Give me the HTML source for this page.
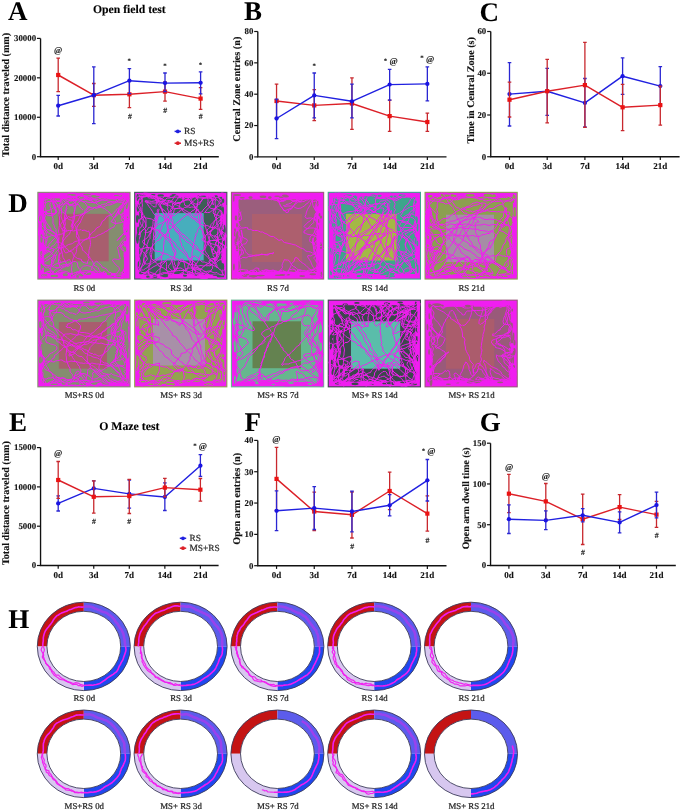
<!DOCTYPE html>
<html><head><meta charset="utf-8"><style>
html,body{margin:0;padding:0;background:#fff;overflow:hidden;width:685px;height:812px;}
svg{display:block;filter:blur(0.35px);}
text{font-family:'Liberation Serif', serif;text-rendering:geometricPrecision;}
</style></head><body>
<svg width="685" height="812" viewBox="0 0 685 812">
<rect width="685" height="812" fill="#fff"/>
<text x="7.90" y="20.40" font-size="27" font-weight="bold" text-anchor="start" fill="#000" >A</text>
<text x="244.00" y="20.40" font-size="27" font-weight="bold" text-anchor="start" fill="#000" >B</text>
<text x="479.50" y="20.60" font-size="27" font-weight="bold" text-anchor="start" fill="#000" >C</text>
<text x="8.20" y="211.90" font-size="27" font-weight="bold" text-anchor="start" fill="#000" >D</text>
<text x="9.00" y="430.50" font-size="27" font-weight="bold" text-anchor="start" fill="#000" >E</text>
<text x="244.40" y="430.70" font-size="27" font-weight="bold" text-anchor="start" fill="#000" >F</text>
<text x="479.80" y="431.20" font-size="27" font-weight="bold" text-anchor="start" fill="#000" >G</text>
<text x="8.20" y="628.00" font-size="27" font-weight="bold" text-anchor="start" fill="#000" >H</text>
<text x="129.35" y="13.40" font-size="11.7" font-weight="bold" text-anchor="middle" fill="#000" stroke="#000" stroke-width="0.12" >Open field test</text>
<text x="129.30" y="430.10" font-size="11.8" font-weight="bold" text-anchor="middle" fill="#000" stroke="#000" stroke-width="0.12" >O Maze test</text>
<path d="M40.55 38.40 V156.70 H218.80" stroke="#111" stroke-width="1.35" fill="none"/>
<path d="M36.95 156.70 H40.55" stroke="#111" stroke-width="1.2"/>
<text x="36.05" y="159.50" font-size="8.8" font-weight="bold" text-anchor="end" fill="#111" stroke="#111" stroke-width="0.12" >0</text>
<path d="M36.95 117.27 H40.55" stroke="#111" stroke-width="1.2"/>
<text x="36.05" y="120.07" font-size="8.8" font-weight="bold" text-anchor="end" fill="#111" stroke="#111" stroke-width="0.12" >10000</text>
<path d="M36.95 77.83 H40.55" stroke="#111" stroke-width="1.2"/>
<text x="36.05" y="80.63" font-size="8.8" font-weight="bold" text-anchor="end" fill="#111" stroke="#111" stroke-width="0.12" >20000</text>
<path d="M36.95 38.40 H40.55" stroke="#111" stroke-width="1.2"/>
<text x="36.05" y="41.20" font-size="8.8" font-weight="bold" text-anchor="end" fill="#111" stroke="#111" stroke-width="0.12" >30000</text>
<path d="M58.20 156.70 V159.90" stroke="#111" stroke-width="1.2"/>
<text x="58.20" y="169.30" font-size="9" font-weight="bold" text-anchor="middle" fill="#111" stroke="#111" stroke-width="0.12" >0d</text>
<path d="M93.80 156.70 V159.90" stroke="#111" stroke-width="1.2"/>
<text x="93.80" y="169.30" font-size="9" font-weight="bold" text-anchor="middle" fill="#111" stroke="#111" stroke-width="0.12" >3d</text>
<path d="M129.40 156.70 V159.90" stroke="#111" stroke-width="1.2"/>
<text x="129.40" y="169.30" font-size="9" font-weight="bold" text-anchor="middle" fill="#111" stroke="#111" stroke-width="0.12" >7d</text>
<path d="M165.00 156.70 V159.90" stroke="#111" stroke-width="1.2"/>
<text x="165.00" y="169.30" font-size="9" font-weight="bold" text-anchor="middle" fill="#111" stroke="#111" stroke-width="0.12" >14d</text>
<path d="M200.60 156.70 V159.90" stroke="#111" stroke-width="1.2"/>
<text x="200.60" y="169.30" font-size="9" font-weight="bold" text-anchor="middle" fill="#111" stroke="#111" stroke-width="0.12" >21d</text>
<path d="M58.20 58.10 V91.60 M56.40 58.10 H60.00 M56.40 91.60 H60.00" stroke="#c8282e" stroke-width="1.3" fill="none"/>
<path d="M93.80 83.50 V106.40 M92.00 83.50 H95.60 M92.00 106.40 H95.60" stroke="#c8282e" stroke-width="1.3" fill="none"/>
<path d="M129.40 80.90 V107.70 M127.60 80.90 H131.20 M127.60 107.70 H131.20" stroke="#c8282e" stroke-width="1.3" fill="none"/>
<path d="M165.00 82.00 V101.20 M163.20 82.00 H166.80 M163.20 101.20 H166.80" stroke="#c8282e" stroke-width="1.3" fill="none"/>
<path d="M200.60 87.70 V109.40 M198.80 87.70 H202.40 M198.80 109.40 H202.40" stroke="#c8282e" stroke-width="1.3" fill="none"/>
<path d="M58.20 75.00 L93.80 95.20 L129.40 94.30 L165.00 91.60 L200.60 98.60" stroke="#dc2028" stroke-width="1.45" fill="none" stroke-linejoin="round"/>
<rect x="56.10" y="72.90" width="4.2" height="4.2" fill="#ec1212"/>
<rect x="91.70" y="93.10" width="4.2" height="4.2" fill="#ec1212"/>
<rect x="127.30" y="92.20" width="4.2" height="4.2" fill="#ec1212"/>
<rect x="162.90" y="89.50" width="4.2" height="4.2" fill="#ec1212"/>
<rect x="198.50" y="96.50" width="4.2" height="4.2" fill="#ec1212"/>
<path d="M58.20 95.30 V116.00 M56.40 95.30 H60.00 M56.40 116.00 H60.00" stroke="#2a26d2" stroke-width="1.3" fill="none"/>
<path d="M93.80 66.90 V123.60 M92.00 66.90 H95.60 M92.00 123.60 H95.60" stroke="#2a26d2" stroke-width="1.3" fill="none"/>
<path d="M129.40 68.60 V93.60 M127.60 68.60 H131.20 M127.60 93.60 H131.20" stroke="#2a26d2" stroke-width="1.3" fill="none"/>
<path d="M165.00 73.00 V91.60 M163.20 73.00 H166.80 M163.20 91.60 H166.80" stroke="#2a26d2" stroke-width="1.3" fill="none"/>
<path d="M200.60 71.90 V93.90 M198.80 71.90 H202.40 M198.80 93.90 H202.40" stroke="#2a26d2" stroke-width="1.3" fill="none"/>
<path d="M58.20 105.70 L93.80 95.20 L129.40 80.70 L165.00 83.10 L200.60 82.80" stroke="#2020e0" stroke-width="1.45" fill="none" stroke-linejoin="round"/>
<circle cx="58.20" cy="105.70" r="2.15" fill="#1a14e2"/>
<circle cx="93.80" cy="95.20" r="2.15" fill="#1a14e2"/>
<circle cx="129.40" cy="80.70" r="2.15" fill="#1a14e2"/>
<circle cx="165.00" cy="83.10" r="2.15" fill="#1a14e2"/>
<circle cx="200.60" cy="82.80" r="2.15" fill="#1a14e2"/>
<text x="58.05" y="52.95" font-size="8.9" font-weight="bold" text-anchor="middle" fill="#1a1a1a" stroke="#1a1a1a" stroke-width="0.12" >@</text>
<text x="129.30" y="62.81" font-size="6.9" font-weight="bold" text-anchor="middle" fill="#1a1a1a" stroke="#1a1a1a" stroke-width="0.12" >*</text>
<text x="165.10" y="67.91" font-size="6.9" font-weight="bold" text-anchor="middle" fill="#1a1a1a" stroke="#1a1a1a" stroke-width="0.12" >*</text>
<text x="200.60" y="66.61" font-size="6.9" font-weight="bold" text-anchor="middle" fill="#1a1a1a" stroke="#1a1a1a" stroke-width="0.12" >*</text>
<text x="129.85" y="119.19" font-size="7.8" font-weight="bold" text-anchor="middle" fill="#1a1a1a" stroke="#1a1a1a" stroke-width="0.12" >#</text>
<text x="165.10" y="112.64" font-size="7.8" font-weight="bold" text-anchor="middle" fill="#1a1a1a" stroke="#1a1a1a" stroke-width="0.12" >#</text>
<text x="200.60" y="119.23" font-size="7.8" font-weight="bold" text-anchor="middle" fill="#1a1a1a" stroke="#1a1a1a" stroke-width="0.12" >#</text>
<text x="9.40" y="94.95" font-size="10.15" font-weight="bold" text-anchor="middle" fill="#111" stroke="#111" stroke-width="0.12" transform="rotate(-90 9.40 94.95)">Total distance traveled (mm)</text>
<path d="M174.60 131.40 H181.00" stroke="#2020e0" stroke-width="1.5"/>
<circle cx="177.80" cy="131.40" r="1.9" fill="#2020e0"/>
<text x="184.10" y="134.10" font-size="9.4" font-weight="normal" text-anchor="start" fill="#2a2a2a" stroke="#2a2a2a" stroke-width="0.22" >RS</text>
<path d="M174.60 143.20 H181.00" stroke="#dc2028" stroke-width="1.5"/>
<circle cx="177.80" cy="143.20" r="1.9" fill="#dc2028"/>
<text x="184.10" y="145.90" font-size="9.4" font-weight="normal" text-anchor="start" fill="#2a2a2a" stroke="#2a2a2a" stroke-width="0.22" >MS+RS</text>
<path d="M257.80 31.50 V156.90 H446.50" stroke="#111" stroke-width="1.35" fill="none"/>
<path d="M254.20 156.90 H257.80" stroke="#111" stroke-width="1.2"/>
<text x="253.30" y="159.70" font-size="8.8" font-weight="bold" text-anchor="end" fill="#111" stroke="#111" stroke-width="0.12" >0</text>
<path d="M254.20 125.55 H257.80" stroke="#111" stroke-width="1.2"/>
<text x="253.30" y="128.35" font-size="8.8" font-weight="bold" text-anchor="end" fill="#111" stroke="#111" stroke-width="0.12" >20</text>
<path d="M254.20 94.20 H257.80" stroke="#111" stroke-width="1.2"/>
<text x="253.30" y="97.00" font-size="8.8" font-weight="bold" text-anchor="end" fill="#111" stroke="#111" stroke-width="0.12" >40</text>
<path d="M254.20 62.85 H257.80" stroke="#111" stroke-width="1.2"/>
<text x="253.30" y="65.65" font-size="8.8" font-weight="bold" text-anchor="end" fill="#111" stroke="#111" stroke-width="0.12" >60</text>
<path d="M254.20 31.50 H257.80" stroke="#111" stroke-width="1.2"/>
<text x="253.30" y="34.30" font-size="8.8" font-weight="bold" text-anchor="end" fill="#111" stroke="#111" stroke-width="0.12" >80</text>
<path d="M276.55 156.90 V160.10" stroke="#111" stroke-width="1.2"/>
<text x="276.55" y="169.30" font-size="9" font-weight="bold" text-anchor="middle" fill="#111" stroke="#111" stroke-width="0.12" >0d</text>
<path d="M314.25 156.90 V160.10" stroke="#111" stroke-width="1.2"/>
<text x="314.25" y="169.30" font-size="9" font-weight="bold" text-anchor="middle" fill="#111" stroke="#111" stroke-width="0.12" >3d</text>
<path d="M351.95 156.90 V160.10" stroke="#111" stroke-width="1.2"/>
<text x="351.95" y="169.30" font-size="9" font-weight="bold" text-anchor="middle" fill="#111" stroke="#111" stroke-width="0.12" >7d</text>
<path d="M389.65 156.90 V160.10" stroke="#111" stroke-width="1.2"/>
<text x="389.65" y="169.30" font-size="9" font-weight="bold" text-anchor="middle" fill="#111" stroke="#111" stroke-width="0.12" >14d</text>
<path d="M427.35 156.90 V160.10" stroke="#111" stroke-width="1.2"/>
<text x="427.35" y="169.30" font-size="9" font-weight="bold" text-anchor="middle" fill="#111" stroke="#111" stroke-width="0.12" >21d</text>
<path d="M276.55 84.20 V117.80 M274.75 84.20 H278.35 M274.75 117.80 H278.35" stroke="#c8282e" stroke-width="1.3" fill="none"/>
<path d="M314.25 89.70 V120.70 M312.45 89.70 H316.05 M312.45 120.70 H316.05" stroke="#c8282e" stroke-width="1.3" fill="none"/>
<path d="M351.95 77.90 V129.30 M350.15 77.90 H353.75 M350.15 129.30 H353.75" stroke="#c8282e" stroke-width="1.3" fill="none"/>
<path d="M389.65 100.10 V131.30 M387.85 100.10 H391.45 M387.85 131.30 H391.45" stroke="#c8282e" stroke-width="1.3" fill="none"/>
<path d="M427.35 113.20 V131.30 M425.55 113.20 H429.15 M425.55 131.30 H429.15" stroke="#c8282e" stroke-width="1.3" fill="none"/>
<path d="M276.55 101.00 L314.25 105.40 L351.95 103.50 L389.65 116.10 L427.35 122.00" stroke="#dc2028" stroke-width="1.45" fill="none" stroke-linejoin="round"/>
<rect x="274.45" y="98.90" width="4.2" height="4.2" fill="#ec1212"/>
<rect x="312.15" y="103.30" width="4.2" height="4.2" fill="#ec1212"/>
<rect x="349.85" y="101.40" width="4.2" height="4.2" fill="#ec1212"/>
<rect x="387.55" y="114.00" width="4.2" height="4.2" fill="#ec1212"/>
<rect x="425.25" y="119.90" width="4.2" height="4.2" fill="#ec1212"/>
<path d="M276.55 99.20 V138.60 M274.75 99.20 H278.35 M274.75 138.60 H278.35" stroke="#2a26d2" stroke-width="1.3" fill="none"/>
<path d="M314.25 73.00 V117.80 M312.45 73.00 H316.05 M312.45 117.80 H316.05" stroke="#2a26d2" stroke-width="1.3" fill="none"/>
<path d="M351.95 84.20 V117.80 M350.15 84.20 H353.75 M350.15 117.80 H353.75" stroke="#2a26d2" stroke-width="1.3" fill="none"/>
<path d="M389.65 69.40 V100.10 M387.85 69.40 H391.45 M387.85 100.10 H391.45" stroke="#2a26d2" stroke-width="1.3" fill="none"/>
<path d="M427.35 66.80 V100.80 M425.55 66.80 H429.15 M425.55 100.80 H429.15" stroke="#2a26d2" stroke-width="1.3" fill="none"/>
<path d="M276.55 118.50 L314.25 95.40 L351.95 101.30 L389.65 84.60 L427.35 83.90" stroke="#2020e0" stroke-width="1.45" fill="none" stroke-linejoin="round"/>
<circle cx="276.55" cy="118.50" r="2.15" fill="#1a14e2"/>
<circle cx="314.25" cy="95.40" r="2.15" fill="#1a14e2"/>
<circle cx="351.95" cy="101.30" r="2.15" fill="#1a14e2"/>
<circle cx="389.65" cy="84.60" r="2.15" fill="#1a14e2"/>
<circle cx="427.35" cy="83.90" r="2.15" fill="#1a14e2"/>
<text x="314.25" y="67.61" font-size="6.9" font-weight="bold" text-anchor="middle" fill="#1a1a1a" stroke="#1a1a1a" stroke-width="0.12" >*</text>
<text x="385.60" y="62.51" font-size="6.9" font-weight="bold" text-anchor="middle" fill="#1a1a1a" stroke="#1a1a1a" stroke-width="0.12" >*</text>
<text x="393.60" y="63.70" font-size="8.9" font-weight="bold" text-anchor="middle" fill="#1a1a1a" stroke="#1a1a1a" stroke-width="0.12" >@</text>
<text x="421.90" y="60.11" font-size="6.9" font-weight="bold" text-anchor="middle" fill="#1a1a1a" stroke="#1a1a1a" stroke-width="0.12" >*</text>
<text x="430.10" y="61.80" font-size="8.9" font-weight="bold" text-anchor="middle" fill="#1a1a1a" stroke="#1a1a1a" stroke-width="0.12" >@</text>
<text x="240.20" y="89.20" font-size="10.2" font-weight="bold" text-anchor="middle" fill="#111" stroke="#111" stroke-width="0.12" transform="rotate(-90 240.20 89.20)">Central Zone entries (n)</text>
<path d="M490.75 31.50 V156.75 H679.60" stroke="#111" stroke-width="1.35" fill="none"/>
<path d="M487.15 156.75 H490.75" stroke="#111" stroke-width="1.2"/>
<text x="486.25" y="159.55" font-size="8.8" font-weight="bold" text-anchor="end" fill="#111" stroke="#111" stroke-width="0.12" >0</text>
<path d="M487.15 115.00 H490.75" stroke="#111" stroke-width="1.2"/>
<text x="486.25" y="117.80" font-size="8.8" font-weight="bold" text-anchor="end" fill="#111" stroke="#111" stroke-width="0.12" >20</text>
<path d="M487.15 73.25 H490.75" stroke="#111" stroke-width="1.2"/>
<text x="486.25" y="76.05" font-size="8.8" font-weight="bold" text-anchor="end" fill="#111" stroke="#111" stroke-width="0.12" >40</text>
<path d="M487.15 31.50 H490.75" stroke="#111" stroke-width="1.2"/>
<text x="486.25" y="34.30" font-size="8.8" font-weight="bold" text-anchor="end" fill="#111" stroke="#111" stroke-width="0.12" >60</text>
<path d="M509.50 156.75 V159.95" stroke="#111" stroke-width="1.2"/>
<text x="509.50" y="169.30" font-size="9" font-weight="bold" text-anchor="middle" fill="#111" stroke="#111" stroke-width="0.12" >0d</text>
<path d="M547.20 156.75 V159.95" stroke="#111" stroke-width="1.2"/>
<text x="547.20" y="169.30" font-size="9" font-weight="bold" text-anchor="middle" fill="#111" stroke="#111" stroke-width="0.12" >3d</text>
<path d="M584.90 156.75 V159.95" stroke="#111" stroke-width="1.2"/>
<text x="584.90" y="169.30" font-size="9" font-weight="bold" text-anchor="middle" fill="#111" stroke="#111" stroke-width="0.12" >7d</text>
<path d="M622.60 156.75 V159.95" stroke="#111" stroke-width="1.2"/>
<text x="622.60" y="169.30" font-size="9" font-weight="bold" text-anchor="middle" fill="#111" stroke="#111" stroke-width="0.12" >14d</text>
<path d="M660.30 156.75 V159.95" stroke="#111" stroke-width="1.2"/>
<text x="660.30" y="169.30" font-size="9" font-weight="bold" text-anchor="middle" fill="#111" stroke="#111" stroke-width="0.12" >21d</text>
<path d="M509.50 62.70 V126.00 M507.70 62.70 H511.30 M507.70 126.00 H511.30" stroke="#2a26d2" stroke-width="1.3" fill="none"/>
<path d="M547.20 68.30 V115.30 M545.40 68.30 H549.00 M545.40 115.30 H549.00" stroke="#2a26d2" stroke-width="1.3" fill="none"/>
<path d="M584.90 78.50 V127.00 M583.10 78.50 H586.70 M583.10 127.00 H586.70" stroke="#2a26d2" stroke-width="1.3" fill="none"/>
<path d="M622.60 57.90 V94.40 M620.80 57.90 H624.40 M620.80 94.40 H624.40" stroke="#2a26d2" stroke-width="1.3" fill="none"/>
<path d="M660.30 66.70 V105.00 M658.50 66.70 H662.10 M658.50 105.00 H662.10" stroke="#2a26d2" stroke-width="1.3" fill="none"/>
<path d="M509.50 94.10 L547.20 91.20 L584.90 102.90 L622.60 76.20 L660.30 86.10" stroke="#2020e0" stroke-width="1.45" fill="none" stroke-linejoin="round"/>
<circle cx="509.50" cy="94.10" r="2.15" fill="#1a14e2"/>
<circle cx="547.20" cy="91.20" r="2.15" fill="#1a14e2"/>
<circle cx="584.90" cy="102.90" r="2.15" fill="#1a14e2"/>
<circle cx="622.60" cy="76.20" r="2.15" fill="#1a14e2"/>
<circle cx="660.30" cy="86.10" r="2.15" fill="#1a14e2"/>
<path d="M509.50 82.20 V117.00 M507.70 82.20 H511.30 M507.70 117.00 H511.30" stroke="#c8282e" stroke-width="1.3" fill="none"/>
<path d="M547.20 59.40 V122.90 M545.40 59.40 H549.00 M545.40 122.90 H549.00" stroke="#c8282e" stroke-width="1.3" fill="none"/>
<path d="M584.90 42.30 V127.30 M583.10 42.30 H586.70 M583.10 127.30 H586.70" stroke="#c8282e" stroke-width="1.3" fill="none"/>
<path d="M622.60 84.30 V130.60 M620.80 84.30 H624.40 M620.80 130.60 H624.40" stroke="#c8282e" stroke-width="1.3" fill="none"/>
<path d="M660.30 86.10 V125.10 M658.50 86.10 H662.10 M658.50 125.10 H662.10" stroke="#c8282e" stroke-width="1.3" fill="none"/>
<path d="M509.50 99.70 L547.20 91.20 L584.90 85.10 L622.60 107.30 L660.30 105.10" stroke="#dc2028" stroke-width="1.45" fill="none" stroke-linejoin="round"/>
<rect x="507.40" y="97.60" width="4.2" height="4.2" fill="#ec1212"/>
<rect x="545.10" y="89.10" width="4.2" height="4.2" fill="#ec1212"/>
<rect x="582.80" y="83.00" width="4.2" height="4.2" fill="#ec1212"/>
<rect x="620.50" y="105.20" width="4.2" height="4.2" fill="#ec1212"/>
<rect x="658.20" y="103.00" width="4.2" height="4.2" fill="#ec1212"/>
<text x="474.20" y="90.35" font-size="10.1" font-weight="bold" text-anchor="middle" fill="#111" stroke="#111" stroke-width="0.12" transform="rotate(-90 474.20 90.35)">Time in Central Zone (s)</text>
<path d="M40.55 447.60 V565.50 H218.60" stroke="#111" stroke-width="1.35" fill="none"/>
<path d="M36.95 565.50 H40.55" stroke="#111" stroke-width="1.2"/>
<text x="36.05" y="568.30" font-size="8.8" font-weight="bold" text-anchor="end" fill="#111" stroke="#111" stroke-width="0.12" >0</text>
<path d="M36.95 526.20 H40.55" stroke="#111" stroke-width="1.2"/>
<text x="36.05" y="529.00" font-size="8.8" font-weight="bold" text-anchor="end" fill="#111" stroke="#111" stroke-width="0.12" >5000</text>
<path d="M36.95 486.90 H40.55" stroke="#111" stroke-width="1.2"/>
<text x="36.05" y="489.70" font-size="8.8" font-weight="bold" text-anchor="end" fill="#111" stroke="#111" stroke-width="0.12" >10000</text>
<path d="M36.95 447.60 H40.55" stroke="#111" stroke-width="1.2"/>
<text x="36.05" y="450.40" font-size="8.8" font-weight="bold" text-anchor="end" fill="#111" stroke="#111" stroke-width="0.12" >15000</text>
<path d="M58.20 565.50 V568.70" stroke="#111" stroke-width="1.2"/>
<text x="58.20" y="578.00" font-size="9" font-weight="bold" text-anchor="middle" fill="#111" stroke="#111" stroke-width="0.12" >0d</text>
<path d="M93.75 565.50 V568.70" stroke="#111" stroke-width="1.2"/>
<text x="93.75" y="578.00" font-size="9" font-weight="bold" text-anchor="middle" fill="#111" stroke="#111" stroke-width="0.12" >3d</text>
<path d="M129.30 565.50 V568.70" stroke="#111" stroke-width="1.2"/>
<text x="129.30" y="578.00" font-size="9" font-weight="bold" text-anchor="middle" fill="#111" stroke="#111" stroke-width="0.12" >7d</text>
<path d="M164.85 565.50 V568.70" stroke="#111" stroke-width="1.2"/>
<text x="164.85" y="578.00" font-size="9" font-weight="bold" text-anchor="middle" fill="#111" stroke="#111" stroke-width="0.12" >14d</text>
<path d="M200.40 565.50 V568.70" stroke="#111" stroke-width="1.2"/>
<text x="200.40" y="578.00" font-size="9" font-weight="bold" text-anchor="middle" fill="#111" stroke="#111" stroke-width="0.12" >21d</text>
<path d="M58.20 495.80 V511.00 M56.40 495.80 H60.00 M56.40 511.00 H60.00" stroke="#2a26d2" stroke-width="1.3" fill="none"/>
<path d="M93.75 480.80 V496.00 M91.95 480.80 H95.55 M91.95 496.00 H95.55" stroke="#2a26d2" stroke-width="1.3" fill="none"/>
<path d="M129.30 480.00 V508.10 M127.50 480.00 H131.10 M127.50 508.10 H131.10" stroke="#2a26d2" stroke-width="1.3" fill="none"/>
<path d="M164.85 482.90 V510.50 M163.05 482.90 H166.65 M163.05 510.50 H166.65" stroke="#2a26d2" stroke-width="1.3" fill="none"/>
<path d="M200.40 454.70 V476.30 M198.60 454.70 H202.20 M198.60 476.30 H202.20" stroke="#2a26d2" stroke-width="1.3" fill="none"/>
<path d="M58.20 503.40 L93.75 488.40 L129.30 493.90 L164.85 497.00 L200.40 465.70" stroke="#2020e0" stroke-width="1.45" fill="none" stroke-linejoin="round"/>
<circle cx="58.20" cy="503.40" r="2.15" fill="#1a14e2"/>
<circle cx="93.75" cy="488.40" r="2.15" fill="#1a14e2"/>
<circle cx="129.30" cy="493.90" r="2.15" fill="#1a14e2"/>
<circle cx="164.85" cy="497.00" r="2.15" fill="#1a14e2"/>
<circle cx="200.40" cy="465.70" r="2.15" fill="#1a14e2"/>
<path d="M58.20 461.50 V498.30 M56.40 461.50 H60.00 M56.40 498.30 H60.00" stroke="#c8282e" stroke-width="1.3" fill="none"/>
<path d="M93.75 480.80 V513.20 M91.95 480.80 H95.55 M91.95 513.20 H95.55" stroke="#c8282e" stroke-width="1.3" fill="none"/>
<path d="M129.30 479.30 V513.50 M127.50 479.30 H131.10 M127.50 513.50 H131.10" stroke="#c8282e" stroke-width="1.3" fill="none"/>
<path d="M164.85 478.40 V496.80 M163.05 478.40 H166.65 M163.05 496.80 H166.65" stroke="#c8282e" stroke-width="1.3" fill="none"/>
<path d="M200.40 478.50 V501.10 M198.60 478.50 H202.20 M198.60 501.10 H202.20" stroke="#c8282e" stroke-width="1.3" fill="none"/>
<path d="M58.20 480.00 L93.75 496.80 L129.30 496.10 L164.85 487.60 L200.40 489.70" stroke="#dc2028" stroke-width="1.45" fill="none" stroke-linejoin="round"/>
<rect x="56.10" y="477.90" width="4.2" height="4.2" fill="#ec1212"/>
<rect x="91.65" y="494.70" width="4.2" height="4.2" fill="#ec1212"/>
<rect x="127.20" y="494.00" width="4.2" height="4.2" fill="#ec1212"/>
<rect x="162.75" y="485.50" width="4.2" height="4.2" fill="#ec1212"/>
<rect x="198.30" y="487.60" width="4.2" height="4.2" fill="#ec1212"/>
<text x="58.10" y="456.20" font-size="8.9" font-weight="bold" text-anchor="middle" fill="#1a1a1a" stroke="#1a1a1a" stroke-width="0.12" >@</text>
<text x="93.90" y="524.44" font-size="7.8" font-weight="bold" text-anchor="middle" fill="#1a1a1a" stroke="#1a1a1a" stroke-width="0.12" >#</text>
<text x="129.20" y="524.34" font-size="7.8" font-weight="bold" text-anchor="middle" fill="#1a1a1a" stroke="#1a1a1a" stroke-width="0.12" >#</text>
<text x="194.90" y="448.31" font-size="6.9" font-weight="bold" text-anchor="middle" fill="#1a1a1a" stroke="#1a1a1a" stroke-width="0.12" >*</text>
<text x="202.90" y="449.40" font-size="8.9" font-weight="bold" text-anchor="middle" fill="#1a1a1a" stroke="#1a1a1a" stroke-width="0.12" >@</text>
<text x="9.50" y="503.10" font-size="10.1" font-weight="bold" text-anchor="middle" fill="#111" stroke="#111" stroke-width="0.12" transform="rotate(-90 9.50 503.10)">Total distance traveled (mm)</text>
<path d="M179.80 538.30 H186.20" stroke="#2020e0" stroke-width="1.5"/>
<circle cx="183.00" cy="538.30" r="1.9" fill="#2020e0"/>
<text x="189.40" y="541.00" font-size="9.4" font-weight="normal" text-anchor="start" fill="#2a2a2a" stroke="#2a2a2a" stroke-width="0.22" >RS</text>
<path d="M179.80 548.20 H186.20" stroke="#dc2028" stroke-width="1.5"/>
<circle cx="183.00" cy="548.20" r="1.9" fill="#dc2028"/>
<text x="189.40" y="550.90" font-size="9.4" font-weight="normal" text-anchor="start" fill="#2a2a2a" stroke="#2a2a2a" stroke-width="0.22" >MS+RS</text>
<path d="M257.80 440.40 V565.70 H446.50" stroke="#111" stroke-width="1.35" fill="none"/>
<path d="M254.20 565.70 H257.80" stroke="#111" stroke-width="1.2"/>
<text x="253.30" y="568.50" font-size="8.8" font-weight="bold" text-anchor="end" fill="#111" stroke="#111" stroke-width="0.12" >0</text>
<path d="M254.20 534.38 H257.80" stroke="#111" stroke-width="1.2"/>
<text x="253.30" y="537.17" font-size="8.8" font-weight="bold" text-anchor="end" fill="#111" stroke="#111" stroke-width="0.12" >10</text>
<path d="M254.20 503.05 H257.80" stroke="#111" stroke-width="1.2"/>
<text x="253.30" y="505.85" font-size="8.8" font-weight="bold" text-anchor="end" fill="#111" stroke="#111" stroke-width="0.12" >20</text>
<path d="M254.20 471.73 H257.80" stroke="#111" stroke-width="1.2"/>
<text x="253.30" y="474.53" font-size="8.8" font-weight="bold" text-anchor="end" fill="#111" stroke="#111" stroke-width="0.12" >30</text>
<path d="M254.20 440.40 H257.80" stroke="#111" stroke-width="1.2"/>
<text x="253.30" y="443.20" font-size="8.8" font-weight="bold" text-anchor="end" fill="#111" stroke="#111" stroke-width="0.12" >40</text>
<path d="M276.55 565.70 V568.90" stroke="#111" stroke-width="1.2"/>
<text x="276.55" y="578.00" font-size="9" font-weight="bold" text-anchor="middle" fill="#111" stroke="#111" stroke-width="0.12" >0d</text>
<path d="M314.25 565.70 V568.90" stroke="#111" stroke-width="1.2"/>
<text x="314.25" y="578.00" font-size="9" font-weight="bold" text-anchor="middle" fill="#111" stroke="#111" stroke-width="0.12" >3d</text>
<path d="M351.95 565.70 V568.90" stroke="#111" stroke-width="1.2"/>
<text x="351.95" y="578.00" font-size="9" font-weight="bold" text-anchor="middle" fill="#111" stroke="#111" stroke-width="0.12" >7d</text>
<path d="M389.65 565.70 V568.90" stroke="#111" stroke-width="1.2"/>
<text x="389.65" y="578.00" font-size="9" font-weight="bold" text-anchor="middle" fill="#111" stroke="#111" stroke-width="0.12" >14d</text>
<path d="M427.35 565.70 V568.90" stroke="#111" stroke-width="1.2"/>
<text x="427.35" y="578.00" font-size="9" font-weight="bold" text-anchor="middle" fill="#111" stroke="#111" stroke-width="0.12" >21d</text>
<path d="M276.55 447.30 V510.50 M274.75 447.30 H278.35 M274.75 510.50 H278.35" stroke="#c8282e" stroke-width="1.3" fill="none"/>
<path d="M314.25 492.20 V530.70 M312.45 492.20 H316.05 M312.45 530.70 H316.05" stroke="#c8282e" stroke-width="1.3" fill="none"/>
<path d="M351.95 492.00 V538.00 M350.15 492.00 H353.75 M350.15 538.00 H353.75" stroke="#c8282e" stroke-width="1.3" fill="none"/>
<path d="M389.65 472.10 V509.70 M387.85 472.10 H391.45 M387.85 509.70 H391.45" stroke="#c8282e" stroke-width="1.3" fill="none"/>
<path d="M427.35 495.80 V531.10 M425.55 495.80 H429.15 M425.55 531.10 H429.15" stroke="#c8282e" stroke-width="1.3" fill="none"/>
<path d="M276.55 478.90 L314.25 511.50 L351.95 514.80 L389.65 491.00 L427.35 513.60" stroke="#dc2028" stroke-width="1.45" fill="none" stroke-linejoin="round"/>
<rect x="274.45" y="476.80" width="4.2" height="4.2" fill="#ec1212"/>
<rect x="312.15" y="509.40" width="4.2" height="4.2" fill="#ec1212"/>
<rect x="349.85" y="512.70" width="4.2" height="4.2" fill="#ec1212"/>
<rect x="387.55" y="488.90" width="4.2" height="4.2" fill="#ec1212"/>
<rect x="425.25" y="511.50" width="4.2" height="4.2" fill="#ec1212"/>
<path d="M276.55 490.80 V530.70 M274.75 490.80 H278.35 M274.75 530.70 H278.35" stroke="#2a26d2" stroke-width="1.3" fill="none"/>
<path d="M314.25 486.70 V529.50 M312.45 486.70 H316.05 M312.45 529.50 H316.05" stroke="#2a26d2" stroke-width="1.3" fill="none"/>
<path d="M351.95 491.10 V531.80 M350.15 491.10 H353.75 M350.15 531.80 H353.75" stroke="#2a26d2" stroke-width="1.3" fill="none"/>
<path d="M389.65 494.70 V515.80 M387.85 494.70 H391.45 M387.85 515.80 H391.45" stroke="#2a26d2" stroke-width="1.3" fill="none"/>
<path d="M427.35 459.50 V501.00 M425.55 459.50 H429.15 M425.55 501.00 H429.15" stroke="#2a26d2" stroke-width="1.3" fill="none"/>
<path d="M276.55 510.80 L314.25 508.10 L351.95 511.50 L389.65 505.30 L427.35 480.30" stroke="#2020e0" stroke-width="1.45" fill="none" stroke-linejoin="round"/>
<circle cx="276.55" cy="510.80" r="2.15" fill="#1a14e2"/>
<circle cx="314.25" cy="508.10" r="2.15" fill="#1a14e2"/>
<circle cx="351.95" cy="511.50" r="2.15" fill="#1a14e2"/>
<circle cx="389.65" cy="505.30" r="2.15" fill="#1a14e2"/>
<circle cx="427.35" cy="480.30" r="2.15" fill="#1a14e2"/>
<text x="276.50" y="442.20" font-size="8.9" font-weight="bold" text-anchor="middle" fill="#1a1a1a" stroke="#1a1a1a" stroke-width="0.12" >@</text>
<text x="352.10" y="549.13" font-size="7.8" font-weight="bold" text-anchor="middle" fill="#1a1a1a" stroke="#1a1a1a" stroke-width="0.12" >#</text>
<text x="423.60" y="452.81" font-size="6.9" font-weight="bold" text-anchor="middle" fill="#1a1a1a" stroke="#1a1a1a" stroke-width="0.12" >*</text>
<text x="431.40" y="454.10" font-size="8.9" font-weight="bold" text-anchor="middle" fill="#1a1a1a" stroke="#1a1a1a" stroke-width="0.12" >@</text>
<text x="427.40" y="542.53" font-size="7.8" font-weight="bold" text-anchor="middle" fill="#1a1a1a" stroke="#1a1a1a" stroke-width="0.12" >#</text>
<text x="240.20" y="498.75" font-size="10.25" font-weight="bold" text-anchor="middle" fill="#111" stroke="#111" stroke-width="0.12" transform="rotate(-90 240.20 498.75)">Open arm entries (n)</text>
<path d="M490.55 443.20 V565.50 H675.80" stroke="#111" stroke-width="1.35" fill="none"/>
<path d="M486.95 565.50 H490.55" stroke="#111" stroke-width="1.2"/>
<text x="486.05" y="568.30" font-size="8.8" font-weight="bold" text-anchor="end" fill="#111" stroke="#111" stroke-width="0.12" >0</text>
<path d="M486.95 524.73 H490.55" stroke="#111" stroke-width="1.2"/>
<text x="486.05" y="527.53" font-size="8.8" font-weight="bold" text-anchor="end" fill="#111" stroke="#111" stroke-width="0.12" >50</text>
<path d="M486.95 483.97 H490.55" stroke="#111" stroke-width="1.2"/>
<text x="486.05" y="486.77" font-size="8.8" font-weight="bold" text-anchor="end" fill="#111" stroke="#111" stroke-width="0.12" >100</text>
<path d="M486.95 443.20 H490.55" stroke="#111" stroke-width="1.2"/>
<text x="486.05" y="446.00" font-size="8.8" font-weight="bold" text-anchor="end" fill="#111" stroke="#111" stroke-width="0.12" >150</text>
<path d="M508.90 565.50 V568.70" stroke="#111" stroke-width="1.2"/>
<text x="508.90" y="578.00" font-size="9" font-weight="bold" text-anchor="middle" fill="#111" stroke="#111" stroke-width="0.12" >0d</text>
<path d="M545.80 565.50 V568.70" stroke="#111" stroke-width="1.2"/>
<text x="545.80" y="578.00" font-size="9" font-weight="bold" text-anchor="middle" fill="#111" stroke="#111" stroke-width="0.12" >3d</text>
<path d="M582.70 565.50 V568.70" stroke="#111" stroke-width="1.2"/>
<text x="582.70" y="578.00" font-size="9" font-weight="bold" text-anchor="middle" fill="#111" stroke="#111" stroke-width="0.12" >7d</text>
<path d="M619.60 565.50 V568.70" stroke="#111" stroke-width="1.2"/>
<text x="619.60" y="578.00" font-size="9" font-weight="bold" text-anchor="middle" fill="#111" stroke="#111" stroke-width="0.12" >14d</text>
<path d="M656.50 565.50 V568.70" stroke="#111" stroke-width="1.2"/>
<text x="656.50" y="578.00" font-size="9" font-weight="bold" text-anchor="middle" fill="#111" stroke="#111" stroke-width="0.12" >21d</text>
<path d="M508.90 474.40 V512.70 M507.10 474.40 H510.70 M507.10 512.70 H510.70" stroke="#c8282e" stroke-width="1.3" fill="none"/>
<path d="M545.80 483.50 V519.30 M544.00 483.50 H547.60 M544.00 519.30 H547.60" stroke="#c8282e" stroke-width="1.3" fill="none"/>
<path d="M582.70 494.10 V544.50 M580.90 494.10 H584.50 M580.90 544.50 H584.50" stroke="#c8282e" stroke-width="1.3" fill="none"/>
<path d="M619.60 494.70 V519.50 M617.80 494.70 H621.40 M617.80 519.50 H621.40" stroke="#c8282e" stroke-width="1.3" fill="none"/>
<path d="M656.50 501.40 V527.30 M654.70 501.40 H658.30 M654.70 527.30 H658.30" stroke="#c8282e" stroke-width="1.3" fill="none"/>
<path d="M508.90 493.70 L545.80 501.40 L582.70 519.20 L619.60 507.10 L656.50 514.60" stroke="#dc2028" stroke-width="1.45" fill="none" stroke-linejoin="round"/>
<rect x="506.80" y="491.60" width="4.2" height="4.2" fill="#ec1212"/>
<rect x="543.70" y="499.30" width="4.2" height="4.2" fill="#ec1212"/>
<rect x="580.60" y="517.10" width="4.2" height="4.2" fill="#ec1212"/>
<rect x="617.50" y="505.00" width="4.2" height="4.2" fill="#ec1212"/>
<rect x="654.40" y="512.50" width="4.2" height="4.2" fill="#ec1212"/>
<path d="M508.90 504.90 V533.50 M507.10 504.90 H510.70 M507.10 533.50 H510.70" stroke="#2a26d2" stroke-width="1.3" fill="none"/>
<path d="M545.80 510.90 V529.70 M544.00 510.90 H547.60 M544.00 529.70 H547.60" stroke="#2a26d2" stroke-width="1.3" fill="none"/>
<path d="M582.70 508.60 V521.90 M580.90 508.60 H584.50 M580.90 521.90 H584.50" stroke="#2a26d2" stroke-width="1.3" fill="none"/>
<path d="M619.60 511.90 V532.80 M617.80 511.90 H621.40 M617.80 532.80 H621.40" stroke="#2a26d2" stroke-width="1.3" fill="none"/>
<path d="M656.50 492.20 V517.80 M654.70 492.20 H658.30 M654.70 517.80 H658.30" stroke="#2a26d2" stroke-width="1.3" fill="none"/>
<path d="M508.90 519.20 L545.80 520.40 L582.70 515.30 L619.60 522.40 L656.50 505.10" stroke="#2020e0" stroke-width="1.45" fill="none" stroke-linejoin="round"/>
<circle cx="508.90" cy="519.20" r="2.15" fill="#1a14e2"/>
<circle cx="545.80" cy="520.40" r="2.15" fill="#1a14e2"/>
<circle cx="582.70" cy="515.30" r="2.15" fill="#1a14e2"/>
<circle cx="619.60" cy="522.40" r="2.15" fill="#1a14e2"/>
<circle cx="656.50" cy="505.10" r="2.15" fill="#1a14e2"/>
<text x="509.20" y="469.70" font-size="8.9" font-weight="bold" text-anchor="middle" fill="#1a1a1a" stroke="#1a1a1a" stroke-width="0.12" >@</text>
<text x="545.80" y="478.90" font-size="8.9" font-weight="bold" text-anchor="middle" fill="#1a1a1a" stroke="#1a1a1a" stroke-width="0.12" >@</text>
<text x="582.90" y="554.84" font-size="7.8" font-weight="bold" text-anchor="middle" fill="#1a1a1a" stroke="#1a1a1a" stroke-width="0.12" >#</text>
<text x="656.80" y="538.24" font-size="7.8" font-weight="bold" text-anchor="middle" fill="#1a1a1a" stroke="#1a1a1a" stroke-width="0.12" >#</text>
<text x="468.60" y="498.35" font-size="9.9" font-weight="bold" text-anchor="middle" fill="#111" stroke="#111" stroke-width="0.12" transform="rotate(-90 468.60 498.35)">Open arm dwell time (s)</text>
<rect x="37.30" y="191.80" width="93.30" height="87.80" fill="#858d70"/>
<rect x="58.1" y="213.9" width="50.60" height="47.40" fill="#a85e6e"/>
<rect x="41.15" y="195.65" width="85.60" height="80.10" fill="none" stroke="#f01ef0" stroke-width="5.50"/>
<g transform="scale(.5)" stroke="#f01ef0" stroke-width="1.90" fill="none" stroke-linejoin="round">
<path d="M173 393l-2 1-3 2-6-1-4 0-2 0-2 2-4 2-4 0-3 1-4-4-2-3-4-3-3 0-2 1-5 3-5 1-4-1-2-1-5 0-5-2-2 0-1-2-4 3-4 1-2 4 1 3 1 5 0 4-2 5-5 1-4 0-2 3 1 3 4 1 2 4 1 3 0 4 0 5 0 5 0 4-1 3 1 2 0 4-3 4 1 5 1 5 3 4 0 4-4 3-1 5 0 5 3 3 2 3-1 2-3 3-2 5 0 5 0 2 4 4 2 2-2 3-1 4-1 5 0 4-3 4 2 3 2 1 4 2 4-1 3-2 5 0 0 4 2 3 3-1 3-1 6-1 3-2 5-1 4 1 4 1 4 1 3-1 3 2 4 0 3-2 3-1 6-2 2 1 4 1 2 0 6 1 3-1 3-1 3 0 6-1 2-1 6 0 4 2 3 0 2 1 6 1 0 4 4 1 3 0 7-2 4 0 3 0 4 0 4-2 4-1 4-2 1-4 2-4 0-4"/>
<path d="M84 531l0-4 1-6 0-4 1-5 1-2 1-3 2-3 1-4 1-3-2-4-3-4-2-2-1-3 0-5-2-3-3-3-1-5 1-4 3-2 4 0 5-4-2-2-1-3-2-3-1-5 0-2 2-5 4-5 0-2 1-5 0-5-1-4-1-3-2-4-1-2-2-4 2-6 1-5 2-2 3 3 4 0 5 3 2 1 5 2 3 0 2 2 6-1 5-3 1-1 3-1 5 2 3 1 4 0 2 2 4 0 3-1 4-2 2-2 3-2 4-3 3 3 5 2 4 3 4 1 3 1 4-2 4 1 4 0 1-3 4-5 4-1 3-1 4 1 2 4 3 2 4 1 4 0 6-1 5 0 5-1 5 1 4-2 3 3 3 4-1 4-3 6-2 4"/>
<path d="M81 437l-2 2 1 6 0 3 3 2 1 4 1 3-1 4 2 3 3 2 1 5-1 2-4 3-3 3-3 3 3 3 4 3 2 3-1 3-1 3-1 3 0 2-1 6 2 3 1 4 1 4-2 4-1 3 1 4-1 5-1 3-2 4-1 3 1 2 3 1 5-2 3-2 5-1 1 0 2 2 1 4 3 3 3-3 4-1 5 0 4-2 1-1 3 0 2 0 1 5 0 3 3-1 3-1 6-4 3-1"/>
<path d="M117 542l4-1 5 1 7 1 4 2 3 2 5 1 4-1 5-3 3 1 4 1 5-1 4 0 5-1 4 0 5 0 5 1 5 3 4 2 4 2 2 0 3-3 0-6 2 0 2 2 4 3 6 3 2 1 6 2 4-1 5 1 3-1 2-2 1-5 2-3 2-3 3-2 1-2 0-5 1-4 0-6-2-3-3-4 0-5 0-6-1-1-1-5-2-2-1-3 2-5 3-2 0-3 3-3 2-4-2-2-3-9-1-3 0-5-1-4 2-4-2-4-2-2-2-4 2-4 0-6 3-4 1-1 2-4-2-5 2-3 1-3 1-5 0-3-3 0-4 0-4-1-3 0-3-2-4 2-5-1-4-3-5-2-6-2-5 1-2 1-2 3-4 1-4 2-3 0-5-2-2 2-3 0-7 0-3-1-3 1"/>
<path d="M126 392l-2 0-4 1-4-3-4 0-3 1-5 1-5 1-1 3-2 2-4 1-5 2 0 1-3 5 1 2 0 7-1 3 4 4-2 2 2 4-1 4 1 3 2 5 0 3 1 5-1 3 0 4-3 3-3 4-3 2-1 4 2 2 5 2 4 3 1 4-1 5-1 2 0 4-1 5-1 5 0 3"/>
</g>
<g fill="#858d70"><ellipse cx="89.1" cy="197.0" rx="2.2" ry="0.8"/><ellipse cx="77.6" cy="276.8" rx="1.6" ry="0.9"/><ellipse cx="127.0" cy="203.6" rx="1.4" ry="3.5"/><ellipse cx="65.0" cy="274.3" rx="2.6" ry="0.8"/><ellipse cx="54.3" cy="275.9" rx="3.8" ry="1.2"/><ellipse cx="71.4" cy="194.9" rx="4.5" ry="0.9"/><ellipse cx="127.6" cy="217.9" rx="0.8" ry="1.6"/><ellipse cx="42.6" cy="225.8" rx="0.8" ry="3.6"/><ellipse cx="65.4" cy="275.0" rx="2.5" ry="1.4"/><ellipse cx="118.7" cy="274.0" rx="3.7" ry="0.8"/><ellipse cx="76.2" cy="274.4" rx="3.4" ry="1.1"/><ellipse cx="41.5" cy="238.5" rx="1.1" ry="4.2"/><ellipse cx="126.0" cy="201.2" rx="0.9" ry="2.0"/><ellipse cx="40.2" cy="218.3" rx="1.4" ry="3.1"/><ellipse cx="81.8" cy="275.4" rx="1.8" ry="1.0"/><ellipse cx="87.6" cy="273.8" rx="3.7" ry="1.2"/><ellipse cx="93.7" cy="196.2" rx="1.9" ry="0.8"/><ellipse cx="124.9" cy="249.3" rx="1.3" ry="3.0"/><ellipse cx="72.9" cy="275.8" rx="2.0" ry="1.3"/><ellipse cx="43.5" cy="228.4" rx="0.9" ry="1.9"/><ellipse cx="87.0" cy="194.6" rx="3.9" ry="0.8"/><ellipse cx="80.6" cy="197.3" rx="3.3" ry="1.0"/><ellipse cx="76.4" cy="274.7" rx="1.7" ry="1.0"/><ellipse cx="95.9" cy="197.0" rx="3.9" ry="1.3"/><ellipse cx="125.1" cy="238.1" rx="1.2" ry="3.2"/><ellipse cx="108.8" cy="273.9" rx="2.2" ry="1.3"/><ellipse cx="124.5" cy="205.2" rx="0.8" ry="4.1"/><ellipse cx="118.1" cy="195.7" rx="4.1" ry="0.9"/><ellipse cx="93.6" cy="196.1" rx="2.6" ry="1.2"/><ellipse cx="79.1" cy="274.4" rx="3.4" ry="1.1"/><ellipse cx="70.9" cy="195.0" rx="3.0" ry="1.1"/><ellipse cx="42.8" cy="266.2" rx="1.1" ry="1.9"/><ellipse cx="41.4" cy="266.4" rx="0.8" ry="4.0"/><ellipse cx="126.6" cy="204.8" rx="1.2" ry="4.4"/><ellipse cx="41.4" cy="254.5" rx="1.2" ry="3.5"/><ellipse cx="126.4" cy="230.4" rx="1.0" ry="1.9"/><ellipse cx="111.8" cy="276.3" rx="2.6" ry="0.8"/><ellipse cx="96.5" cy="197.9" rx="2.9" ry="1.0"/><ellipse cx="118.3" cy="276.3" rx="3.1" ry="0.8"/><ellipse cx="44.4" cy="275.4" rx="3.4" ry="1.2"/></g>
<g transform="scale(.5)" stroke="#f01ef0" stroke-width="1.90" fill="none" stroke-linejoin="round">
<path d="M88 450l2 1 1 3 3 5 3 0 6 3 3 3 3 1 3 2 2 3 1 3 3 4-4 6-1 0-2 3-2 2-2 3-3 0-3 6-3 3-3 1-3 2-2 3-3 2-2 3 0 5-1 4 1 1 1 4 1 4 2 3 4 3 2-2 3 2 4 3 3 4 2 4 4 0 1-1 4-3 3-2 3-2 2-3 4-2 4-1 3-4 3-1 3-2 3-1 3-2 4 0 2 1 2 2 0 5 2 5 3 3 0 4 2 3 3 3 4 1 2-1 3-3 5-3 2-3 2-1 2-6 2-4 3-4 3-3 1 0 1 2 2 2 3 2 3 3 1 3 5 2 4 2 2 4 4 3 3 0 3 3 3 3 3 3 6 1 4 1 2 1 3 0 3-3 2-3 2-2 1-3 1-4 1-4-2-6 0-2-1-4 0-2 1-6 0-2 0-6 0-2-2-3-3-3-5-2-2-4-2-1 1-3-1-1 1-4 4-5 4-4 3-5 3-2 2-2 1 4-1 4-2 6-2 3-2 0-3 3-5 2-2-1-4 3-2 2 1 4 1 4 1 5 1 4 1 3 1 1-1 2-5 1-5-1-3 0-2 3 3 4 3 4 4 3 3 3 1 4-1 1-1 2-3 4-3 2-3 1-3 2-6 2-4 0-3 1-4 0-1-2-5-1-2-2-3-2-2-1-3-4-2-2-3-4-2-1-4-2-3-1-4-1-4 1-3 0-1 1-2 2-2 2-2 5-3 2-3 3-4 3-2 0-3 3-3 2-2 2-4-2-6-2-3 2-4-2-3-3-2-1-4-2-5 0-3-1-2-3-4-2 1-4 1-4 1-3 1-6 2-5 0-2 1-5-2-4-3-2-5-4-5-1-4 0-2-1 2-4 5-1 7 1 8 2-1 2 0 3-2 1-1 2-3 4-4 3-3 2-5 3-5 3-2 3-2 4-1 1-2 2 0 5 1 5 1 5 2 2 3 3 2 1 3 0 3 1 4-3 1-2 5-1 4-2 1-3 4-3 3-2 4-3 3-2 4-2 4-1 8 1-1 0-3 1-4 1-6 2-6 2-5-1-6-1-3-2 0-4 0-5 0-4 0-1 2 0 1-1 2-3 0-4 3-4 2-3 2-2 3-3 1-4 2-3 3-4 1-4 4-4 2-4 5-4 3-3 2-5 3-3 2-3 1-4 2-3 3-5 4-3 1-3 2-4 1-3 4-2 2-2 3-2 1-4 0-1 3-3 2-3 1 0 1-2 2 0 0 1-1 0-2 3-3 4-2 4-2 3-3 4-2 5-2 4-2 5-4 4-2 5-1 6 0 7 0 3 0 3 1 0 1 2 2 4 1 3 1 4 3 5 2 2 1 6 2 2 5 4 2 3 3 2 2 3 2 4 3 3 2 4 2 5 2 2 4 1 2 2 2 4 1 2 1 2 2 2 1 3 2-1-2 4-4 0-2 0-3-2-3-2-7-2-5-3-6-1-5 1-3 0-4 1-1 3-4 2-3 2-5 2-1 2-1-3-2-3 0-4-1-4 0-5 1-3 0-4-2-4-1-1-2-4-3 1-3 2-5 1-4 1-2 1-6 2-4 1-4 2-2 2-5 0-3 0-6-1-5-1-1 0-2-3-3-2-2-2 1-6 5-6 8-5 3-2 2-1 3 0 2-1 2-1 2-1 4-2 2-2 2-1 4 0 4 1 4-2 4-1 3-2 3-2 5-1 3-1 5-4 5-1 3-2 5 0 5 0 4-1 3-1 3-1 3-1 4-1 4 0 5-3 3-2 4-1 3-2 3-1 4-3 3-1 3-2 0-1 3-1 3-2 1 0 1-1 3-1 1-3 2-2-1-3 1-4-1-1-3-3 0-3-2-2-3-2-2-5-4-3-3-3-4-3-4-1-4-4-3-1-3-2-3-3-5-2-3-2-2-1 0-3-7-4-4-1-4 0-2 0-4 0-1 1-2 2-4 3-2 4-4 4-4 1-3 4-3-1-2-6-6-6-4-5-4 1-1 7 0 3-1 1-1 3 0 2 0 4-1 3 1 5-1 3 0 5 1 3 0 2 0 5 0 5 0 5-1 4 0 3-1 4 1 5 0 6 0 4-1 5 0 5-1 6 1 4 0 4 1 4 1 3-2 5 0 2 0 2 0 3 0 4-1 2 3 2-1 2 1 1 0 1 0-1-1-1 1-3 1-1 1-3-2-4 1-1-1-5-1-4 4-2 1-4 0-5 0-5 1-6 2-6-1-4 3-5 1-7 0-5 0-3 0-4 2-4-1-6 1-4 0-3 2-4-2-3 0-4-1-4 3-3-1-1 1-3 0-1 0-1-1-1 2 1-1 3 1 2-1 2-1 3-1 4-2 6 0 4 0 5-2 5 2 6-4 6 1 5 1 5 0 5-1 4 0 5 0 4 0 4 0 6 1 3 1 1 1 4 3 2 2-1 3-1 1-1 1-1 2-1 3-1 3-1 0-2 3-2 2-1 3-2 4-3 3-2 3-4 2-1 4-4 4-1 3-3 1-2 4-6 4-3 3-2 3-5 6-3 2-2 2-5 2-4 5-3 2-4 4-3 5-2 4-2 2-1 2-3 3-3 1-3 4-1 2-4 4-2 2-3 1-3 1-3 3-3 1 0 2-1 1 0 0-1 4-1 1 0-1 1-2 4-2 2-2 3-5 2-5 3-4 6-3 7-2 5-2 4-3 2-3 5-2 2-1 1 4 2 4 2 8-1 5-1 4-2 4-1 2 0-2-1-4-3-1-3-3-3-3-3-3-4 0-4 2-2 3-4 3-4 1-4-1-3-5 1-4-1-4 0-3 0-4-1-3 0-6-1-3-1-4-1-4 0-2-1-4 2-3 2-3 0-4 2-2 0-4-3-4-1-2-3-2 0-3-4-3-1-4-3-4 0-3-1-3 0-4-3-2 0-4 0-5 0-5 0-2 2-3 1-3 0-3 2-1 4 0 4 1 5 1 4-4 3-3 0-5-3-3-5-5-2-3-1-2 5 1 2-1 2 0 4 1 1 0 3 1 2 1 2 0 3 1 3 0 5 2 5 0 5 0 5 2 3 1 5 3 4 0 4 1 5 1 3-1 4 2 5-1 3 2 4 2 3 0 5 2 1 1 2 3 5 1 6 1 6 2 3 2 4 2 4 1 2-1 3 2 1 2 1 3-2 0-1 1-1 2-3 3-3 0-2 1-3 2-5 1-3 2-2 2-5 0-4 1-6 0-2 2-3 2-4 0-5 0-5-1-3-2-3 0-4-1-2-2-4 0-4-2-3-3-4-2-3-2-4-6-1-2-3-2-4-1-3-2-2-5-3-3-2 0-3-3-4-2 1-2-4-1-4-3-2 1-1-3-1-3 0 2 3 2 5 2 6 1 6-1 3-3 1-3 1-5-2-4 0-4-2-4 0-2 0-1 5 0 3 2 3 2 3 2 4 1 3 4 5 2 3 2 2 1 5 4 2 3 2 2 4 0 3 0 3-3 3-4 4-4 5-1 0-1 2 0 3-4 2-4 4-3 4-2 2-1 3-1 1-2 4-3 3 0 4 4 4 3 2 2 2 5 3 5 2 4-3 4-1 2-3 1-5 3-2 0-5 1-2 1-2 0 1-2 1-3 0-3 3-4 2-3 3-4 2-5 3-4 1-2-1 0-2 0-1 1-4 1-4 0-4 4-4 1-3 2-4-1-3 1-5 0-4 2-5 0-3 1-4-1-2-1-3-1-5-3-4 1-2-1-4 1-4 0-3-1-4-1-5 1-4-1-2 1-3 2-1 4-1 6 0 6 0 4-1 2-1 1-3-3 0-1-4-2-5-3-6-1-5-4-4-2-4-2-2 0-2 0-3 1 0 1-1 3 2 5 1 4 2 4 1 4 2 4 2 5 1 4 1 2 1 5 1 2 2 5-1 5 0 3-1 3-1 4 1 3 2 2 1 4 0 2 0 3 1 4 1 3 0 4 0 4 1 5-2 1 0 3-2 4-1 4-2 3 2 3-1 5-3 4 0 3-2 5-2 5 0 4-1 6-3 3-2 3-1 2 2 2 3-1 1-1 2-2 4-1 3-2 4-2 4-4 5-2 4-3 5-4 5-1 3-1 1 0 2-1 0 1 1 1-2 2-1 3-3 3-5 2-2 3-6 3-5 2-3 3-5 2-4 1-1 1 0 0-1 0 2-1 4-2 5-3 5-1 6 0 5-1 5-1 4-3 2 4 3 8-1 3 1-1 3-1 4-1 4-3 3 0 5-1 3-3 5-3 3-3 3-4 4-1 3-4 3 1-1 1-1 3-3 2-2 3-3 3-3 3-4 3-4 1-3 1-3 1-3 3-4-1-3 0-4 0-5-1-4-2-3-1-1-5-1-4 2-4 1-5-4 1-2 1-3 2-3 5-3 4-5 2-2 3-2 1-1 1-8 0-5-3-1-1 1-3 1-1 1-3 2-4 2-6 4-3 0-2 3-6 1 0 1-3 0-3-1-3 0-3 3-2 0-5 1-3 1-3 3-6 1-4 1-4 3-4 1-4 3-4 3-4 1-3 1-6 3-1 0-4 1-3 0-4 3-3 0-4 1-4-2-3 3-2 2-3 3-1 0-1 0-6 8 1 6 3 5 5 2 3-1-1-2-2-4-1-4-2-4-1-4-1-2-2-5-1-4 1-5 0-4 0-5-1-3 4-3 1-3 4-4 1 0 1-1 3-1 3-2 4 1 3-1 3 0 4-1 3 0 4 0 4-1 3 0 5-3 5 0 6 0 6 1 3-1 4-1 5 0 5 0 4 2 4-3 4 3 3 0 5-1 5 0 3 0 3 0 3 0 2-1 2-1 1 0 2 0 2 1 2 0 1 1 0 1 0 1-2 0-3 1-5 3-5 0-7 4-5 2-5 2-5 0-4 2-4 2-4 0-5 1-3 1-3 1-3-2-4 1-3-1-2 0-3-1-4-3-1-3-3-3-4-2-1-2-3 1-4 2-3 5-4 2-4 1-3-1-3-1-3-2-4-2-3-2-3-3-2-2-3-3-5-1-3-2-4-3-3-1-4-1-1 1-4 1-4 0-3 2-4 1-3 2-2 3 1 5 0 6 0 3 0 5 2 2 2 2 3 5 4 4 4 1 4 0 3 0 4-2 2-2 0-4 0-3-3-5 0-6-1-3 1-3-1-4 1-4 3-4 4-1 4 1 4 1 4-1 2-1 6 0 5 1 4 2 2 3 2 3 2 3 1 2 1 3 0 3-1 5-1 4-1 4-1 8-2 3 0 4 0 5-2 4-1 3-1 3 2 1 1 1-1 1 0 1 1-4 0-5 2-4 1-4 1-4 0-5-2-4 2-4 0-4-1-5 0-3-1-1-3-1-2 0-3 0-4-1-3-1-3 2-4-1-4 2-3 2-5 2-4 1-4 2-5 3-5 1-3 2-2 0-3 1-3 0-3 3-3 4-1 3 0 3 0 3 0 5 5 6 1 0 2 2 2 2 1 1 2 2 4 4 0 2 3 2 2 1 4 2 3 2 3 2 4 3 3 5 2 3 3 2 5 3 2 1 3 6 5 3 2 4 4 0 3 2 2 5 1 2 3 2 4 3 5 1 3 1 0 3 3 1 0 2 3 0 2 1 4 1 0-3 0-1 3-5 0-1-2-4 1-3 1-4 0-5 1-4 1-4 1-4 0-4-1-6-1-5 0-3 0-4 0-1-2-4-2 1-5-2-2-1-2 1-2 0-2-2-3 1-4 0-4 1-4 1-4-1-4 0-3 0-4 2-4 3-4 2-6 1-3 1-4 0-4 1-4 0-4 2-5 2-3 0-1 1-2-1-3 0-1-1-5-1-2-5 0-4 0-3 1-5 1-3 3-4 0-2 0-5 0-1-1-5-1-4 1-4 0-6 0-1 3-4 1-1 1-6 1-2 2-3 3 0 4-2 4 0 5 0 2 1 6-1 5 0 2 0 3-3 3-3 4-3 3 0 2-2 5 1 1 2 4 6 3 2 2 4 4 2 3 0 3 5 1 2 3 2 2 2"/>
</g>
<text x="84.35" y="290.60" font-size="8.8" font-weight="normal" text-anchor="middle" fill="#222" stroke="#222" stroke-width="0.22" >RS 0d</text>
<rect x="37.30" y="299.60" width="93.30" height="87.80" fill="#858d70"/>
<rect x="58.9" y="322.0" width="48.10" height="46.70" fill="#a85e6e"/>
<rect x="40.15" y="302.45" width="87.60" height="82.10" fill="none" stroke="#f01ef0" stroke-width="3.50"/>
<g transform="scale(.5)" stroke="#f01ef0" stroke-width="1.90" fill="none" stroke-linejoin="round">
<path d="M254 736l0 3 1 4 0 4 0 6 1 4-2 4-2 2-3 3-4 1-4 0-2-1-4 1-4 2-2 1-4-1-4 1-3-2-5-2-4 0-2-2-1-2-3 0-6-1-4 2-2 0-2 1-5 1-5-1-5 0-3 3 0-1-7-1-4 1-2-1-3-1-6-1-4-1-3 0-2 2-4 4-2 3-5 0-2-1-2-2-3-1-3 0-5 0-4-2-3 0-5 2-3-1-4 3-3-1-6 0-4-1-2-1 0-3 0-4 0-4-1-4-2-3 3-4 0-2 2-3 1-6-1-3 2-2 2-4 1-4 1-3 0-3-4-2-3-3 1-3 0-3 0-5 0-3 0-4 2-3-1-5 0-5-2-3-2-5 0-3-1-2 1-1 3-4 4-3 2-4 0-6-1-5-4-3-1-4-1-6 1-4-1-4-1-3"/>
<path d="M220 604l1 3 1 4 3 2 4 0 5-4 4-1 6 0 1-2 3 0 2-1 5 1 1 3-1 4-2 3-2 6-2 3 2 3 1 2 1 4 0 3 4 5 0 6-1 3 1 3 1 4-1 3 0 5 0 4-1 5 1 5-1 4-1 6-3 2-4 2-2 4 2 4 1 2 2 4 1 4 2 5 1 4 1 5 0 5-1 3 1 2-1 3-4 1-3 3 3 4 2 4 2 5 1 4 2 3-2 2-2 3-3 0-4 2-4 0-4 0-3 0-6-2-3-3-1-1-3 1-5 2-2 2-7 1-4-1-2 0-5 0-5-1-4 0-4 0-6 1-4-1-4-1-2-2-1-2-4-2-2 1-4-1-5 2-4 0-5 1-3 1-3 4-2-1-4 1-4 1-3 0-3-5-2-2-4-1-4 2-3 2-4-1-3 2-3 0-3 0-4 0-2-5-5-5-4-1-2-4"/>
<path d="M78 683l4-3 2-6 0-4 1-4 1-3-1-2 0-3-2-5 0-3-2-2 1-4 0-5 2-5 1-3 1-4 1-1 3-4-1-2-1-4-2-5 1-3 2-4 3-1 4 3 4 1 5 2 2 0 6-2 3-3 2-1 4 1 3 1 4 4 4 3 2 0 3 1 1-3 3-2 5-3 1-1 4-2 5 1 4 0 4 0 5-1 5 1 1 3 3 2 3 3 4-1 2 0 4-1 2-1 4-2 5 0 4 0 6 1 1-1 5 1 4 1 5 2 3-1 4 0 5 1 3 0 4-1 2 4 2 2-1 3 1 3 4 4 0 3-1 3-1 7-2 2 1 2 1 4 3 2 1 4 0 5 0 3-3 1-1 5 0 5 3 3 2 2 1 5-2 4-2 4-1 4-2 3-1 2-2 5-1 4 0 3 3 5 2 4 3 3 0 2"/>
<path d="M136 613l-1-1-7 0-3-3-3 0-5-1-5 0-1 1-4-2-5-1-5-1-4 0-4 0-2 0-1 1 2 4 0 4 1 5-1 4-1 3 0 5-1 2 1 5 0 4-1 4 0 4-3 4-1 3-1 4 0 4-2 4 1 3-1 3 0 4-1 4 1 4-2 3 1 2 2 5 2 3 0 5 2 4 2 4 0 2 1 7-2 3 0 6-2 2-1 6-1 4 2 4 0 4-2 1-1 4 3 2 1 3 2 6 2 4 3 0 3-3 3-3 4-2 5-1 3 0 3 1 4 3 3 1 5 1 4 1 3-1 3 0 4 0 5 1 4 0 5 0 3-1 2-3 4-3 2 0 5-2 4 1 2 0 4 0 3 1 5 1 4-1 3 0 4 1 4 2 4 3 3 1 5 1 2-2 3-2 4-3 5-1 3-1 2 2 5 2 2-1 6 0 5-1 3-2 2-1 0-4 0-5-2-4 1-4 3-5-2-3 1-5-3-4-2-1 1-6 2-6 0-3"/>
</g>
<g fill="#858d70"><ellipse cx="127.4" cy="346.1" rx="1.4" ry="4.3"/><ellipse cx="68.0" cy="303.6" rx="4.4" ry="0.9"/><ellipse cx="40.3" cy="360.0" rx="1.4" ry="3.6"/><ellipse cx="40.4" cy="336.9" rx="0.8" ry="4.1"/><ellipse cx="126.7" cy="325.6" rx="0.9" ry="3.0"/><ellipse cx="73.5" cy="383.6" rx="4.2" ry="1.1"/><ellipse cx="126.5" cy="380.4" rx="0.9" ry="2.0"/><ellipse cx="127.7" cy="354.3" rx="1.0" ry="4.4"/><ellipse cx="86.5" cy="302.5" rx="3.3" ry="0.9"/><ellipse cx="77.7" cy="383.7" rx="2.0" ry="1.4"/><ellipse cx="127.4" cy="323.9" rx="0.8" ry="3.1"/><ellipse cx="127.7" cy="381.2" rx="1.2" ry="2.9"/><ellipse cx="41.4" cy="305.1" rx="0.7" ry="1.7"/><ellipse cx="69.2" cy="383.9" rx="1.6" ry="0.9"/><ellipse cx="126.6" cy="350.8" rx="1.0" ry="1.8"/><ellipse cx="40.5" cy="347.2" rx="1.2" ry="3.6"/><ellipse cx="83.1" cy="384.3" rx="3.2" ry="1.0"/><ellipse cx="59.5" cy="303.9" rx="1.7" ry="1.0"/><ellipse cx="126.9" cy="330.0" rx="1.3" ry="3.3"/><ellipse cx="41.4" cy="360.7" rx="0.8" ry="1.6"/><ellipse cx="127.0" cy="348.8" rx="0.9" ry="3.9"/><ellipse cx="127.2" cy="309.0" rx="1.3" ry="3.6"/><ellipse cx="105.7" cy="383.9" rx="3.5" ry="1.1"/><ellipse cx="40.3" cy="324.6" rx="1.3" ry="3.6"/><ellipse cx="40.7" cy="309.6" rx="0.9" ry="2.6"/><ellipse cx="53.4" cy="303.5" rx="3.3" ry="0.8"/><ellipse cx="41.6" cy="345.2" rx="1.0" ry="1.5"/><ellipse cx="127.0" cy="311.9" rx="1.4" ry="2.9"/><ellipse cx="98.7" cy="303.5" rx="4.4" ry="1.1"/><ellipse cx="63.7" cy="383.8" rx="2.2" ry="1.0"/><ellipse cx="127.3" cy="333.0" rx="1.1" ry="4.4"/><ellipse cx="56.1" cy="303.3" rx="4.5" ry="1.2"/><ellipse cx="127.2" cy="340.6" rx="1.0" ry="4.0"/><ellipse cx="60.6" cy="302.9" rx="2.1" ry="1.1"/><ellipse cx="127.2" cy="342.0" rx="1.2" ry="3.3"/><ellipse cx="41.6" cy="339.4" rx="1.3" ry="3.5"/><ellipse cx="127.2" cy="346.6" rx="0.9" ry="1.6"/><ellipse cx="93.9" cy="383.8" rx="3.7" ry="1.1"/><ellipse cx="127.3" cy="325.6" rx="1.4" ry="2.0"/><ellipse cx="54.2" cy="384.2" rx="4.0" ry="0.8"/></g>
<g transform="scale(.5)" stroke="#f01ef0" stroke-width="1.90" fill="none" stroke-linejoin="round">
<path d="M95 619l1 0 3 2 7 0 4-1 4-3 3-4 2-3 3-2 3-3 3 0 2 0 5 2 3 3 4 1 2 1 4 0 4 0 4 0 5 0 3-1 4 1 3-2 4 0 2 0 4 0 3-1 5 0 4 2 5 0 3-2 1 1 4-2 6 0 4-1 5-2 6-2 7 1 6 0 4 2 0 2-5 5 0 1-2 0-3 2-2 2-3 2-1 1 0 3-3 2-2 2-5 4-4 3-1 4-3 3-5 3-3 4-1 3-3 2-4 4-4 3-3 4-5 2-2 4-5 2-3 3-2 3-3 4-4 3-2 2-4 4-1 4-2 0-4 3-2 2-1 2-3 2-1 0-3 1-1 1-1 2 1 0-1 2 0 1 2 0 1-1-1 0 2-1 3-1 3-1 2-4 2-3 2-1 3-4 3-2 4-2 4-4 5-4 5-2 2-4 5-3 6-2 4-3 3-2 5-1 3-4 3-3 5-4 5-2 1-2 2-1 2-3 4-1 1 0 2 1 2 0 1 0 0 1 0 2 0 4 0 2-3 4-1 2 0 5 0 4-2 6-1 6-2 4-4 6-3 3-2 4-2 1-4 3-5 4-3 2-3 1-3 0-1-1-2-1-3-2-3 1-2-2-3 0-3-2-2-2-4-3-4-1-3-2-3-1-5-2-2-2-3-2-4-4-3-2-4-2-3-3-2-1-3-3-4-3-4-3-2-3-4-2-2-3-4-2-3-2-4-2-2-2-4-1-3-3-2-3-2-2-3-2-1-3-3-2-3-3 0 2-6-7-1-6 0-2 0-2 0-3 2-3 3-3 5-2 6-2 2-1 4-1 3 1 4 0 2 4 3 0 4 1 3 0 2 0 4 2 3 2 4 0 2 1 5-2 6 0 6 1 2-1 2-2 2 1-1 0-4-1-5 1-5 3-5-2-4-3-3-2-4-2-2-3-3 0-4 0-2 1-3 0-4 2-3 1-3 3-1 3-2 4 2 4 1 6 2 4 2 4 0 3-2 3-5 2-4 3-3 2-1 3 2 1 1 4 2 2 3 1 5 4 4 2 3 4 3 3 1 0-3 1-1 1-3-1-7-1-6-1-2 0-3 2-3 3-2 3-2 2 0 6-1 3-1 3 0 5 0 3 1 4 1 4 2 2 3 2 2 3-1 3 0 6-2 4 1 4 1 3 2 3 5 2 3 1 3 2 3 3 2 4 0 5 4 4 1 0 4 0 3 0 3 2 4 1 5-2 4 2 5-4 4 0 2-1 2-2 5 0 4 2 3 3 3 3 3 3 3 4 4 0 4 1 3-3 2-2 2-3 1-4 1-5 1-4-1-5 4-2 2-2 2 0 3 1 4 3 2 3 2 2 4 0 3 3 4 4 5 2 4 2 2 2 3 1 1 1 6 2 6 2 4 1 3-1 0-3 2-1-3-3-2-4-3-3-3-4-1-4-3-3-3-2-3-4-2-3-2-2-2-3-2-2-1-2 2-2 3 0 3 2 4 4 6-1 4 1 3 1 4-3-2-6-3-4-1-2-3-3 1-5-2-4 1-3 2-4 2-4 2-4-1-4 2-4-1-4 1-4-2-4 1-4-1-3 0-3 0-1-2 2-1 5-4 5-1 4 4 1 6 1 1 4 0 2-2 3-2 4-5 3-3 4-3 3-2 5 1 2-2 3 0 2 0 6 0 6 1 1 0 1 3 2 2 5 1 3 2 4 2 5 2 5 3 3 1 2 3 2 2 2 1 3 0 3-1 4-7 1-3-2 1-2 0-4 1-3 2-4 1-4 4-4 7-5 0-3-5-3-2 0-1 0-3 0-1-2-3-1-4-1-3 0-4 1-6-2-2-2-3 2-5 0-2 0-5-1-3-1-5 0-4-1-5 0-5-1-4-1-3 1-5 0-5-1-4 1-3-1-4 0-4-2-5-1-3 0-6-1-3 1-3 1-5 0-3-1-4-3-3 0-3 1-3 0-4 1-3 2-6-1-1 1-2-1-1 1-2-2-1 0-3 0-3 1 1 2 1 3 2 5 2 2 3 6 3 3 4 3 5 4 4 3 5 4 5 4 2 3 4 1 3 0 2-1 4 1 2 0 4-3 3-3 1-5 0-3 2-5 2-3 2-2 3 1 3 4 1 4 4 6 3 4 2 1 1-4 1-4 2-6 0-5 1-4 1-1 3-2 3 1 2 2 4 2 5 4 3 2 3 4 4 4 3 5 5 3 4 2 2 0 1 3 1 0 0-2-2-1-2 0-1-2-3-3-4-3-3-1-3-2-4-2-4-4-4-3-1-4-3-2-3-2-2-3-1-3-3-5-3-4 1-4-1-2 0-4 1-1 0-4 1-2 0-4 3-1 1-5 2-2 3-3 4-4 3-2 0-3 3-2 3-2 4-5 1-5 2-4 5-1 3-4 4-3 3-1 2-2 2-2 4-3 2-2 1-3 4-3 1-4 4-1 1-2 2-2 0-3-3-5-2 0-4 2-2 1-3 0-4 1-3 1-5 1-5 1-2 1-5 0-4 1-2 0-4 2-6 1-3 0-4 0-5 1-4 2-7 1-3 0-5 1-3 2-5 0-4 3-3 1-2 1-2 1-1 0-2 1-2 1 0 1 1 2-1 1-2 0 2 2 3 0 4 0 3 3 2 2 4-1 3 2 4 2 5 2 7 0 4 1 5 1 3 2 6 3 5 0 4 2 4 0 5 1 5 2 4 2 2 2 3 1 4 1 2 0 4 2-1 0 2-1 1 1 0 3 1 0-2 0-3 1-3 1-2 0-3-1-5 0-3 0-3-1-6-2-3 1-6-1-4-1-5 1-5-2-4-1-5 1-5 1-6 0-3 1-4 1-3-1-3 3-4 0-2 1-2 2-3 1-1 2-1 5 0 4-1 4 0 3 1 5 0 4 1 4 2 5 2 5 2 2 0 2 0 4 1 3 2 2 2 2 0 2 3 5 3 0 4-2 4-2 2-5 1-7-1-1-2-4 0-2-3-3-1-3-4-4-3-4-3-4-1-3-4-5-3-3-3-3-1-5-3-4-2-3-1-3 0-3-1-4-1 0-1-4 2-2 1-3-1 0 5-2 1 0 1 0 5 0 3-1 3 1 4 1 4 1 4 0 2-1 4 1 3 1 5 2 5-1 3 1 6 1 5 0 4 1 6 0 4 1 2 1 6 1 2 2 4 1 4-1 3 0 4 1 3 0 2 3 3-1 4 1 1 1 1 0 7 4-2 2-4 4-1 4 0 3 4 3 2 3 2 3 3 3 1 6 0 2 1 4 0 4 0 4 2 3 0 5-1 4 1 4-2 3-3 5-2 0-6-1-1-1-3-2-6-2-3-1-3-1-3-1-2-2-4 2-4-1-5 3-4 2-3-2-3 2-3 2-3 2-5 1-2 0-4-1-3-4-4-2-3-2-5-2-2 0-2 0-3 0-4 1-3 2-4 1-4 4-2 3-1 1-3 0-3 1-4 0-4-4-6 1-3 0-4 2-2-1-5 1-3 3-3 4-3 3-3 1-4-1-2 0-4-3 0-3 0-4-2-5 0-2-2-4-1-1-1-3 3-5 3-6 0-1 3-2 3-4 3 0 3-4 4-1 2-4 3-1 1-5 3-2 3-2 3-4 5-3 2-3 2-2 6-2 3-4 3-4 2-3 3-3 4-2 1-1 2-3 3-3 2 0 1-5-1-3 3-1 1-2 1-3 0-4 0-1-3-3-3-3-4-3-3-1-5-2-4-1-4-4-5-1-2-4-4-3-4-1-5 0-4 0-2 0-5-1-1-1-3 1-1 1 0 1-1 2 1 1 1 3 0 3 3 1 0 4 2 2 2 5 0 3 1 5 3 4 2 3 3 5 3 3 3 3 1 4 3 5 4 3 4 3 3 2 2 0 4 2 3-1 1 0 4 1 3 2 3-1 4-1 2-1 5-2 2 0 5-1 3-2 4-2 3-2 3-2 4 0 4-2 4 0 4-3 5-1 5-3 3-1 2-1 5-2 1-1 4-2 4 0 5-1 2-2 4 0 0 2 1-1 4 1 3 2-1 3-3 3-2 6-2 5-2 4-3 3 2 5 1 6 0 2 1 1 1 4-4 3-2 3-3 4-6 1-1 4-1 2 3-2 3-1 4-1 4 0 6-3 2-4 2-1 1-3 1-4-1-3-4-2-3-4-3-1-4-3-1-2-1-5 1-3 5-4 1-1 0-2-5-2-5-1-5 0-3-3-1-3-1-3 1-4 3-2 2-4 2-4 1-3 3-3 3-4 2-3 4-5 1-4 1-2 4-2 2 0-3 3-2 1-2 3-1 3-4 4-4 3-2 4-2 2-3 2-3 4-2 1-1 4-1 8 3 3 5-1 0-3 1-1 1-2 2-4 2-2 3-4 1-5 1-4 1-2 3-3 0-1 1-3 4-11 3-9 2-4-5 8-1 2-2 1-1 2 0 3 0 3-2 2-1 3-2 2-2 4-3 3-2 3-2 3-1 4-1 6-3 4-2 5-1 4-2 6-2 4-2 2-1 4-2 5-3 3-2 5-1 4-2 5-1 2-1 0-3 5-1 3 0 3 0 2 0 3-1 1-2 4 0 2 0 3 1 3 1 2 1-1 2 0 4-2 5-4 4-2 4-1 2-6 4-3 3-5 4-2 1-6 0-3 1-3 0-2 0-3 0-2 1-5-1-5 1-3-1-5 0-4-3-2-2-4 1-5-2-2 1-4 2-3-1-5 1-4-1-5-2-4 2-6 0-5 0-2-1-3-1-4-3-2-1-3 0-2 1-2-1-1-3-5-3 0-3 0-4 0-3 1-3 2-4 2-1 1-4 5-3 2-4 2-3 2-3-1-2 1-3 0-3-3-4-4-5-2-3-1-1 2-1 2-2 4-1 3-1 4-4 3-2 2-2-1-4-1-1-1-5 0-5-4-4-1-3-4-4 0-3-2-2-1-6 2 1 6-3 4-3 3-2 4-4 2-3-1-4-1-5 1-2 0-2 1 0 3-1 5 1 2 1 5 0 4 2 3 1 3 2 4 0 4 1 6-1 4-1 2 1 2 1 3 4 1 4 2 5 1 5 2 2 2 1 3-1 3-4 3-3 3-3 1-5 3-1 3-2 2-4 3-2 3-1 4-1 4-2 5 0 2-1 4-1 4 3 2 0 5-1 4 3 4 4 0 2 0 2-2 6 0 4-1 3 2 4-2 3 0 5 1 4-1 3 2 5 2 5 1 3 1 4 1 0 1 3 0 5-2 3-2 2-3 2-3 2-3 3-2 1 2 2 3 3 2 2 4 2 1 3 3 4 5 2 2 4 1 3 1 4 0 4-1 3 0 4-1 4-2 4 0 4 0 3-1 4 0 3-2 2 1 2-2 6-2 5-3 3-3-2-6-11-8-1 0-1-2-2-1-3-3-1-2-4-2-2-2-3-2-4-2-3 0-4-2-4-4-2-2-4-2-5-1-4-1-5-3-4-1-4-3-3 0-4-5-3-3-6-2-4-1-3-2-4-2-3-3-3-2-3-2-5-3-4-1-4-1-4-1-4-1-3-2-3 1-1-3-1-3-2-2-1 0-4-1-1-2-1 2-1-2-3-2 2 1 0 1-1 1 0 1 0 1 3 3 2-1 2 2 0 1 4 2 2 1 4 2 1 4 1 1 4 0 2 4 3 2 4 2 4 3 2 2 4 5 5 2 3 0 5 3 4 4 5 2 4 0 3 4 3 3 4 4 5 3 4 4 4 1 2 2 3 3 2 1 4 4 4 1 3 2 1 2 6 1 3 1 1 3 2 2 1 2 2 1 9 4 6 2 5 2 3 2 2 2 3-1 1 0 3-2 2 0 1-4 0-6-1-2-1-6 2-5 1-3 1-2 1-4 0-4-1-4-1-3-3-3-2-4-2-2-3-4-4-3-3-3-1-3-4-3-2-1 1-3-2-2-4-1 2-5 2-1 3-4 4-2 2-3 2-2 1-5 1-5-3-4 0-4 1-3 0-3 1-5 1-2 1-2 1-5 0-3 1-5-2-2-4-5-3-2-3-4-3-1-3-2-5 1-2 0-4 0-5 2-4 0-3 2-5 1-3 3-4 1-3-1-3 1-6 1-1 1-3 1-5 0-2 1-4 0-5-1-4-3-2-3-2-2-3-3-5-1-1-3-4-2-1-3-3 0-6-1-3 0-4 0-4 1-4-1-4 2-1-1-5 0-4 1-3 2-4 2-3 4-4 1-3 4-3 1"/>
</g>
<text x="84.35" y="398.40" font-size="8.8" font-weight="normal" text-anchor="middle" fill="#222" stroke="#222" stroke-width="0.22" >MS+RS 0d</text>
<rect x="134.10" y="191.80" width="93.30" height="87.80" fill="#3d5e57"/>
<rect x="154.7" y="213.1" width="49.00" height="47.40" fill="#47aebd"/>
<rect x="137.20" y="194.90" width="87.10" height="81.60" fill="none" stroke="#f01ef0" stroke-width="4.00"/>
<g transform="scale(.5)" stroke="#f01ef0" stroke-width="1.90" fill="none" stroke-linejoin="round">
<path d="M274 416l0 3 0 6 0 7 1 3 3 5 2 4 1 3 2 4-1 4-4 2-2 4 1 2 2 5-1 3 0 3-1 4 1 6-1 4-1 5 3 2 2 4 1 4 0 3-3 4-3 4 1 4-3 3 0 5 0 2 2 3 1 3 1 3 3 4 2 4 5 0 5-1 6 0 1 0 4 2 5 1 4 4 2 0 4 0 3 1 4 2 3 0 5 0 4-1 4-1 3-1 3 1 4 1 3 0 4-1 4-2 3 1 4-2 4 0 2 1 4-1 1-1 4 2 4 0 5 0 3-1 2 0 7 1 3 1 5-2 2 1 5 1 3 1 5-2 2 0 3 2 6 0 4-1 3-3 0-2 1-3 0-4-2-3 1-5-2-6 0-3 1-3 0-4-1-2 0-3-1-5 0-4 1-5-2-2 3-4 1-4 3-3-1-2-2-4-2-2 1-2-2-4 1-5 0-5 0-4-3-2 0-6-2-3 1-2 0-4 1-6 0-2 2-5 2-4-1-4-1-4-2-2-2-3-3-5-1-2-4-2"/>
<path d="M368 553l-2-2-4-2-8 1-4-1-4-1-2-1-5 0 0 1-4 0-5 1-4 0-4 0-2-1-5 1-5 3-3 1-4 1-2-2 0-3-5-3-3 0-6 2-3 2-4 2-3 0-4 0 0-2 0-3 2-3 2-4 2-3-1-6 3-3-3-4-1-3-1-4-1-2-2-3-1-4 1-6-1-5 0-2 2-5 0-5 1-4 2-4 3-2 1-4-1-5-3-4 0-5 0-4-1-3 0-2-1-4 6-4 3-4-1-3 0-6-2-2-3-4-3-3-1-4 3-3 2-2 4-6 2-6 2-6 4 1 4-3 3 0 4 1 4 0 4 1 3 2 4 2 2 0 4-1 3-5 4-2 4 2 4-1 4 0 4 1 4 2 2 0 4 1 6 1 4 1 3 0 5 2 5-1 1 0 5-3 2 1 5-1 4-1 2 1 4 1 5 2 4 0 3 0 3 1 4 1 4 0 4 1"/>
<path d="M305 554l4-1 4-1 2-1 5-2 2-2 2-1 5-1 5 1 3 1 3 2 3-1 5 1 4 0 3 0 5 1 3-1 4 0 2 2 4-2 4-3 5-1 4 0 0 2 5 3 4 2 2-3 4-1 5 0 3-1 2 1 5-1 1-3 5-1 4 2 4 1 4-1 3 3 5 2 4 1 2 0 1-2-1-5 2-4-2-3 1-5-2-3-2-2-1-5-1-4 1-5-1-4-1-2 3-3 2-5 1-4 1-2-1-4 1-3 0-7 0-5-1-2 0-5-2-3-2-3 0-4 0-4-1-4-1-3 2-3-2-2 1-4 0-6 3-2 0-4 2-4-3-3 2-6 1-3 1-3-4-2-4-1 3-3 1-4 2-5 0-4 0-1-4 0-4 3-3 3-5 1-3 0"/>
<path d="M443 474l2-3-2-3 1-5 2-4 1-5 2-4-1-3 1-5-3-4-1-2 2-3 2-6 1-5 0-3-2-4 1-6-1-2-3-5-3-2-2-2-3-4-3-2-3-1-3 0-5-2-3 0-4 1-2 2-5 1-3 1-3 2-3-3-4-2-5 0-2 2-4 3-4-1-4 0-5 0-2-1-7-1-5 0-4 0-4 1-4 0-3 0-4 0-3-1-4-2-2 0-3 4-3 2-5 0-5-2-2-2-3 0-7 2-3-2-4 0-2 0-5-2-4 1-4 1-4 2-3 5-1 3 3 5 3 3 3 4 1 5 1 3 3 5-3 3 0 4-2 3-4 3-4 1-2 5 1 2 3 5 2 3 2 2 0 4 1 5-3 3 2 5-1 2-1 3 0 3-1 6 0 4 0 4-1 4-1 4 0 2 1 5 1 5 3 2"/>
</g>
<g fill="#3d5e57"><ellipse cx="222.6" cy="227.3" rx="1.2" ry="3.4"/><ellipse cx="137.7" cy="197.6" rx="1.3" ry="3.6"/><ellipse cx="224.2" cy="230.6" rx="1.3" ry="4.1"/><ellipse cx="222.9" cy="210.5" rx="1.1" ry="3.9"/><ellipse cx="165.1" cy="276.0" rx="3.0" ry="1.3"/><ellipse cx="220.6" cy="276.5" rx="3.9" ry="0.9"/><ellipse cx="138.0" cy="237.8" rx="0.8" ry="2.5"/><ellipse cx="160.7" cy="195.4" rx="3.2" ry="1.2"/><ellipse cx="137.5" cy="237.5" rx="1.0" ry="4.4"/><ellipse cx="200.0" cy="196.6" rx="2.8" ry="1.4"/><ellipse cx="222.8" cy="236.3" rx="0.7" ry="2.0"/><ellipse cx="137.9" cy="208.0" rx="1.2" ry="3.7"/><ellipse cx="223.5" cy="266.5" rx="0.7" ry="2.8"/><ellipse cx="137.5" cy="239.3" rx="1.2" ry="4.5"/><ellipse cx="222.7" cy="266.3" rx="1.3" ry="3.2"/><ellipse cx="185.0" cy="275.6" rx="2.0" ry="1.2"/><ellipse cx="138.3" cy="236.6" rx="1.0" ry="1.7"/><ellipse cx="216.8" cy="275.3" rx="4.2" ry="0.7"/><ellipse cx="154.8" cy="276.7" rx="2.6" ry="1.4"/><ellipse cx="137.9" cy="217.5" rx="1.2" ry="2.3"/><ellipse cx="174.0" cy="195.1" rx="2.6" ry="1.2"/><ellipse cx="222.6" cy="229.7" rx="1.4" ry="1.7"/><ellipse cx="174.1" cy="196.3" rx="4.4" ry="1.1"/><ellipse cx="142.2" cy="195.0" rx="3.5" ry="1.1"/><ellipse cx="138.2" cy="230.3" rx="1.2" ry="3.8"/><ellipse cx="148.2" cy="276.8" rx="2.1" ry="1.2"/><ellipse cx="152.4" cy="195.2" rx="1.9" ry="1.2"/><ellipse cx="216.0" cy="196.4" rx="1.8" ry="1.2"/><ellipse cx="224.1" cy="228.9" rx="1.3" ry="4.2"/><ellipse cx="137.0" cy="239.1" rx="0.9" ry="2.3"/><ellipse cx="223.0" cy="200.7" rx="1.3" ry="2.2"/><ellipse cx="153.7" cy="194.8" rx="2.1" ry="0.9"/><ellipse cx="196.5" cy="275.0" rx="2.1" ry="0.8"/><ellipse cx="223.9" cy="273.5" rx="0.8" ry="3.6"/><ellipse cx="137.1" cy="219.0" rx="1.1" ry="4.0"/><ellipse cx="163.7" cy="275.2" rx="4.4" ry="1.4"/><ellipse cx="202.5" cy="196.6" rx="4.5" ry="1.1"/><ellipse cx="223.9" cy="244.1" rx="1.1" ry="4.4"/><ellipse cx="138.5" cy="265.6" rx="0.8" ry="4.4"/><ellipse cx="223.3" cy="268.4" rx="0.8" ry="1.7"/></g>
<g transform="scale(.5)" stroke="#f01ef0" stroke-width="1.90" fill="none" stroke-linejoin="round">
<path d="M376 386l2 4 1 5 3 2 1 3 2 4 3 3 3 1 2 0 2-1 5-3 4-3 2-4 3 0 2-3 2-1 4-2 4 4 2 4 2 3 1 6 1 2-1-2-1-5 0-3-2-5 1-2 3-2 4 4 0 1 0 2 1 0-2 6 1 11-1 3 0 3 1 3-1 2-1 4 0 3 3 3 0 2 2 4-1 5 3 4 0 5 0 4 0 2-1 4 0 5 0 5 2 4 0 6 0 2-1 5 0 3 0 4-1 5-3 5 2 2-2 2 0 3-3 1 0 4-2 4-2 2-2 2-1 1-2 0 0 1-4-1-2 1-3-1-2 1-3 0-4-1-5 1-3 0-2-1-4-1-3-1-4 0-5-2-5-2-3-2-4 0-4-2-4-2-4-2-5-2-5-2-4-2-2-2-4-1-5-1-5-1-2-3-4 0-3-1-5 0 0-1-2-4-5-1-2-1-5 0-3 0 0 1-6 1-3 1 3 5 5 4 3 6 2 5-4 5-1 3-2 4-5 3-2 4-2 3-3 2-2 4-1 1 1-2 5-2 2-3 2 0 4 0 4-3 4-2 3-5 4-1 4-4 3-1 3-1 3-4 2 0 3-2 2-2 0-1 2-2-3 1-2 1-2 2-6 3-5 2-4 4-3 2-4 1-2 0-4-1-1-5 0-4 0-5 0-4 1-3 4-4 3-2 2-4-3-3-3-4-5-2-2-4 1-2 2-1 1-1 4-2 4-5 2-4 2-4 2-6 1-2 5 3 2 0 3 1 3 3 3 2 4 3 3 4 3 2 2 2 3 4 3 3 3 4 2 2 0 3 3 3 2 3 3 2 0 2 1 4-1 4-2 3-3 4-3 4-1 4-3 5-2 1 0 2 0 2 2 2 3 3 3 2 6 0 6-1 4 0 3 0 5 0 3 0 3-3 1-3 0-3 1-3 3-4 0-4 0-3 4-4 5-2 2 1 3 2 3 2 3 2 2 3 3 2 4 0 2 1 3 1 5 2 5 1 4 3 4 0 2 2 0-4-2-3-2-5 4-5 2-2 2-4 1-4-1-5 2-2-2-4-3-4-2-2-2-2 0-2 3-5 4-2 5-1 2-1 0-3-2-2-2-6-2-4 0-3 1-5 2-4-1-4 2-3-1-5 1-3 0-2-4-1-5-2-4-1-2-1-2-2 1-4 2-4 3-5 3-2 2-3 3-3 0-8-5-2-4 1-2-1-3-1-3 0-3 1-6 1-3 1-3-2-6-1-3 0-4-1-5 0-3 0-2-1-4 2-4 2-3 3-3 2-4 2-5 2-2 2-4 0-2 0-5-2-4-2-3-1-5 0-5 0-3-2-5-2-1 0-4-2-2 3 0 4-3 2-4 1-7 0-6 0-4-2-2 0-1-2 1 1 3-1 5 0 4 1 5-1 4-1 4 1 4 2 1 2 4 2 2 1 4-2 4-1 6-1 2-3 3-4 2-4 3-4 4 0 0-3 3 0 3 3 2 1 2 2 1 6 1 4 2 4 0 3 4 2 3 0 3-1 0-2 5-4 3-3 4-4 5-3 2-4 5 0 1-1 3 0 1-1 4 1 3 5 1 4 0 4-1 4 2 3 2 4 2 3 3 0 4 1 3 0 4 0 2 1 4 2 1 4 1 4 0 4 1 3-1 4 0 3 0 4 2 6-1 5-1 2 0 3-2 5-2 2-1 4-2 4-2 3-2 4-1 4-1 3-2 4-4 4 0 5 2 2 2 0 2-1 5-1 4 1 5-4 5-2 3-4 0-2-1-2-2-1-4-1-4-4-3-2-4-3-5-1-3-3-3-4-2-3-1 0 0-3 0-3 2-2 2-2 5-3 3-3 3-1 2-4 4-4 4-3 1-2 3-4 2-6 1-4 0-5 0-3 0-2 0-2 0-2 0-2-3-1-3 0-4 1-4 2-4 2-4 4-5 2-4 4-3 1-3 0-1 0-3 0-2 0 3-3 1-2 5-5 4-5 2-5 1-2 4-3 1-2 0 1-2-1-1 0-1 2-5 2-3 5-3 4-3 3-4 4-2 2-2 4-5 1-2 3-4 2-1 0 0 2-3-1-2-1 3-3 2-5 2-6 0-5 1-6 1-4-1-3 1-1-3-2-3-1-4 0-4 3-5 3-3 0-3 0-5 2-4 2-2 1-4 0-3 1-4 3-1 2-2 4-1 4-3 3 0 6-1 4-2 2 1 0-2-2-2-3-1 0-2-4-3-2-2-3-6-3-2-3-1-2-3-4-1-5-4-3-1-2-3-3-2-1-1-1-7-4-3 0-6 1-1 3-2 1-3 4-3 1-3 4-2 1 1-1 4-6 4-3 6 0 4-1 2 0 2 3 4 0 5 1 3-1 3 3 4 2 5 2 5 0 3 3 3 1 2 2 1 1 0-2-1-1-4-2-3-4-4-1-5-3-3 0-1-4-5-1-5-1-3-2-3 2-4-1-5-1-2 0-2 0-5 1-3 2-4 4-1 3 0 6-1 2 3 1 1 4 1 2 2 3 3 4 3 4 2 4 3 3 0 3 3 3 0 6 0 3 0 2 0 5-2 3-6 4-2 4-2 2-1 1 0-3 2-1 4-3 3-3 3-3 1-3-1-5-2-5-4-4-2-1 2-1 1-3 3 2 4 1 5 1 5 1 4 3 5 1 1 0 2-2 0-3-1-2-1-3-3-2-3-3-2-4-4-6-3-4-2-3-2-3-3-4 0-2 1-1 1 1 5 4 4 4 4 4 5 1 1-1 0-2 1-6-1-6 0-9 0-4-1 1 1 1 1 1-1 3 2 2 1 4 2 3 0 3 2 2 1 4 1 1 1 5 1 3 2 5 3 4 1 4-1 4 1 2 4 5 1 5 0 5 2 5 0 5 2 3 1 4 0 5 1 3 0 4 4 5 0 3 2 5-1 4 2 4 2 3 0 3-1 3 1 6 1 3-2 2 1 2 0 4 2 1 0 2-1 1 0 3-1 1 0 2 0 4-2 0-2 1-7-1-3-1-3-2-5-4-5-2-5-2-2-4-4-4-5-4-3-3-2-5-1-3 0-4 2-5-2-2 2-3 1 0 1-2 2-2 3-4 2-2 2-3 2-1 4-1 2-4 2-4 6-1 3-3 2-3 2-4 3-2 2-1 3-2 4-4 3-4 4-3 4-3 2-2 2-2 4-3 3-3 4-2 3-2 4-3 3-3 4-2 2-2 0-3 2-1 3-2 0-4 2 1 3-1 0-2 6-10-4 0-9-1-2-2-2-1-4 0-5-2-4 2-5-2-3 1-4 2-2 2-3 0-3 1-2 3-6 8-3 0 0 1 0 3-1 4-3 4 1 3-4 2-1 5-3 5-2 4-1 2-3 5-3 5-1 3-2 6-3 3-1 5-1 1-1 1-2 5-2 2-2 1-1 2-1 1-1-1 0-1 0-1 0-4 0-5 1-5 0-6 1-5 1-6 2-6 2-7 2-1 4-1 2 0 1 1 3 1 2 2 1 2 2 1 3 1 3 3 0 4 2 3 4 3 4 3 2 2 4 4 3 3 3 3 3 4 3 5 4 1 2 4 3 3 3 1 4 3 2 4 4 2 3 3 2 2 2-1 3 2 1 2 4 0 2-1 2 0 3-3 2-2 1-3 2-3 1-5 3-2 0-4 1-5 2-4 0-5 3-5 1-5 1-4 2-5 1-5 2-2 2-3-1-5 3-2 0-1 1-2 1-2 4-4 3 4 1 7-2 6-1 2-4 2 0 1-2 3-2 3-2 3-4 3-2 3-2 3-4 2-3 3-2 2-3 3-2 4-6 4 1 3 2 1 2 1 3 1 5 0 4 3 4 1 4 1 5 2 4 1 1 2 2 2-1 4-1 1 0 4-2 4-2 2-3 2-3 4-3 3-4 1-4 5-3 2-4 2-4 3-3 4-4 3-4-2-4 0-3 1-2 1-1-2-1-1 0-1-1-2 1-4 0-1 0-5 0-3-1-6 0-4 0-6 1-4 1-5 1-4 0-5 2-4 1-6 0-3 2-2 0-5 2-2 1-2 0-2 1-2 1-2 1-2 3 1 2 1 2 3 2 6 3 6 1 6-1 6 1 3 0 1-2 4-1 4 0 4-4 4 1 3-4 3-2 5-2 6-2 3-3 5-2 3-1 3-1 1-3 3-2 2-2 1-1 1-4 0-4-3-2-5-1-7-2-5-1-5-3 0-1 0-2 2-3 3-1 5 0 3-2 4-3 4-1 4-3 2-1 5-3 2-2 2-5 3-4 0-6 0-3 0-3 0-2-4 1-1 0-1 1-3 0-3 0-4 0-3 1-2-1-4 1-3 1-4 1-4 0-4 1-6 2-3 0-4 1-3 0-6 0-4 1-3 0-6 2-3 0-5 2-4 2-4 1-3 1-4 0-4 0-4 0-4 2-3 1-3 2-4 2-1 0-3 1-3 1-3 2-1 1-4 0-3 2-1 3-1 4 0 4 0 5 1 5 3 5 3 5 3 2 4 4 5 6 2 4 3 1 2 1 2 2 0 1-1 0-2 0-1-1-4 0-4 0-1-1-5-4-5-2-3-2-4-3-3-3-5-3-3-3-3-2-3-3-4-2-2-1 0-2-1-3 2 0 5-3 4-3 3-2 6 0 4-2 1-3 1-4 0-4-1-4-3-4-3-5 1-5-3-2-2-2-1-3-2-2-3-3-1-3-4-4-1-3-2-5-2-3-3-7-1-4 0-2 3-1 2-1 4 0 3 2 3-1 5 1 4-1 5 0 4 0 5 0 3 0 7 3 3-1 6 0 3-1 4 1 3 2 3 2 2 1 2 0 3-1 3 3-1 2 0 5-2 2-2 3-2 3-3 4-4 5-3 3-2 3-1 2-1 4-3 3 0 3-3 3-3 4-2 2-2 5-1 2-2 4-4 4-1 1-3 4-2 5-4 5-1 3 0 3 1 3-1 3 0 4 1 1 2 4 2 1-1 1 3 2 4 1 2 3 1 1 5 1 3 1 4 1 3 1 3 2 2 1 5 1 5 2 4 1 4 1 5 1 5 2 3 1 7 1 2 1 3 0 4 1 5 2 3-1 0 1 2 1 3 0 4 4 3-1 2 5 4 0-13 0-2 2-2 2-5 2-7 1-2 3-3 1-5 4-2 1-2 2-4 0-4-1-3-1 0-3-2-1-1-3-3-2-1-4-2-3 0-3-2-5-1-4 0-3-2-5-2-5 1-3-2-6-2-2-2-4-2-2-3-3-2-4-2-4-3-2-3-5-3-4-3-4-2-2-5-3-4-6-3-2-1-5-2-3-2-2-2-2-1-2-2-3 0 0 1 1 1-2 3-1 2-1-1 1 0 0 2 1 3 1 3-2 3 2 1 1 4 0 3 1 2 1 2 4 5 2 5 1 4-1 5 2 5 2 2 1 4 3 4 3 3 3 4 1 4 0 4 0 3 3 5 0 4 4 6 1 3 3 4 3 4 1 3 1 5 1 2 2 2 3 6 1 1 2 4 0 2 2 5 3 2 1 4 0 1 1 2 2 2 5 7 5 1 6 0 5 0 2-2 3-3 0-2-2 0-3-3-2-2-3-2-3-2-5-3-5-2-3-1-3 0-3-1-3 1 0 5 0 5-1 4-4-1-2-1-2-2-5-2-2-3-4-2-3-2-4 0-2 1-5 0-4 4-2 1-2 2-6 0-2 1-3 2-2-1-6 3-3 1-5 1-3 1-4 1-3 1-4 2-5 0-3 1-4 0-4 0-3 0-5-3 0-1-2-3 0-3-2-3 2-4 0-4 3-4 0-3 1-4 0-5-1-2 0-3 2-4 1-3 1-4 2-5 1-4 2-4 1-3 0-4 0-5 1-7 1-2 0-6 2-3 2-2 2-4 2 0 3-1 4 2 2 1 1 2 3 0 2 1 1 0 4 0 3 4 1 1 4 2 4 4 1 2 5 2 4 2 2 3 3 3 4 3 2 4 2 3 4 4 2 3 3 2 5 4 2 3 3 3 4 3 3 3 2 2 4 2 2 2 3 2 1 5 1 1 2 1 2 4 1 0 2 2 2 3-1 2-2 2-5 1-5-1-3 2-6 0-7 1-5-1-3-3-4 2-3 2-5 1-5 0-6 1-1 0-2 0-1-3-4-6-1-3 0-6 0-4 0-4-1-2-4-1 0 1-4 1-2 2-4 1-3 2-3 2-6 3-4 3-4 3-4 2-2 3-3 2-4 2 0 2-3-1-3 0 1 0-4-2 1-1 0-6 2-1 4-4 1-5 3-7 0-6 2-3 2-1 0-5 3-4-1-3 1-5 0-4 0-4 2-5 1-4 3-3 0-3 0-5 2-4 1-6 2-6 1-4 0-6 2-4 2-3 2-3 2-3 0-3 0-1 1-4-1-2 1-1 2-1 1 1-1 3 0 1 0 2 0 3 1 3-3 3 1 2-3 6 1 3-1 5-1 4-2 3 0 4 2 6-1 3-3 5-2 5 0 5-1 4 0 5-1 6 0 5-1 4 0 5-1 5-1 3-1 3 0 4-1 3-1 2 0 4-2 3 1 3 0 2 1 3 0 1 1 2 2 2 1-1 3 0 0-3 5-2 4-6 3-2 4-4 3-7 4-3 2-2 4-5 3-1 1 0 3-1 3 4 1 5 1 5 1 3 1 3 2 4 2-1 2-2 1-5 3-4 1-4 4-3 2 1 5 0 2 1 5 3 3 3 2 3 3 4 3 3 5 2 2 2 2 2 4 1 2 0 6 0 1 1 2 1 5 2 5 2 4 0 3 1 3 1 3 2 4 0 3-1 7 1 3 0-9-14-1-3-3-1 0-1-3-2 0-1-3 0-2-4-2-4-1-2-2-1-3-2-1-1-3-2-3-4-3-3-4-4-3-1-3-2-4-4-3-4-2-3-2-3-3-2-4-4-4-3-3-3-2-2-5-4-3-4-3 0-2-3-5-4 0-2-3-3-4-3-2-4-3-3-4-2-1-3-2-2-4-2-2-3-2-4-1-2-2-2-1-2-2-2 0-3 0-1-1-2-1 1-1-4-1-3 1-4 3-2 3-3 3-3 3-3 4 0 5-1 5-1 5 0 4 1 6 1 5 1 4 2 5 0 2 2 3 3 1 4 0-1 2 2 2 2 3 3 2 2 1 4 0 3 1 3 1 2 2 4 0 4 2 6 1 5 0 3 0 5 3 4 3 5-1 3 2 5 1 4 0 3 2 5 0 6 0 3 0 4 0 4 1 3 2 2 1 2 1 1 3 3-1 1 3 4 5 7 2 2 4 1 2-2 5-5 5-1 1-4 1-1 1-5 3-4 1-4-1-5 0-4 0-1-4-3-6-2-4-4-2-2-2-3-2-3 2-3 2-2 2-1 3-3 2-2 5-3 2-2 0-5 0-5 0-5 1-6-5-3-1-1-2 1-3 1-3 3-4 3-4 4-4 4-1 5-4 3-3 3 0 1 0 1 0 4 3 2 5 1 4 3 6 0 2 4 1 2-2 3-3 0-7 0-5 1-3 2 2 3 0 3 3 2 4 2 2 3 3 6 2 0 0 3 4 3-1 4-2 2-2 2-4 0-3 0-3 3-2 3 2 4 4 3 1 3 0 4-3 3 0 2-5 0-4 1-6 1-3 1-3-2-2-2-6-3-4-1-4 0-4-1-3 0-3 0-4 3-3 3-3 5-3 2 0 2-3 1"/>
</g>
<text x="181.15" y="290.60" font-size="8.8" font-weight="normal" text-anchor="middle" fill="#222" stroke="#222" stroke-width="0.22" >RS 3d</text>
<rect x="134.10" y="299.60" width="93.30" height="87.80" fill="#93a250"/>
<rect x="153.0" y="319.0" width="52.00" height="46.50" fill="#a890a8"/>
<rect x="137.20" y="302.70" width="87.10" height="81.60" fill="none" stroke="#f01ef0" stroke-width="4.00"/>
<g transform="scale(.5)" stroke="#f01ef0" stroke-width="1.90" fill="none" stroke-linejoin="round">
<path d="M281 626l-2-2 0-4-3-6-1-3-2-3 0-3 3 1 4 1 3 3 3 3 6 1 4 1 4-2 2-1 4 0 4-1 2-1 4 0 2-1 4-1 6 0 4 1 4 0 6-2 4 0 3 0 4 2 3-1 3 0 3 1 5-1 5 1 4 0 3-1 2-3 3-2 4 3 2 3 5-2 6-1 4-2 3 0 3 2 1 4 4 3 4 1 2-2 5-2 2-1 4-2 3-1 5 3 2 2"/>
<path d="M440 628l0 6 2 3 4 5 4 1 2 4 0 4-2 3-2 4-1 2-1 3 1 6 1 3 1 6 1 4-3 4-2 6-3 5 1 3 1 5 0 4 0 5 1 4 0 4-1 3-1 4 0 3-2 4 0 3-2 4 1 2 1 2 0 4 0 2 0 4-3 3-6 0-5 1-2 3-3 1-3 3-3 2-2-1-3-3-4-3-3 0-3-1-2 0-6-1-3 1-4-1-6 1-3-1-3 1-2 0-5 0-4 1-5 1-3 1-5-2-4 2-4 1-7-2-3 1-2 1-4 3-4-1-4 1"/>
<path d="M383 609l2-2 1 0 5 0 3-2 5 0 3-1 4-1 6-1 3 0 4 3 1 4 3 3 5 0 5-2 4 1 2 0 4 4 3 1 4 3 0 4-2 6-1 3 2 4 1 5 0 3 0 4-1 4-2 4 0 4 1 2-2 5-3 3 0 4-2 3 1 1-1 5 4 2 1 3 1 5 2 3 0 4 0 2-1 3 0 4 0 4 0 5 0 5 1 2 0 3-2 7 1 4-1 2 0 5 1 4-2 3 0 3 2 3-2 5-4 0-3-1-4-1-5 0-4 0-4 2-2 0-5 0-2 1-4 0-5 1-5 0-4-1-3 0-4 0-5-2-5 2-3-1-4 1-2-2-4-1-4 1-3-2-4 0-3 2-2 1-5 1-4 1-2 1-3 1-5 0-6 2-2 2-3-1-3-3-1-2-2-3-5-2-5 0-5 1-3 2-3 3-3 3-3 2-3 0-6-2-2-6-1-3"/>
<path d="M274 725l1 2 0 3 2 5-1 4-1 4 0 3 0 3-2 4 1 3-1 3 2 2 5 0 6 0 5 0 4 0 1 1 2 3 3 0 4 2 5-1 4 0 3 1 5 0 6 0 5 1 3 0 5 0 3 0 3 1 2-3 4 3 4 0 2-1 3-1 3-3 3-2 5-2 4 0 3 0 2 4 2 2 3 1 5 1 4 0 3-4 3-2 5-3 5 3 4 2 6 0 4 2 4-2 2-3 5 0 4 1 5-1 1 0-1-2 1-5-1-4-1-3 0-5-1-5-2-3-1-4 1-5-1-3-2-5 1-1 2-2"/>
</g>
<g fill="#93a250"><ellipse cx="154.5" cy="304.3" rx="2.0" ry="1.1"/><ellipse cx="211.7" cy="304.2" rx="2.5" ry="1.2"/><ellipse cx="159.1" cy="384.3" rx="2.9" ry="0.9"/><ellipse cx="151.9" cy="384.3" rx="4.4" ry="0.8"/><ellipse cx="223.1" cy="355.7" rx="1.1" ry="1.6"/><ellipse cx="137.3" cy="316.3" rx="0.9" ry="2.9"/><ellipse cx="223.5" cy="364.3" rx="0.9" ry="4.0"/><ellipse cx="168.1" cy="303.0" rx="3.5" ry="1.1"/><ellipse cx="169.7" cy="384.0" rx="3.1" ry="1.0"/><ellipse cx="207.3" cy="384.2" rx="2.8" ry="1.0"/><ellipse cx="144.0" cy="304.3" rx="2.2" ry="1.3"/><ellipse cx="163.4" cy="382.8" rx="3.3" ry="1.2"/><ellipse cx="138.4" cy="306.1" rx="0.7" ry="2.7"/><ellipse cx="193.6" cy="304.3" rx="4.2" ry="1.0"/><ellipse cx="138.0" cy="346.5" rx="1.4" ry="3.7"/><ellipse cx="223.2" cy="327.4" rx="0.9" ry="2.0"/><ellipse cx="168.5" cy="384.1" rx="2.9" ry="0.9"/><ellipse cx="138.5" cy="318.0" rx="1.0" ry="3.8"/><ellipse cx="138.3" cy="337.6" rx="1.1" ry="2.6"/><ellipse cx="222.9" cy="360.6" rx="1.3" ry="1.6"/><ellipse cx="223.8" cy="322.6" rx="1.1" ry="2.8"/><ellipse cx="136.9" cy="366.7" rx="1.0" ry="4.2"/><ellipse cx="138.4" cy="356.3" rx="0.8" ry="3.2"/><ellipse cx="158.4" cy="383.9" rx="2.2" ry="0.9"/><ellipse cx="173.2" cy="384.3" rx="1.8" ry="1.1"/><ellipse cx="199.0" cy="303.1" rx="2.9" ry="1.0"/><ellipse cx="164.1" cy="303.6" rx="1.8" ry="1.3"/><ellipse cx="208.6" cy="384.3" rx="4.4" ry="1.1"/><ellipse cx="224.4" cy="371.2" rx="1.1" ry="4.0"/><ellipse cx="137.3" cy="358.1" rx="1.2" ry="3.9"/><ellipse cx="136.9" cy="315.2" rx="1.0" ry="3.2"/><ellipse cx="224.1" cy="378.9" rx="0.8" ry="3.3"/><ellipse cx="137.7" cy="323.6" rx="1.3" ry="3.4"/><ellipse cx="180.6" cy="382.8" rx="1.9" ry="1.3"/><ellipse cx="137.4" cy="361.8" rx="1.0" ry="4.1"/><ellipse cx="224.1" cy="307.8" rx="1.3" ry="3.4"/><ellipse cx="202.9" cy="303.3" rx="2.6" ry="0.7"/><ellipse cx="198.8" cy="303.5" rx="1.6" ry="0.9"/><ellipse cx="137.8" cy="344.8" rx="0.7" ry="2.5"/><ellipse cx="219.8" cy="303.6" rx="4.2" ry="1.0"/></g>
<g transform="scale(.5)" stroke="#f01ef0" stroke-width="1.90" fill="none" stroke-linejoin="round">
<path d="M431 688l-2 2-3 2-3 3-4 2-1 4 1 3 1 3 1 4 3 4-1 4 2 2-2 5 0 5 2 3 1 3-1 5-1 3-2 3-4 3-2 2-4 2-4 1-5-3-3 0-3-2-5-3-3-1-2-4-4-2-2-2-5-2 0-4-1-1 5-2 4 3 8 1 3 3 7-1 5-1 2-2-1-5-3-1-1-1-1-3 0-3-1-3 0-2 0-4-3-3-1-3-1-4-3-6-1-2-1-5-2-3-2-2-4-4-1-3-2-4-1-4-3-5-2-3-3-2-2-5-2-3-2-2-2-6-1-4-2-3 0-3-1-2-1-3-2-2-3-2-1-3-1-1-1-2-8-6-1 6-1 6-5-1-6-4-4-3-6-3-3-3 5 4 1 0 3 2 1 2 2 0 2 1 3 4 5 2 3 1 4 5 5 2 4 2 3 2 3 0 3 5 4 2 5 3 4 3 3 2 5 4 2 0 3 3 3 3 1 2 2 0 1 4 2 1 2 0 0-1-2 2-4-1-3-1-2-1-2-1-3-2-2-2-3-2-3-2-3-3-4-4-3-3-6 0-5-2-5-2-5-2-3-3-2-3-5-1-4-1-4 0-3-2-4-2 0-2 0-4-7-3-4-3-5-4-3-1-3-4-2 2-3-2-2-1-4-3-3-1-6-1-4 0-2 1 0 2 3 3 2 3 3 4 1 5 2 3 3 3 1 4 1 3 2 2 4 6 4 5 2 4-1 3-3 1-3 1-5 2-4 1-6 1-3 1-2 2-2 2 2 2 2 2 4 1 5 1 4 6 5 1 4 2 6 3 2 1 3 1 3 2-3-2-3-1-1-1-6-2-4-4-5-2-6-4-3-1-1-2 1-3-2-3-2-4-1-4 0-5 0-4 0-3-1-2 0-5 0-3 1-1 3-4 3-4 1-3 2-4 1-3 3-3 3-1 5-1 3-1 3 0 6 1 1 0 4 1 4 2 3 0 4 1 3-1 4 0 3 1 4 1 4 2 2 3 4 4 4 0 2 1 4-1 3-4 2-1 4-4 4-3 4-1 4-3 3-1 1 0 1 3 0 2 2 6 0 5 2 5 0 4-1 4 0 2 1-4 2-5 1-7-3-5 0-3-1-3-2 1-2 2-2 4-3 4-3 5-3 2-2 6-2 2-1 3-2 5-1 3-4 2-1 4-5-3-1-1-2-3-4-2-4 0-2-2-3-3-4-1-3-1-3-1-4-3-5-2-4-1-4-3-3-1-2-2-5 0-1 0 1 2 1 5 4 3 2 3 4 5 3 3 1 2 0 4 0 3-1-3-3 0-3 1-3-2-6-1-3-2-4-3-5-1-4-2-4-2-4-1-1-2-2-3-1 0 2 0 0 1 2 1 7 2 7-1 3 1 5 0 0-1-1-3 0-3-2-4-3-5-2-5-2-4 0-1 2-1 2 2 1 0 1 1 3 2 3 2 4 1 4 3 3 4 4 2 4 2 4 3 4 3 0 2 3 2 2 2 3 2 3-2-1-4-3-5 2-5 1-3 6 1 5 3 4-1 2-2 4 0 4-1 2-2 5 0 2-3 4 0 4-4 5-1 2 0 3-2 2 0 4 0 3 0 3-2 3-2 4-3 4 0 5 1 5-1 5 1 2 1 4-1 3 2 1 3 1 2 2 5 2 4 4 3 4 4 0 4-3 4-3 2 0 1 1 5-3 3-2 4-2 6 0 2-3 3-1 7-2 2-1 5 0 4 1 2 2 2 4 3 3 4 2 2-1 4-1 5-1 4-4 3-2 6-2 1 1 1-3-1-2-6 0-6 2-3 2-2 3-3 2-5 0-4-1-2-3-1-5 1-5-2-3-3-4-1-3-2-4-1-1-2 1 0 3 1 3 2 4 2 4 1 5 2 4 3 3 3 3 2 2 1-1 4-3 1-4 2-4 3-6 2-5-1-5 1-2 1 1 2 0 3 2 0 2 3 2 4 3 4 4 3 5 2 4 1 5 4 3 5 3 2 2 3 1 0 2 1 0 2-1 1-2-1-5-1-3-3-5-4-4-1-5-1-5-5-5-1-3-1-3-2-2-1 1-1 2 2 1 1 4 3 3 0 4 3 5 3 5 2 4 2 3 2 2 0 2 1-4-3-4-3-3-5-2-4 0-4 3-3 3-1 1-3 2-4 2-3 1-3 1-6 0-4 0-3-1-1-2-1-5 0-6-3-3 0-2 0-3-2-4-3-2-2-2-1 4-3 3-4 3-3 4-1 2-2 1-2 4-4 3 0 2-2 1-3-1-1-3 0-4 1-7 0-5 3-5 1-4-1-2-1-2-2 0-2 1-3 1-2 4-3 2-3 2-5 1-5 5-5 4-4 1-4 3-3 1-4 3-2 2-2 1 0-1 1 1 1 0 2-2 3-1 3 0 2-2 3-2 5-2 6 0 4-3 3-3 6 0 4-2 3-2 4-2 3-2 5-2 4-2 1 0 4-1 0-1 0 0-1 1-2 1-4 0-2-1-3 1-6 0-5 2-4 0-4 0-6 2-4 1-5 1-3 0-4 1-2 0 3 3 6 1 6-1 6 0 2-1 5-2 4 0 2 2 3 2 4 1 4 3 3 4 2 3 2 5 4 1 1 2 1 1-1 0-1-2-1-2-5-4-3-4-4-3-3-4-2-4-3-3 1-2 4-2 1-3 3-2 3-3 3-2 3-4 5-1 4-3 3-2 3-2 2-2 1-1 4-2 3 0 4-1 5-1 3-3 3 0 4 0 3-2 3-2 4-2 3-1 1-3 3-2 3-3 1-2 2-2 1-5 1-4 1-4 2-2 3-3 0-3 1-5 1-4 2-5-1-4 1-2 1-6 1-5-1-5-1-2-2-2 2-4 1-4 1-2-1-2 1-2-1 1-6 3-3 4-6 2-4 1-2-2-2-3-1-4-3-3-3-2-3-3-3-2-3-2-4 1-3-2-6 0-2 0-2-1-3 0-3 2-3 4-3 2-3 5-2 2-2 5-1 4-2 4-1 2-2 2-2 2-3-1 1-5 1-4 1-5 0-1 2-1 4 3 4 1 4-1 5-1 2-1 4-5 4-3 2-1 3-3 1-2 5 2 4 0 4 3 5 3 1 1 3 0 5-4 6-5 4 0 2 1 0 1 0 2 1 1-2 4-2 5-3 4-1 5-2 4-3 4-2 4-2 4 0 0-1 2 0 0 5 0 3 0 1 0 4-1 4-2 4-2 5-2 3-3 4-3 3 0 3 1 1 1 5 1 1 1 0 5-3 3-4 4-5 3-3 5-3 2 2 3-2 4 3 5 3 2 0 3 1 3 1 2 2 4 0 3 2 4 2 3 1 4 1 3 0 4-3 3-1 2-3 3-1 2-3 3-3 2 0 4 1 4 5 4 1 4 2 2 3 3 1 2 1 5-1 4-3 2-1 0-3 1-2 2-2 2-2 1-6 1-3 1-6-1-4 1-4 2-7-2-3-1-6-1-2-2-2-1-1-2-4-1-3-3-2-1-6-2-6-3-2-1-4 0-6-4-3-1-3-5-5 0-3-3-4-3-3-2-5-1-4-2-2-1-4-3-5-1-2-4-2-1-3-2-3-1-2-1 0 0-2-1 0-1 1-1 0-1 0-1-1-1 1 2 1 2 2 2 3 1 4 2 4 1 4 1 5 0 5 0 4 3 5 1 6 2 5 2 6 2 6 2 4 2 5-1 3 2 5 1 7 3 2 0 4 2 3 3 4-1 4 1 0-2 2 0 3-1 2 1 1-1-2-2 0-1 0-3 0 2-1-4-3-1-2-2 1-1-2-2-2-3-2-3-2-2-4-2-2-2-2-2-4-3-2-4-4-3-2-2-3-2-3-5-5-3-3-1-4-4-2 0-3-4-3-5-2-1-5-3-3-3-4-2-3-4-4-2-2-2-4-4-4-2-3-2-2-2-2-3-2-3-5-4-1-2-5-1-3-1-2-4 0-1-2-3-3-1-2 0-3-12-5-5 0 2 1-1 4-2 2 1 1 1 3 1 5 4 3 1 4 3 4 1 3 4 5 1 2 3 5 0 3 1 5-2 4-1 2 0 4-1 3-2 3 4 3 1 3 4 3 0 4 1 4-3 3-2 4-5 3-3 4-4 5-2 2-2 3-3 1-1 0-2 0 1-3 2-4 2-3 2-5 4-3 4-1 2-4 4 0 4-1 5 1 3 0 4-2 3-1 2-2 1-1 1-2-1-4-2 0-6-2-3-1-5-2-4-2-4-2-5-3-1-3-3-1-1-4 3-5 4-2 4-2 1-1 5 2 5 1 3 0 3-2-1-3-1-5 1-5-3-6-3-3-2-4-1-3-1-3 0 3 0 1 0 2-1 3-2 4 1 3 1 3 1 5 0 4 0 4 1 4 1 4 1 5-1 3 1 4 1 5 1 4 2 4-1 4 2 3 2 5 1 2 3 1 2 4 2 3 4 2 2 2 3 5 3 4 5 2 2 3 3 2 4 4 4 2 1 2 4 3 4 2 1 0 4 3 1 1 3 0-1 3-1 0-1-1-1 2-2 1-2 1-4-1-4-1-4 0-3-2-4-1-6-5-5 0-5-1-3-1-5-1-6-1-2 0-4-1-3 0-2-1-4 0-2 2-3 3-4 1 0 5-2 5-1 4 0 3 0 5 0 3-2 3 0 3 0 3-2-1-2-2 0-5 1-5 1-4-1-4-2-4-2-3 1-4 1-2 2-1 4-2 2-2 3-3 2-2 3-3 1-2-1-1 0-4-5-2-5-4-2-3-4-2-5-6 2-2 3-2 2-1 2-2 2-2 3-1 3-3 4-1 5-2 5 0 4 1 4 2 5 0 2 0 3 2 2 2 2 0 3 1 4 5 4 1 5 3 2 2 1 4 0 4 3 2 4 5 4 1 4 4 3 3 4 2 1 3 3 1 4 3 4 1 2 0 3 0 3 2 1 1 4-1 2-3 3-1 1-2 2-2 2-1 2-1 1-1 3-3 2-2 3-3 1-2 1-3 0-4 3-4 2-5 3-3 2-5 2-4 2-4 2-3 1-3-1-6 3-3 1-5 1-5 1-3 1-5 2-5 1-1 2-3 2-4 1-4-1-2 4-4 2-3 0-3 0-1 2-3 1-10-6 4-9 8-1 2-3 1-2 1-2 2-2 2-6 2-3 5-3 2-3 1-4 3-3 3-3 3-2-1-3 2-1 0-6 6-3-3 2-1-1-2 0-3 1-4 0-6-1-5 1-3 0-5 0-4 1-4-1-3 0-2-2 0-4 0-3 1-5 1-5 3-4 1-4 3-4-1-3 2-2 2-2 1-3 2-3 1-3 4-2 3 0 4-3 4-2 2-4 1-2-2-2 0-5-2-5-2-3-3-2-2-5-3-3-3-1-4-2-1-1-1 0-1 4-2 4 0 5-1 4 0 5 2 4-2 4 1 4-2 3 0 4 0 2 3 3 3 3 3 2 3 4-1 3 0 4 1 3-4 1-2 3-4 3-4 3-2 4-1 3-2 3-1 4 1 2-1 5 2 4-1 4 1 3 2 3 0 2 4-2 6 1 4 3 0 3-2 5-1 3-2 4-1 4-2 3 1 7 0 0 1 2 4 0 3 1 3 0 2-1 3-2 3-1 3-2 3-3 3-2 5-3 5-3 4 0 1-3 2-4 2-2 2-3 2-2 2-3 3-3 4-5 2-3 2-2 3-3 1-4 4-3 5-5 3-3 2-3 0-5 3-1 4-5 1-5 1 0 3-1 3-4 3-3 5-1 0-2 4-1 2 0-1-3 0 0 3 0 2 1 2 1 0 1 2 2 1 3 3 3 1 4 0 4 2 5 2 4 1 6 0 4 0 4 2 4 0 5 0 5 1 4 0 4 2 5-1 3 1 4-1 1-1 4-1 4 2-1-1 2 1 0-2-3-2-4-3-5-4-6-4-7-2-4-2-2-1-1-1-1 3 1 1 3 3 4 4 2 4 1 4 4 4 0 3-2 1-2 2-5 0-5 0-4 0-5 1-3-1-5 3-2 5-3 3-5-1-2-3-3-1-2-4 2-5-2-6 0-4-3-4-1-2-1 1-2 1-3-1-3 3-5 1-3 3-2 4-1 3-4 3-3 2-4 2-2 2-5 0-3-2-7 2-2 0-5 0-2 2-4-1-3 2-7 0-1-3-4-2-3-4-4-1-1 0"/>
</g>
<text x="181.15" y="398.40" font-size="8.8" font-weight="normal" text-anchor="middle" fill="#222" stroke="#222" stroke-width="0.22" >MS+ RS 3d</text>
<rect x="230.90" y="191.80" width="93.30" height="87.80" fill="#9b5e7d"/>
<rect x="252.0" y="214.0" width="50.00" height="48.00" fill="#ad5f6e"/>
<rect x="235.25" y="196.15" width="84.60" height="79.10" fill="none" stroke="#f01ef0" stroke-width="6.50"/>
<g transform="scale(.5)" stroke="#f01ef0" stroke-width="1.90" fill="none" stroke-linejoin="round">
<path d="M622 402l5 1 5-1 4 3-1 2-1 2-1 3-1 2-3 4 4 6 1 4 1 4-1 4-2 4 1 3 1 5 0 2-2 5-2 5-1 4 1 2 4 4 5 4 0 1-1 4-1 3 0 4-1 1-3 5-3 2-1 5-1 4 1 5 3 4 0 2 3 3 1 5 2 4 0 4 0 3-2 3-2 1-5 1-2 1-6 2-3-1-5 2-3 0-4 0-4-2-3-1-3 1-4 4-3 2-4 0-4-1-5 0-3 0-4-2-5 1-4-2-4 1-4-1-6-2-4 1-2 1-4 0-2 0-2 3-6 2-4 0-5 0-3 1-3-2-3-2 0-2-4-1-3 0-3 4-5 2-2 1-3 1-4-3-3-3"/>
<path d="M631 443l-1-3 0-5 1-4 1-4 2-3 1-3 3-3-4 1-4-2 0-3 1-5 2-4 2-4 3-3 0-4-1-2-2-3-4 0-3 3-5 2-5 1-3 2-3-1-3-3-5 2-5 1-2 2-5 3-4 1-3 0-3-2-4-2-4 1-4 1-5 1-4 1-1 0-3 0-4-1-5-1-3-1-3-2-3-2-3 1-7-2-4-1-3 2-1-1-6 3-3 1-3-1-4-2-5-2-3 1-2 2-5 2-2 0-2-3-4-2-5-2-2 0-1 3-1 4 0 4 0 5 1 2 1 3 1 4 2 3 0 4 2 3 1 3-2 4-3 4 0 3 0 4 2 3 0 5-3 4 0 4 0 5 1 2 3 4 3 2 0 3-1 4-2 3-4 2 0 6-3 4 1 3 0 5-2 1"/>
<path d="M469 405l3-3 4-2 3-3 4 2 3-5 1-3 4 0 4 2 3 0 6 3 3 0 3 1 6 1 4-1 4-3 4 1 3 0 5 0 1 3 4 1 2 1 2-2 3-4 3-2 3 0 3 3 3 3 4 3 3 2 2-1 3-3 3-3 4 0 5 0 3-1 4 0 4-1 3 0 5-1 3-1 4 2 2 2 5 2 1-1 5 0 2-1 5 0 4 0 4 1 1 4 0 2-3 6-1 4-1 4-1 5-1-1 4 4 5 2-2 5 2 3-3 5-2 6 1 3-1 3 1 4 0 4 1 3 2 3 0 4-1 2-1 5-1 5 0 3-1 3 3 4-1 4 0 5 0 4 0 4 1 3-1 4-2 4-3 4"/>
<path d="M642 521l-2-3 0-3 0-2-3-4 0-7 1-3 0-3-2-3-1-3-1-3 0-5 1-3-1-4 1-6 2-4 2-2 1-5 1-4 0-2 1-3 0-5-4-2-1-3-3-3-1-3 2-3 1-5-1-3-1-4-2-5 2-4 0-4 2-6 1-3 0-2-5-3-4 1-5-1-4-1-5 0-2 1-3 3-4 2-3 1-5 4-3 1-4 0-3 0-3-2-3-1-3-1-4-1-5 2-3 3-3 1-3 0-3-2-2-3-3-4-2-2-2-2-4 1-3 4-3 4-2 0"/>
<path d="M482 423l-1 3 1 5 1 4 0 4-3 2-5 0-2 4 4 2 2 4 2 2-2 2-2 3-4 1-2 4-1 3-1 4 2 5 3 3 2 5 0 3-1 4 3 5-3 5-1 2-1 2-1 3-4 3 1 5-1 3 0 3 0 4 0 4-2 2 3 4 0 4 2 2 3 2 4-3 4-1 5 0 3 1 5 0-1 5 2 4 4-3 5-3 4-2 3 0 2 4 3 3 2 0 3-2 3-2 5-4 5 0 3 1 5 2 4 2 5 1 5-1 3-3 5-2 1 1 5 3 3 1 4 1 4 4 3 1 4 1 4 0 2-2 0-4 1-3 3-2 6 1 3-1 2 1 4 1 5 1 2 3 4 2 2 2 4 1 4 1 4-2 3-4-1-2-1-3-1-5-2-1-2-6 0-2 1-5 1-4 1-1"/>
<path d="M639 477l-1 4 1 6-3 5-1 4 1 1 2 7-1 4 0 4 0 4 3 2 1 4-4 3-3 5 0 2 2 5 0 5 1 5-1 3-3-1-4-2-5-1-5-2-2 0-3 0-4 2-3 0-4 2-3-2-4-2-4 1-6 0-4-1-6 0-4 2-3 2-5 1-2-1-2-1-5-3-2-2-8 2-3 1-3-1-4-4-4 0-4 1-3 0-4 3-4 1-3 1-3 1-5 0-3-2-3-2-4-1-2 1-3 1-5 2-2 1-4-1 2-3-2-4 1-2 1-5-1-5 0-2-1-7-1-5-1-5 0-3 0-4-1-3"/>
</g>
<g fill="#9b5e7d"><ellipse cx="236.0" cy="217.9" rx="1.3" ry="2.6"/><ellipse cx="236.8" cy="236.0" rx="1.3" ry="2.8"/><ellipse cx="260.7" cy="275.6" rx="4.2" ry="0.8"/><ellipse cx="250.5" cy="197.5" rx="2.1" ry="1.2"/><ellipse cx="318.1" cy="262.6" rx="0.7" ry="2.6"/><ellipse cx="253.1" cy="276.1" rx="4.4" ry="1.2"/><ellipse cx="235.0" cy="230.1" rx="0.9" ry="1.9"/><ellipse cx="321.0" cy="217.1" rx="1.2" ry="1.7"/><ellipse cx="237.1" cy="195.0" rx="3.9" ry="1.0"/><ellipse cx="236.7" cy="239.8" rx="0.8" ry="2.8"/><ellipse cx="242.2" cy="197.7" rx="2.7" ry="0.7"/><ellipse cx="279.0" cy="275.3" rx="4.4" ry="0.8"/><ellipse cx="317.8" cy="227.1" rx="1.2" ry="2.8"/><ellipse cx="288.0" cy="274.8" rx="2.2" ry="0.7"/><ellipse cx="319.5" cy="214.8" rx="0.9" ry="1.8"/><ellipse cx="281.3" cy="197.3" rx="2.4" ry="0.7"/><ellipse cx="284.8" cy="195.6" rx="2.9" ry="1.1"/><ellipse cx="237.0" cy="248.2" rx="1.0" ry="3.1"/><ellipse cx="302.2" cy="276.0" rx="2.9" ry="1.1"/><ellipse cx="312.6" cy="274.2" rx="3.4" ry="1.0"/><ellipse cx="319.1" cy="220.9" rx="1.1" ry="2.2"/><ellipse cx="246.5" cy="274.6" rx="2.9" ry="0.9"/><ellipse cx="233.8" cy="198.6" rx="0.7" ry="3.4"/><ellipse cx="233.9" cy="267.0" rx="0.9" ry="3.5"/><ellipse cx="237.2" cy="235.0" rx="0.9" ry="3.9"/><ellipse cx="269.8" cy="197.5" rx="1.8" ry="1.2"/><ellipse cx="318.0" cy="203.5" rx="1.2" ry="3.1"/><ellipse cx="321.0" cy="245.8" rx="1.1" ry="3.5"/><ellipse cx="277.2" cy="196.2" rx="3.0" ry="0.8"/><ellipse cx="282.5" cy="275.0" rx="2.9" ry="1.1"/><ellipse cx="263.0" cy="196.8" rx="3.4" ry="1.3"/><ellipse cx="253.4" cy="276.4" rx="2.3" ry="1.0"/><ellipse cx="234.6" cy="233.9" rx="0.7" ry="2.5"/><ellipse cx="321.2" cy="274.2" rx="1.0" ry="2.7"/><ellipse cx="244.5" cy="276.0" rx="3.0" ry="0.9"/><ellipse cx="235.2" cy="240.7" rx="0.7" ry="2.8"/><ellipse cx="237.0" cy="225.2" rx="0.9" ry="2.3"/><ellipse cx="318.0" cy="265.0" rx="1.0" ry="1.6"/><ellipse cx="286.1" cy="196.4" rx="2.9" ry="1.1"/><ellipse cx="235.8" cy="244.4" rx="1.1" ry="1.7"/></g>
<g transform="scale(.5)" stroke="#f01ef0" stroke-width="1.90" fill="none" stroke-linejoin="round">
<path d="M579 390l3 0 3 3 3 1 4 4 5 4 1 2 4 0 3-1 3 0 4-3 3 0 4-3 4-2 3-3 2 0 0 1-2 4-1 5 0 4 1 5 2 5 4 4 2-1 1-2 2-4-1-4 1-4 1-3 2-3-2-4-1-5-6-1-3 2-3-1-3 1-5 1-3 3-4 1-4 1-3 1-3 0-3 2-4 1-4 1-4 1-3 3-5 2-5 1-3 3-1 0-1-1 3 2 4-1 6 0 3 0 4 1 5 3 4 1 6-1 3-2 4-2 3-4 3-1 2-3 3-3 3-3 4 1 3-2 4 2 4 4 1 1 1 5 0 2-1 5 0 6-2 1-1 2-1 3-3 4-3 3-2 1-4 3-3 3-5 3-3 4-2 1-1 1-1 2 2 2 1 1 3 1 6-1 7 0 3 1 4 2 3 2 1 2 1 1 1 3 0 4-2 3-2 4-3 4-3 2-1 4-2 2-1-3 0-4 1-6-2 0 1 1-1 3 0 4 1 5 1 4 0 5 1 3 3 2 0 4 2 3 2 3 2 3-1 5 0 6-2 4 0 5 0 2-1 2 3 1 3-5 0-4-2-3-2-3-2-2-2-5-1-1-2-2 0-3 7-1 11 2-5-3-2-1-5 0-2 0-1-2-1-1-2-2-3 0-4-2-4-1-2 0-4-1-2-3-4-2-4-1-3-2-4-2-3-2-5-1-3-1-5-1-4-1-5-1-3-2-3-4-5 2-4-3-3-2-4-3-5 0-4-2-4-3-4-1-5-3-4 0-4-2-2-1-3 0-3 0-3 0-3-1-2-2-2 1-4-1 1-2-3-1-3 0-2 1-4 0-3 0-3 3-1 2 2 5-1 4 2 5 1 5 1 5 2 5 2 4 3 3 2 6 2 3 3 2 1 2 5 0 4 1 5 1 4-1 4-1 4-2 4 1 6 0 4-1 3-1 4 0 3-2 1 1-1 0-1 1-1 1-2-1-3 0-1 1-3 2-5 0-4-1-5 0-4 1-6 0-4 1-5 2-6 0-5 3-2-1-5 0-2 2-1 1-2-1-3-1 3-5 7-4 0-4-2-3-5 0-5-1-5 1-3-1-1-3 0-2 3-3 4-2 5-2 4-3 2-4 0-3 1-5-1-3-1-4 0-1-1-3 1-1 1 8 1 6 3 2 6 3 1 2-1 2-3 5-4 0-3 2-4 4 2 1 2 3 0 4-1 4-2 4-2 5-2 4-1 3-3 4-1 3-1 3 1 4-2 4 3 5-1 6 0 3 3 2 3 1 2-2 3-1 3-1 4-4 4-3 6-4 2-1 5-1 3-3 1-1 3 0 4 1-1 3 2 2 3 3 6-2 2 1 5-2 5-1 3 1 4-1 3 2 3 1 4 1 2 0 3 2 3-1 3-2 5 0 4-3 2-2 4 0 2-1 6 2 1 4 4-1 4 4 6 1 1 1 4 0 4 1 5 0 3 3 4 3 2 1 4 0 5 0 2-1 3-1-2-2 1-2 0-1-2-3 0-6 0-4-2-5-1-5-3-4-1-3 0-4 4-5 3-4 2-3 2-2 1-3 1-2-1-2-2-2-3 0-6-1-5-3-3-3-5-2-1-1-1-2 1-4 0-3 2-2 4-3 2-3 2-5 2-3 3-2 1-5 3-3 1-4-1-3 0-3-2-4-3-5-4-2 2-1-2 2 0 2-1 4 0 4-2 5 1 2-3 2-4 4-3 4-5 4-3 2-2 1 0 2 0 2 3 0 2 2 5 1 6 1 4 1 4 2 4 3 4 1 2 1 2 0 1 5-1 2-3 3-2 2-2 6-3 2-1 4-2 3 1 4 2 4 2 4 2 2 3 4 1 3-2 3-2 2-4 3-4 2-4 3-4 3 0 2-4 4-3 1-3 2-4-2-3 1 0-1-1-4-3-1-4-4-4-3-3-3-3-1-4-4-2-3-2-4-3-2-1 0-3 0-3-1-2 4-2 4-1 4 1 4-4 5-2 2-3 3-5 1-4 3-1 2-2 1 2 1 4 0 6 0 4 2 5 1 4-4 3-1 2-3 2-1 1-4 1-4 3-5 1-3 1-3 2-3 3-2 2-7 2-1 3 1 3 4 3 3 4 3 2 1 5 4 4 4 1 1 2 2 4 2 3 1 4 2-1 0 2-2-1-1-3-5-2-3-2-4-2-6-2-2-2-4-2-2 1-3 6 1 4-3 6-2 3-3-1-2-2-4-2-3-2-3 0-5-2-4 0-4 2-4 1-4 2-2 1-4 1-3 3-2-1-4-1-5 1-4 0-4-3-4-5-1-4-2-5 0-4 1-3-2-1-2 2-4 0-1 1-4 2-5 3-5 3-5 0-3 4-4-2-3 1-1-3-2-2 1-5-1-4 2-5 0-4 2-4 0-3 2-3 4-3 5-3 3-1 3-5 3-2 1 0 3-3 1-2 0-3-4-3-3-4-5-2-4-2-5 0-1-2-4-2 1-1 1 4 2 2 4 2 5 3 3 2 4 1 2 4 0 5-2 4-2 4-1 2-3 1-2 3-2 1-1 4-3 3-2 4 0 3-4 6-2 4 0 3-1 4-2 4-1 3 1 2 0 4 0 3 3 1 2 0 5 0 4 1 4"/>
</g>
<text x="277.95" y="290.60" font-size="8.8" font-weight="normal" text-anchor="middle" fill="#222" stroke="#222" stroke-width="0.22" >RS 7d</text>
<rect x="230.90" y="299.60" width="93.30" height="87.80" fill="#66b68e"/>
<rect x="252.5" y="321.3" width="48.50" height="46.90" fill="#648250"/>
<rect x="234.25" y="302.95" width="86.60" height="81.10" fill="none" stroke="#f01ef0" stroke-width="4.50"/>
<g transform="scale(.5)" stroke="#f01ef0" stroke-width="1.90" fill="none" stroke-linejoin="round">
<path d="M635 618l-3-1-5-1-3-2-3-3-2-4-4-3-3 2-4 4-4 3-3 1-4-2-3-2-1-4-3-2-3 2-3 1-3 4-3 1-4 0-4 1-4 1-5 1-4 0-2 0-5-3-2-2-2-3-3-2-4-2-4 3-4 1-4 3-2 3-2 1-5 0-1-3-4-2-7-2-2 1-3-1-3 0-5-1-4 0-4 1-3-1-3 1-3 1-1 3 0 4 0 3 1 3 2 4 0 4-1 4 0 5-1 3 0 4 0 5-1 3-3 5 1 4 1 4 1 4-2 3-2 3-2 3 0 3 2 4 1 4 2 6 0 4-3 5 1 5-1 3-1 3 1 5 2 3 1 2 0 5-1 4-2 5-2 2-1 4 1 5 1 2 2 4 0 6-2 2-1 3 4 0 3-1 2-1 5-1 4-2 3-1 5 0 5 1 2-1 4 1 3 1 4 0 4 0 4-1 4 1"/>
<path d="M642 723l-4 3-4 4 0 6 1 1 1 4 2 3 3 3 2 2-1 3-2 4-5 3-1 5 0 4-2 2-3-1-5-1-3 0-5-3-4-2-3-3-4 0-4 0-3 0-3 1-4 0-5 1-4-1-3 0-4 0-2 2-4-1-3-2-2 1-2-1-5 0-5 1-3 1-3-1-4 1-2-1-4 1-4 2-3 2-3-1-3 0-4-1-6 0-3 1-5-1-3 4-6 1-4 0-4-4-2-3-5 0-4 1-4 2-3 2-1-1 3-5 1-4 0-5-1-6 0-3 0-5-2-3 0-3-1-3 0-3 4-4 4-3 1-3-3-4-5-3 1-5 3-4-1-3-1-4-1-4 1-4 3-4 0-3-1-3-2-2-1-3 1-3 2-4 2-6-1-3-1-4-1-3-1-4 0-4-2-5-1-5 0-4 2-5"/>
<path d="M477 766l4 1 4-2 6 0 3 0 4 1 2 2 3 0 4-1 5-1 4 1 5 1 3-2 3-2 6-1 3-2 4 1 3 3 3 3 4 1 3 2 4 0 3 0 4-1 4-1 3-3 3-1 3-1 4 0 2 1 4 1 3 0 4 3 3 0 2 0 6 0 4 0 3 1 6-1 3 1 3-2 4-1 4-1 3-1 3-2 1 0 2-5 0-4-1-4 2-5 0-2 0-1-1-6-1-5 1-2-2-5-2-5 0-3-1-3-3-2-1-1 3-4 5-3 0-5-3-4-1-4 0-4-1-3"/>
<path d="M555 614l-2-3-2 0-3-4-3-1-4-1-5 0-3 1-6-1-5 1-3 1-3 1-2 5-2 0-2-1-5-1-2-2-4-4-5 0-4-1-4 0-6 0-2 1-1 3 1 6-2 7-4 4-1 2 0 3 1 4 0 5 0 5 3 3 0 4 2 5 1 4-2 1-2 5-2 3-1 4 0 4 2 5"/>
</g>
<g fill="#66b68e"><ellipse cx="291.6" cy="303.3" rx="3.1" ry="0.7"/><ellipse cx="319.8" cy="326.3" rx="0.9" ry="3.4"/><ellipse cx="320.8" cy="326.7" rx="1.0" ry="2.5"/><ellipse cx="247.4" cy="303.7" rx="4.4" ry="1.2"/><ellipse cx="234.9" cy="378.8" rx="0.8" ry="2.3"/><ellipse cx="292.3" cy="304.7" rx="1.8" ry="1.2"/><ellipse cx="257.1" cy="382.3" rx="1.6" ry="1.1"/><ellipse cx="310.0" cy="383.9" rx="2.4" ry="0.9"/><ellipse cx="234.7" cy="340.7" rx="0.8" ry="2.2"/><ellipse cx="235.0" cy="323.5" rx="1.3" ry="2.8"/><ellipse cx="321.0" cy="308.4" rx="1.3" ry="3.4"/><ellipse cx="235.0" cy="378.1" rx="0.8" ry="2.6"/><ellipse cx="234.7" cy="343.8" rx="1.3" ry="2.3"/><ellipse cx="284.5" cy="304.2" rx="2.5" ry="0.8"/><ellipse cx="245.9" cy="304.2" rx="2.9" ry="0.8"/><ellipse cx="320.4" cy="371.3" rx="0.9" ry="2.8"/><ellipse cx="320.1" cy="358.2" rx="1.3" ry="3.8"/><ellipse cx="270.2" cy="304.1" rx="4.5" ry="1.2"/><ellipse cx="235.0" cy="326.4" rx="1.0" ry="2.1"/><ellipse cx="235.5" cy="379.7" rx="0.8" ry="2.3"/><ellipse cx="291.0" cy="383.0" rx="2.9" ry="0.9"/><ellipse cx="319.7" cy="330.5" rx="0.9" ry="2.2"/><ellipse cx="321.0" cy="329.2" rx="1.0" ry="3.1"/><ellipse cx="308.2" cy="303.4" rx="2.6" ry="1.2"/><ellipse cx="235.2" cy="348.6" rx="1.3" ry="4.2"/><ellipse cx="246.3" cy="304.9" rx="3.1" ry="1.2"/><ellipse cx="255.7" cy="302.5" rx="4.4" ry="1.0"/><ellipse cx="235.1" cy="381.9" rx="1.3" ry="1.9"/><ellipse cx="319.8" cy="331.3" rx="1.1" ry="1.6"/><ellipse cx="314.7" cy="382.6" rx="2.3" ry="1.1"/><ellipse cx="234.1" cy="321.5" rx="1.2" ry="3.2"/><ellipse cx="319.9" cy="324.4" rx="0.8" ry="3.0"/><ellipse cx="273.2" cy="384.3" rx="1.8" ry="0.7"/><ellipse cx="257.0" cy="382.9" rx="1.8" ry="1.3"/><ellipse cx="279.8" cy="304.5" rx="3.4" ry="1.3"/><ellipse cx="259.9" cy="302.7" rx="2.0" ry="1.3"/><ellipse cx="235.4" cy="316.0" rx="1.2" ry="4.3"/><ellipse cx="235.1" cy="331.0" rx="0.9" ry="4.0"/><ellipse cx="320.7" cy="347.0" rx="1.4" ry="4.4"/><ellipse cx="319.0" cy="343.3" rx="0.7" ry="4.3"/></g>
<g transform="scale(.5)" stroke="#f01ef0" stroke-width="1.90" fill="none" stroke-linejoin="round">
<path d="M468 681l1-1 5-1 2-3 4-2 2-3 2-4 2-3 1-4 0-4-2-5 0-4-1-4-2-3 0-5-1-5-3-2 0-3 0-4 2-5 3-4 5 0 2-3 1 0 2-1 5-1 4 0 4 0 3 0 4 2 4 0 5 0 4-1 2-1 5 1 5-2 4-1 1 2 5 2 2 2 0 1 3 5 0 5 3 3 2 5 1 3 2 3 1 4 4 2 1 1 4 0 1 0 2-1 2-1 4-1 1-3 2-4 3-3 3-2 5-3 1-2 3-3 1-5 2-3 2 0 6-3 4 0 1-2 5-4 5-1 5 1 4 1 3 1 1 0 3 3-2 1 0 3-1 2-3 5-1 3-2 5-3 3-2 4-1 4-1 5-2 4 2 6 2 2 3 3 1 0 1-4 2-4 2-6 2-3 1-5 1-5 2-6 1-3 0-3 1-3 0-6 0-1-2-3-4 0-4-1-4-2-2-1-3 0-3 1-2-1-7 0-3 0-5 0-3 1-3 0-2 1-3 2-3 0-4 3-4 2-3 3-6 1-2-1-4 0-3 2-5 2-5 0-1-1-6 2-3 4 0 1-5 2-1 6-1 4-1 4 0 1-2-2-3-3-4 0-3-3-2-4-3-3-2-4-4-2-4-4-5-3-4 1-3 1 0 2-1 2-2 5 1 6 0 3 2 6 2 2 2 5 1 3 4 4 2 3 1 3-1 2-3 0-3-1-4-1-3-1-4-4-4-4-5 1-4-2-4 0-2 0-1-1 0 1-1 5-2 3 2 5 1 5 3 3 0 6 1 3 1 3 0 5 2 2 2 3 2 2 0 4-1 3 5 4-1 2-1 2-3 4-3 2-2 4-4 3-3 4-2 2 1 3 5 1 3 4 2 3 0 4-3 5 0 4-2 4-2 5 0 4 0 3 3 1 1 0 3-3 2 1 3-3 4-2 4-4 2-2 5-3 4-2 3-1 3-1 4-2 2-2 2-1 3 2 0 3-1 6-2 6 0 4 2 1 4-1 6-2 3 0 5 2 4 2 4 0 3-1 5-1 4 1 1 1 2 0-1 1-4-3-5-1-4-3-5-3-4 1-4-3-1-2-3-3-4-3-5 2-3 1-5 3-5-1-6 3-5 3-5 2-7 3-4 2-4 3-2 3 2-1 2-2-1 0 4 0 0-2 1 1 4-2 3-1 4 0 2-1 1-2 4 1 5-3 3 0 3-2 4-2 3 0 6 0 3-3 4 0 3 0 5-2 3-1 4-2 6-1 6-3 3-2 3 2 3-2 5-2 4-1 4-2 4-1 5 0 3-1 5-1 4-2 3-2 2-2 2-1 2-1 4 0 3 1 3-3 2-2 2 2 3-2 3 0 6 1-1 4-4 6-5 4-5 3-8 1-6 1-7-3-3-2 0-5-2-1-1-1 0-3-2-1-2-2-3-4-3-1-3-3-1-4-3-2-3-4-4-4-3-2 0-4-4-2-1-4-3-4-1-3-2-1-3-6-3-3-2-6-3-2-2-2-2-4-4-4-3-5-3-4-1-2-3-5-2 0-4-4-1-2-1-4-2-3-1-3 1-1-3-2 1-3-3-2-1-3-1-2 0-2-3-6 1 0 2 0 7 2 6 2 5 3 6 3 4 1 6 1 4 0 2 2 5 2 3 0 2 3 4 1 3 0 2 1 5 0 3 0 2-1 5-2 4-2 3 0 3 0 4-2 3-1 4 1 4-2 4-1 4 0 3 1 5-1 4 1 4 0 1 1 3-1 3 3-1 4 0 3 0 6 1 3-2 4 0 4-3 1-2 4-3 2-3 3-2 2-2 2-3 3-2 3-3 2 0 2 0 6 0 2 3 5-1 5 1 1 3 4 4 1 2 3 5 3 3 0 2 3 1 3-5 2-2 4-2 4 0 3 1 4 2 3 2 4 1 4 1 4 5 4-1 3 1 3 0 3 0 5 2 4 3 5 1 5 0 4 0 1-1 2-5 0-2-2-1 1-4-3-4-3-4-3-2-2-5-1-5-2-2-2-2-4-3-2-3-3-4 1-2-3-3-1-2 1 1 3 1 4 1 5 0 5 1 5-1 2-2 1-4 1-4 1-5 1-3 0-3 0-3 0-4-1-3-2-3-2-2-5-2-3-1 0-3 1-2 1-3 4-3 2-3 2-4-1-2 0-3-1-3-2-2-1-3-3-1-4-3-3-1-7 0-5-1-2 1-2 2-5 1-3 1-5 1-5 1-3 2-5 2-6 2-4 1-4 1-4 2-5 1-4 3-4 1-3 2-2 1-3 1 0-1-3-2 0 1-1 0-1 1-1-3 2-3 3-2 1-3 1-3 5-2 2-2 1-3 5-5 4-2 2-3 6-3 3-2 3-4 3-6 5-2 3-1 6-1 1-3 6-1 3-2 3-3 2-3 4-2 2 0 4 1 2 1 4 0 1 1 3 2 0 2 1 2 1 2 0 2 1 2 0 2-1 2 0 2 1 3 0 5-1 4 1 4 1 2 1 5 0 5-1 4 0 4 1 4 0 5 1 4-2 5 0 5 3 4-2 4-1 5-1 3 1 4-1 5-2 5 1 5 0 3 0 3-1 4 0 4 0 3-2 4-1 2-1 3 1 3 0 3-1 3 2 4-1 2 0 1-1 9-4-5-3-6-7 2-3-1-1 0-4 2-6 2-4 0-2 1-3-1-4-1-4-1-4 1-4-2-4-1-1-1-3-2-2-2-3-1-4-3-4-2-3-3-4-2-3 1-3 1-5 1-2 5-5 5-7 5-3 3-3 3-1 1-3-1 3-3 2-3 2-1 2-3 1-2 3-1 4-4 2-2 2-1 4-3 2-4 2-1 3-4 4-4 4-3 4-4 3-2 5-4 2-4 4-3 4-4 3-2 2-3 4-3 1-3 3-2 2-2 3 0 2-1 2-2 3 1 1-2 1-2 1 2 3 1-1 1-2 2 0 3 0 3 0 2 0 4-2 4-1 4-1 6-2 5-1 5-2 4-3 5-2 2 0 5-2 4-1 4-3 4 0 4-2 3 0 2 0 1-2 3 2 0 2 0 4-6 3-5 5-2 4-3 6-3 5-3 4 1 6 1-1 1 0 3-4 2-4 4-3 1-6 0-2-2-1-1-1-5-4-1-4-2-5-2-2-1-3 0-4 1-4-1-2 0-4 1-4 1-3 1-5 0-5 3-6-2-3 0-4 1-5 0-5-1-3 0-3-2-3-1-3 0-1-1-2-4-4-1-1-2-1-2 0-2 2-4-1-4 1-3 2-3 1-3 1-4 2-5 0-4 0-5 2-5 2-6 1-1 2-4 2-3 1-3 0-4 2-3 3-3 0-4 2-2 2-2 1-3 1-3 1-7 5-1 4 4 3 3 5-1 4 1 2-2 2-3 3-3 0-3 2-3 3-3 3-3 2-4 2-4 3-3 4-3 2-4 3-2 2-3 2-3 0-1 2-2 1-9 1-4-3-2-3 1-4-1-1 2-2 5-2 4-2 3-2 4-3 4-4 2-2 1-1 6-5-3-5-2-3-2-1-6-2-4-1-4-4-2-4-1-1 3-3 3-2 2 0 4-1 5-2 4-2 2-2 0-1-2-5-3-3 1-4-2-3-1-5-1-3-3-3 0-6-1-5-2-6 2-2 1-3 1 2 2 2 3 1 4 3 4 4 1 4 3 4 4 2 4 3 3 2 3 3 2 3 3 3 4 1 3 2 3-2 1-6 2-5 1-1 4-2 5-5 3-1 2-2 3-1 5-4 3-1 2-1 3 2 4 2 2 1 1 1 4 2 3 1 4 0 4-2 3-1 5-2 6-1 4-1 3 1 2 0 1 2-1 3-1 5-1 4-2 4-2 4-1 5-1 2 1 1 3 5 4 2 4-1 4 0-2 3-2 3-3 4-3 4 1 4 1 2 5 2 3 2 1 1 2 4 3 2 4 2 1 3 3 4 1 5 0 4 0 4-1 3-2 0-6 1-3 0-4-1-5 1-4 0-1 3-1-1 1 4 4 2 0 4 5 2 3 4 2 3 3 3 3 2 2 4 3 3 4 6 2 4 0 3 0 2-2 2-1-2-2-1-3-2-4-2-2-1-4-4-4-2-4-4-2-3-4-2-3-1 0-2-8 2-4-2-1 1-3 1-4 1-5 2-2 3-5 0-3 3-3 3-6 1-5 3-2 1-5 2-4 3-4 1-4 3-3 0-3 2-3 0 0-1-5 0-2-1-2-2-1-2 0-3-1-3 3-1 2-2-2-2-1-3 0-2 1-2 3-3-1-2 2-4-1-2 3-5 2-5 2-3 0-5 0-4 3-3 1-5 3-3 1-6 3-3 2-4 1-4 1-4 2-5 2-4 1-4 0-2 3-5 3-4 1-4 2-3 2-3 1-3 1-5 1-1 0-4 1-4 3 0 2-3 3-2 1-3 2-1 1-2 4-6 3-1 3 2 2 3 3 4 3 4 4 2 2-1 4-2 3-4 3-3 2-3 3-1 3 2 4 1 4 0 5 1 6 0 2 2 4 1-1 2-1 5-3 5 0 3-3 2 0 5 3 4 1 4-1 4 1 3-2 3 0 4-1 3-1 4-2 5-3 4-3 2-2 4-3 4-1 4-2 2 1 2"/>
</g>
<text x="277.95" y="398.40" font-size="8.8" font-weight="normal" text-anchor="middle" fill="#222" stroke="#222" stroke-width="0.22" >MS+ RS 7d</text>
<rect x="327.70" y="191.80" width="93.30" height="87.80" fill="#3ea58c"/>
<rect x="346.0" y="213.9" width="50.70" height="46.60" fill="#a4b846"/>
<rect x="331.05" y="195.15" width="86.60" height="81.10" fill="none" stroke="#f01ef0" stroke-width="4.50"/>
<g transform="scale(.5)" stroke="#f01ef0" stroke-width="1.90" fill="none" stroke-linejoin="round">
<path d="M823 392l2-1 4-1 5-1 3 0 2 2-3 3 0 2 0 5-3 4 0 4-1 2 2 5 0 3 1 3 1 4 0 3-1 5-3 3-1 5 0 5-2 3-1 3-1 5 0 4 1 2 0 3 3 2 1 6 1 3 2 2 1 3 1 6-3 5-2 5-4 2-3 4-2 4 1 4 2 3 3 3 0 3 1 4 3 4-1 4 0 3 2 2 0 4-1 2-4 4-4 2-4 1-5 0-4-1"/>
<path d="M660 509l2-1 3-2 2-5 3-5-1-5 0-3-1-3-2-6-1-4 0-4 0-3 0-3-1-3 0-5-2-4 0-3 1-3-1-3-2-3 1-4 3-4 5-2 3-3 1-4-2-5-2-5-2-3-2-3-3-3-1-2 0-5 0-5 0-1 3-3 3-2 5-1 5 2 2 1 4 1 3 2 6 1 3 1 1 1 3 0 4-2 3-2 4 0 5-1 3 2 4 2 6 0 3 0 3-2 4 0 2 1 4-1 2 3 3 2 3 1 3-1 4 0 4-2 3-2 4-1 6-1 3 2 2 2 3 3 2 2 5-2 2-1 5-2 2-3 4-2 4 0 2-3 6 0 4 1 3 1 3 1 4 1 4 4 2 4-1 3-1 5-1 4 0 4 2 2 0 7-1 4-1 6-1 3-2 5-1 2 0 2-2 5 0 3 1 4 6 4 2 3 1 4 0 2-4 3-4 3-1 7 1 3 2 2 2 4 1 3 3 2 0 2 1 7-1 3 0 4-3 5 0 3 0 6 0 4 0 4-3 2-3 2-3 3-4 2-3 4-3 1"/>
<path d="M660 444l2 1 1 4 5 3 0 2-3 5-3 2-1 4 0 2 1 3 0 3 1 5 1 5-2 4 1 3 1 5-1 3 1 4 3 3 1 2 1 3 2 4 0 4-1 4-1 2-1 5-2 1-1 4-2 3-1 6-1 3 1 5 1 2 0 1 3-1 4 0 4-1 4-1 5-1 4-2 1-1 5 0 2-2 3 0 4 3 2 2 1 2 5 2 3-1 3 0 6-1 5 0 5 0 2 0 4-1 5 1 5 2 4-1"/>
<path d="M670 440l1-4 0-2-1-7-4-2-1-3 2-4-2-5-1-2-3-3-1-2 1-7 3-3 4-1 3 1 5 1 4-1 3 0 4-2 3-1 3-1 2 0 3-1 5 1 2 0 4 1 5 2 2 1 3-1 4 0 6-2 3-2 4 1 5-1 5 0 3 3 4 1 4 2 1 1 4-1 3-2 4 0 4-2 2-1 2 2 5 1 3 4 5-1 5-1 2-2 8-2 2-1 5 1 4 1 3 0 6 2 4 3-1 5 0 1-1 5 0 5 1 3 2 4 1 5 0 4 1 5 0 2 2 5 0 5 0 3 1 4 1 3-1 6-3 2-2 4 2 3 2 2 0 3-1 4 2 4 1 5 0 5 1 4-1 5 1 2 1 4 0 3-1 4-2 5 0 3"/>
<path d="M670 504l-2-3-6-2-4-3 1-3 0-3 0-4 2-7 1-3 1-2 1-3-1-5 0-3-1-5-1-6 0-2-1-4 4-2 5 1 2-2-1-3-1-3-3-3-1-6-1-6-1-4-2-3 0-3-1-4 1-2 1-3 0-5 1-4 2-2 6 0 3 2 2 2 4 3 3 2 4-1 2-3 3 0 4-2 4-1 3 0 4-2 5 2 3 4 5 3 2-2 4-2 4-4 3-2 3 0 6 0 4 2 5 0 3 1 4 0 5 1 4-1 4-1 4 2 4 3 4 0 2 2 4 0 2 2 4-2 3-1 2-2 5-3 5 1 3-2 5-1 3-2 7-1 4 0 0 4 1 2-2 4 1 2-4 5 0 3 0 5-1 4 0 3-1 5-1 3 4 1 6 2 0 3-1 3 0 4 2 5"/>
</g>
<g fill="#3ea58c"><ellipse cx="389.0" cy="276.6" rx="3.6" ry="1.1"/><ellipse cx="416.5" cy="219.9" rx="1.3" ry="3.6"/><ellipse cx="331.7" cy="217.2" rx="0.7" ry="3.1"/><ellipse cx="332.6" cy="225.9" rx="0.9" ry="2.5"/><ellipse cx="382.4" cy="274.3" rx="4.3" ry="1.0"/><ellipse cx="331.5" cy="219.4" rx="1.2" ry="2.0"/><ellipse cx="416.0" cy="263.5" rx="1.2" ry="3.9"/><ellipse cx="369.4" cy="276.3" rx="2.9" ry="1.2"/><ellipse cx="415.8" cy="201.9" rx="0.9" ry="1.6"/><ellipse cx="363.4" cy="274.4" rx="1.7" ry="1.1"/><ellipse cx="332.3" cy="225.7" rx="0.8" ry="3.7"/><ellipse cx="379.0" cy="195.8" rx="2.8" ry="1.1"/><ellipse cx="332.4" cy="211.4" rx="1.3" ry="2.5"/><ellipse cx="415.8" cy="261.7" rx="1.3" ry="2.9"/><ellipse cx="417.6" cy="269.0" rx="1.0" ry="4.5"/><ellipse cx="330.6" cy="207.1" rx="1.1" ry="2.0"/><ellipse cx="417.4" cy="243.4" rx="0.9" ry="3.0"/><ellipse cx="390.2" cy="274.5" rx="4.0" ry="1.3"/><ellipse cx="361.6" cy="197.1" rx="2.0" ry="0.8"/><ellipse cx="393.3" cy="276.3" rx="2.0" ry="0.7"/><ellipse cx="340.9" cy="276.5" rx="1.9" ry="1.4"/><ellipse cx="347.8" cy="195.3" rx="4.2" ry="0.7"/><ellipse cx="359.2" cy="276.1" rx="2.9" ry="1.2"/><ellipse cx="374.4" cy="197.1" rx="3.3" ry="1.4"/><ellipse cx="338.0" cy="276.8" rx="4.5" ry="1.2"/><ellipse cx="402.1" cy="195.5" rx="3.6" ry="1.2"/><ellipse cx="393.6" cy="196.5" rx="3.9" ry="1.0"/><ellipse cx="373.0" cy="195.8" rx="2.9" ry="1.3"/><ellipse cx="330.6" cy="222.0" rx="1.2" ry="2.1"/><ellipse cx="417.5" cy="227.6" rx="0.9" ry="4.1"/><ellipse cx="355.6" cy="197.1" rx="2.1" ry="1.0"/><ellipse cx="341.9" cy="276.3" rx="2.8" ry="1.2"/><ellipse cx="332.7" cy="206.2" rx="1.2" ry="3.5"/><ellipse cx="393.2" cy="196.8" rx="2.7" ry="0.8"/><ellipse cx="415.7" cy="240.8" rx="0.8" ry="3.7"/><ellipse cx="355.2" cy="196.5" rx="2.3" ry="0.9"/><ellipse cx="368.2" cy="197.1" rx="4.1" ry="1.1"/><ellipse cx="331.0" cy="272.5" rx="1.0" ry="2.7"/><ellipse cx="331.2" cy="251.3" rx="1.4" ry="3.7"/><ellipse cx="348.8" cy="275.6" rx="3.7" ry="0.8"/></g>
<g transform="scale(.5)" stroke="#f01ef0" stroke-width="1.90" fill="none" stroke-linejoin="round">
<path d="M828 539l-3 0-4 3-1 2-3 2-1 0-5 0-4-4-5-8-2-1-1 0-2-3-2-3 1-3 0-3-1-5-2-2-1-3 1-2-1-3-2-3-3-6 0-5 0-4-3-3 1-3-1-4-2-6 1-4-2-3-3-1-2-4-1-3-1-2-3-5-1-4-2-3-2-3-3-4 0-4-2-2-3-3-3 1-2-3-2-1-4 0-5-4-3-2-4-2-5 2-2-3-5 0-4-2-4-3-2-1-3-1-5 1-4-1-4 0-4 0-4-1-2 0-2-1-5-2-3 0-2 0-1-1-5-2-1 3 3 6 2 6 1 5 2 3 2 2 0 6 2 3 1 2 0 4 1 2 1 4-3 5-4 2-1 2 1 2 4 2 2 2 4 2 5 3 3 1 3 5 1 3-1 3-1 3-3 2-4 1-1 3-2 4-4 3-3 4-4 3-2 0-1 3-2 3-3 5-1 4 0 3-2 5-2 4 1 2 0 3-1 3-1 0 4-3 3-1 6-3 4-3 4-1 4-2 2 0-1 2 0 4-1 4-2 3-1 6 0 3 2 1 2 1 2 0 4-1 4-2 3 0 3-1 4-1 5-1 4-1 4 0 4-2 3-1 5-1 4 0 5-2 2-3 3-3 5 0 4-3 1-1 1 3 3-1 3-4-1-4 0-3-3-2-4-4-7-5-1-2-1-2-1-1-2-3-4-2-1-2 1-3-5-1-2-3-2-4-4-2-3-2-3-2-5-3-4-4-2-2-3-4-3-3-2-3-2-1-1-3-3-4-5-2-5-4-2-1-4-2-1-1-3-4 0-1-2-1-3-3 0-2-4-5-2-6 0-3 1-4 1 0 1-5 2-2 0-5 2-4 1-6 4-2 5 0 1 2 4 0 1 1 4 1 5 2 5 1 5 1 4 4 4 3 2 2 2 2 1 1 3 3 0 2-1 4-3 0-3 4-4 2-1 4-3 4-4 2-4 4-1 4-7 3-2 1-3 4-2 4-4 4-2 3-3 1-1 4 0 3 0 2 0 2 2 1 2 1 3 0 1 1 3-1 1 0 3 0 2-1 2 1 4-2 5 1 3 2 4 0 4 0 5-1 6 1 3-2 4 0 4 0 5-1 5-1 3 0 4-2 5 0 5 1 6-1 4-1 4 2 4-3 5-1 4 1 2 0 6-2 4 0 4-2 1-2 3 2 3 1 2-1 3-2 3-1 2 1 2 0 0 1 4-3 1-3-4 1-6 0-7 0-7 1-6-2-1-2 2-2 1-3 3-4 4-4 5-4 3-2 3-4 3-1 1-1-1 2-1 2-1 0-1 2-1 1 0 3-1 4-2 3-2 4-1 0-3 3-2 4-4 5-3 2-2 5-1 3-3 2-2 4-4 4-1 6-3 2-3 4-4 1-3 3-2 4-3 2-1 2-1 1-4 3-4 2-3 1-4 4-4 1-3 4-4 1-4 3-4-1-5 0-4 0-4 0-5 0-4-2-1 0-3-2-2 0-3-2 0-2-2-2-1-4-1-1-1-3-2-4-1-4-1-1-1-2-1-5-2-4 0-5 0-3-1-5-1-4 0-4-1-4-1-5 0-5-2-5 0-4 0-2-2-5 0-5 0-3 0-5 1-3-1-2 0-4-1-3-1-3 0-4-1-2 0-1-1-4-2 1 2 8 1 8 0 6-1 4-3 0-4 0-6-1-1 1 1 1 0 5 2 4 0 4-1 3-1 4 0 4-2 3 2 3 3 5 2 3 2 3 3 2 1 2 4 5 2 0 3 4 1 4 2 1-2 4 0 4-4 3-4 3-2 4-1 2 4 1 6-1 5 2 5 1 4 0 2 2 0 2-1 1-1 4-2 4-2 4-2 4-1 5 0 4-3 4-5 3-1 4-2 2-1 2 0 1 1 1-1 1 2-1 2 0 4-3 3-3 4-3 2-4 2-3 2-4 4-1 4-3 5-3 2 0 3-1 5 1 3 3 4 2 2 1 5-2 5 0 5-2 1 3 0 6 2 5 2 5 3-4 1-2 1-2 3-2 0-4 1-3 0-2 4-5 2-2 1-6 2-4 2-3 3-4 0-4 4-5 1-5 2-2 2-4 0-2 3-3 0-3 1 0 1-3-1 0 2 0 0 1-1 5-4 4-2 4 0 7-2 4-2 5-3 4 0 5-1 3-2 0-1-2 0-1 1-2-1-3 1-3-1-2 1-4 0-3-1-4-1-2 2-4 0-5 1-3 2-4-1-5 0-4-1-4 0-5-1-4 1-5 2-6 0-2-1-5 1-4 1-4 0-4-2-2 2-4-2 0 0-4 0-2-2-4-2-1-3 3-4 3-5 6-3 3-4 2-1 3-5 0-5 2-2-1-4 0-2 2-2 1-4 0-4-3-5-2-2-2-3-1-2-3-3-3-2-5-3-2-3-4-1-3-2-4-2-1-1-1-4 0-3 4 0 4-1 3-4 4-4 0-1 5 1 3 3 2 0 3 1 4 1 3 3 2 2 4 1 3 3 3 2 3 2 2 3 6-1 5 0 6-3 2-3 1-3 1-6-2-3 1-6-1-4 2-4 0-2 2-1 5-1 3 1 3 1 4 0 3 1 5-1 3 0 2-1 4-1 4-1 3-1 4-1 2 0 3 0 3 0 2 1 6 2 4 1 3 4 3 1 1 4 4 1 1 2 6 1 5 4 0 3 1 4 0 2-2 3-1 4-4 2-1 6-3 2-2 1-3 2-4 1-2 3-5 3-3 1-2 4-1 1-1 2 0 3-2 3 1 2 2 0 3 1 6 3 3 1 4 2 2 4 2 6 2 5 1 3 1 1-1-1-2-4 0-4-2-3-2-6-1-3-2-5 1-6 0-7 2-7 2-3 6-4 1-1-2 3-6 0-2 2-3 1-2-1-2 2-2 1-2 4-6 1-3 2-3 2-5 2-3 1-3 3-3 3-4 2-4 2-4 2-5 3-3 3-4 4-4 1-4 3-4 3-3 1-5 3-3 3-3 3-4 3-3 2-3 0-2 2-4 2-3 3 0 2-2 0-2 2-1 2-2 0-2 1-1 2 0-1-1 1 1-2 1 0 3 0 1-1 3-2 3-1 4-3 5 1 2-1 2-2 4 0 4-1 4-3 6-3 6-1 3-2 6-1 3-2 6-3 4-3 4-1 6-2 4-2 3-2 4 1 3 0 3-3 3-1 3-1 1-1 2 1 1-1 3 1 1 2 0 2-2 3-3 0-3 2-4 5-6 4-4 2-4 3-5 3-4 2-2 2-2 4-1 3-2 0 1 3 1 2 4 1 2 0 3 2 3 0 5 1 6 2 4 1 5 0 3 1 4 0 5 3 4 2 1-1 1 3 3 6 1 3 2 4-1 6-1 3-2 1-3 0-3-1-4 1-2-4-2-1-3-3-5-5-1-2-3-3-5-2-4-2-1 1-3 2-1 3 1 3 3 5 2 4 1 4-2-2-3-2-3-4-5-3-4-1-2-1-5 2-5 0-3 4-4 2-2 3-5 3-2 3-2 3-3 1-3 0-3-4-2-5-3-2-3-6-1-6-2-4-1 1-3 2-3 1-4 4-3 6-3 3-5 5-3 4-4 3-4 2-1 0-1-5 1-2 0 1 1-2 0-3 1-3 0-2 2-1 0-3 2-5 3-3 1-2 1-5 3-2 2-3 1-3 1-4 5-5 2-5 3-5 3-6 2-3 1-5 1-5 2-2 2-3 2-4 3-4 2-4 2-3 2-5 2-2 2-4 2-3 2-3 0-2 1-2 1-3 0-2 2-2 0-1 1-2 0 0 1-2-2-1 1 0-2 0-1 4-2 1-2 4-2 3-5 4-5 5-3 3-4 4-4 4-4 4-4 3-4 2-3 4-3 5-3 1 0-1-4 2-3-1-1 1 0-1-2-1 1-4-1-4 0-4 1-5 1-5 0-4 1-2 4-5 1-4 0-3 0-5 2-5 0-6 1-3 1-5 3-1-1-2-2-2 0-4-1-3-3-1-5 2-4 1-4 2-3 1-2 1-5-1-5 3-3 4-2 3 1 1 1 4 3 4 3 5 2 3 1 3 1 4 1 3-2 1-5 5-2 2 0 2 5 3 2 3 1 4 4 1 3 3 3 4 2 4 2 3 2 2 2 3 1 4-3 6 0 2 2-3 8 1 2-1 2 0 3-1 2-2 1-1 2-2 2 0 5-1 4-5 6-2 0-3 4-2 4-4 5-2 4-2 6-1 2-3 4-1 4-4 4-2 4-4 4 0 3-3 5-3 3-2 2-5 2-2 3-1 4 0 1-1 4 0 3-3 0-2 1-1 4 0 1-1-1-1 1 0-2-1-1 1-1-1 1 1-5 0-2 2-5 1-3 1-2 3-3 2-4 0-4 2-6 2-4 0-5 1-4 2-3 0-6 2-6 1-5 2-3 2-5 1-2 2-6 2-4 1-4 0-5 1-3 0-3 0-3 1-3 0-3 0-4-1-1-1-1-1-5-2-2-3-2-3 0-5-2-2-1-5 1-3-1-6 0-6 0-4 2-4 0-5 0-2 2-5 2-2-1-3 0-3 0-5 3 0 2 0 2 0 5 3 4 0 4 0 5 0 5 5 4 2 2 4 2 2 2-1 7-3 3-2 3-1 5-2 3 1 2 2 3 2 3 0 3 2 3 4 2 3 2 1 5 1 4 0 3-2 4 1 4 0 1-3-1-4-2-2-3 1-3 0-3-1-6-1-3-1-5-1-5 0-4 1-4 3-2 4-1 4 0 5-1 3-1 4-2 2-1 2-2 0-1 1-2-1-3-2-4-3-3-3-3-3-3-4-5-1-4-2-6 1-3-3-3 1-7 0-5 1-3 2-4 3-2 3 1 0 1 4 0 4 5 4 2 4 1 4 3 3 1 3 3 2 1 4-1 0-2 1-3-1-5-1-6-2-5-2-5 1 1 2 2 2 2 3 2 2 2 3 3 2 4 2 5 5 4 2 3 3 1 3 1 2 1 2-2 5-4 0-5-1-5 0-6 2-4 2-4 1-4 3-1 5 0 3 0 5 0 4 0 1 0 4 0 2 1 3 3 1 3-1 0 0 5 1 2 1 3 2 4 0 2-2 6 3 4-3 5 0 3 2 4 1 4 0 4 1 6 0 3 0 4 0 7 3 4-1 5 1 4-1 6 0 4-2 4 2 3 0 3 1 5-2 3 0 3-1 3-1 3-1 3 0 2 1 1 0 2-1 2-1 0-1-1-2 1-1-1-2-2-3 0-1-4-2-2-2-2-2-4-2-4-3-3-2-4-1-3-2-5-3-4-3-5-3-3-2-5-3-2-3-8-3-4-1-2-3-5-2-3-1-2-2-5-4-2-3-2-3-1-2-4-3 0-2-1 0-1 0 1-3 0-4 0 1 2-1 3-2 1-1 1-3 3-1 5-2 2-1 2-3 4 0 3-1 4-1 6-1 4-1 5-1 3-3 5 0 3-2 4-1 4-2 5-2 5-1 3-1 5-1 5-1 4 0 5-1 4-1 4-1 3-1 4-1 1 1 3-3 5 1 3 0 2 0 1 0 1 1 3 2 0 3 0 2 0 4 0 5-3 3-2 5-5 3-3 4-3 3-4 3-2 4-1 2-3 5-4 2-3 1 0 1 2 1 2 2 2 0 3 0 4-1 4 0 5 1 0 3 3 4 1 3 0 2 1 3-1 4-2 6 2 5 0 2-2 4-1 4-2 2-2 3-1 3-2 4-2 2-1 4 1 5 3 3 0 5 3 3 3 2 1 3-4 0-3 5-4 3-1 7 0 5 2 3 1 3-4-2-3 0-5 1-2-1-5 1-4-1-5-1-3 1-2 2-3 5-1 1-4-7-7-3-2-2 1-1-3-3-1-4-3-2-2-4-3-2-3-4 0-4-2-4-3-2-2-5-2-4-4-4-3-3-1-5-2-2-3-5 0-3-4-6-3-4-2-2-2-4-3-4-2-4-2-3-1-1-3-3-3-2-2-3-2-4-2-2 0-2-2-1 1-1-1 0-2 1 0-1 0 1-1 1 1 3 0 2-1 2 1 3 1 2 0 5 1 4 1 2 3 6 1 2 2 4 0 6 2 5 1 4 3 7-1 3 3 4 2 4 2 5 1 4 1 4 0 4 2 5 1 4-1 1 2 3 3 2 1 2 2 2 3 1 1 2 2 0 1-4 2-5 0-5 1-7 3-5 4-1 1 2 2 2 3 3 3 3 2 4 3 2 3 2 4 2 3 1 5 3 4 3 3 1 2 2 4 0 3 0 3-1 0-4 2-3 2-4 0-5 1-4 1-3 1-2 2-3 2-3 3-4 0-6 0-2 1-3-1-5-2-5-1-3 3-2 2-2 4-2 2-1 2-3 1-3 6-3 3-3 3-3 2-3 1-4 1-2 0-3 0-3-5-4-3-5 1-3-2-2-1-4 0-4-1-4 1-5 0-2 0-3 0-5 0-3-4-1-3-4-1-5-2-5 0-6 2-5-1-2 0-1 1 1 2 3 3 3 1 3 1 6 0 3 2 2 6 5 0 1-1 1-2 3-1 2-2 3-4 5-3 2-3 2-4 2-3 4-3 5-6 2-2 3-2 3-2 2 1 1-2 3 1 1 3 1 3 0 4-1 7 0 3-2 5-1 4 0 2-3 2-4 4-4 2-4 2-4 0-3 0-4-1-2-2-1-3-1-5-2-5 0-5-2-2-2-3-4-4-4-1 5-6 1 0 3-3 5-2 1 0 1-2 5-4 3-2 4-4 3-1 4-3 3-4 4 0 5-4 5-1 4-4 3-2 4-1 3 0 5-4 4-3 2 0 3-3 3-1 2-1-1-2 0 1 0-1 1 0 0 1-4 2-1 1-3 1-2 1-3 4-3 1-4 3-3 4-5 2-3 2-3 4-7 2-4 2-5 4-3 5-4 2-6 4-4 3-2 3-3 3-5 0-4 2-1 0-4 2-2 2-3 1 1 0 0 1-2-1 1-2 1-1 1-2 0-2 2-1 1-3 2-2 2-3 1-3 5-4 3 0 2-2 1-4 4-4 2-3 4-4 3-5 2-2 3-4 4-4 2-4 4-4 5-2 5-5 1-1 4-5 3-3 4-4 2-2 2-5 3-4 3-4 2-1 3-5 3-2 2-2 1-2 2-1 1 0 2-1 0-1 0-1 1 1 1 1-1 1 1 0 0 2-2 3 0 3-2 0-2 2-2 1-1 4-3 3-3 2-2 2-2 4-2 2-3 2-2 5-2 4-4 3-3 4-3 3-1 5-2 3-4 4-4 5 1 2-3 5-2 3-3 4-3 3-3 4-4 5-3 4-2 4-1 2-2 4-2 1-3 3-4 4-3 2 0 5-3 1-2 3-2 2 2 2-3 2 0 1 0 3-1 3 1 0 6 0 8-3 7-3 3-1 6-1 4-2 4 1 3-1 2 0 4 2 2 4 3 3 2-2 2-2 2-1 3-3 3-3 1-5 5-2 4-2 1-2 3-1 2 1 4 1 4 2 3 4 5 2 3 2 4 0 3 2 1 2 4 1 2-1 0-5-1-5 2-5 3-2 2-4 2-3 2-2 1-3 3-4 5-2 2-1 6-3 5-1 4 0 2-1 1-3 0-2-2-1-1-3-3-2-2-6-2-4-1-3-1-2-2-2-6-6-5-3-2-4 2 0 4-2 1-1 5-2 5-3 3-4 1-2 2 0-2-7 0-4-2-3-3-3-5-2-4 1-3 0-6 1-4-1-3-4 1-1 2-3 2-3 0-3 2-4 2-3 3-4 4-3 2-4 2-4 3-3 0-3 0-3 0-1 0-1-2-1-4 1-4 1-5 1-4 0-3 3-4 0-3-1-4 3-3 1-4 1-4 0-4 0-3 1-5-1-5 0-2-1-4-1-3-1-3 0-3-2-4 0-2-1-5 1-3 3-2 6-1 1 0 4-1 6 0 5 1 4 1 4 0 1-1 2-4 0-4 0-7-4-4-4-2-3 2-3 3-2 4 1 1-1 3 1 5-2 5-1 3 2 4-2 4 0 5-2 5 1 4-2 5 1 3 0 4 0 0-1 2 0-4-1 1 1-1 0 2 5 1 1 3 1 2 3 3 3 2 3 2 4 1 3 2 4 4 3 2 4 1 4 1 1 3 5 3 3 1 3 1 5 2 3 2 5 3 3 0 4 2 2 2 3 0 2-2 4 0 4 1 5 0 3 1 2-3 4-4 5-1 4-3 3 0 4-3 2-2 2-2 2 0 4-4 1-2 4-5 4-3-2-1 1 1 2-1 3-2 5 0 4-4 2-4 1-3 0-2 0-3 0-4 0-3 0-3 0-6 0-3 0-3-2-3-1-1-3-2-2-2-3-1-3-4-2-3-3-2-3-2-3 0-3-2-4-3-4-3-3-2-4-3-4-2-3-2-4-3-3-1-3-2-4-1-5-1-3-2-4-1-3-1-1-2-3 1-3 0-4 1-2 0-2 2-2 0-4 1-4 2-3 1-2 4-4 3-3 4-2 3-3 4-2 3-1 3-4 4-4 3-1 5-3 4-4 1-1 5-3 5-4 3-3 5 2 3-3 2-3 4 0 3-1 1 0 1 0 2-1 3-1 0 2 3 1 1 1 1 2-1 1-2 1 1 3 0 2 0 4 0 3-1 4-3 2-1 3 0 4-1 5-1 4-3 4-2 3-1 6-3 2 0 5-2 5-4 4 0 8-3 2-3 2-2 6 1 4-2 4-1 4-1 2-4 4-1 3-2 4-1 2-1 3-3 5-2 2-1 1 0 1-1 3-2 1-2 1-2 0 0-2-3 0-1 0-2 0-3-4-4-2-2-4-2-3 0-6-2-2-4-4-2-3-1-6-2-4-3-5 1-4-1-5-3-4-1-5-1-2-2-3-2-3-1-3-2-2-2-1-4-1-4 1-3 2-2 5-1 3-1 5-1 6-1 3 0 3 2 3 5 3 4 2 5 0 3 2 2 5 0 4-3 1-2-3-5-1-4-1-5-1-4-4 0-2 3-1 2-2 6-2 6-1 6-2 3-1 1-4 0-1-1-2-1-2-2-2-2-2-3-2-4-3-3-3-3-1-3-2-2-3 0-3-1-7 1-4 1-4 2-3 1-2 1-2 1 1 2 3 1 4 2 3-1 6 0 3 0 4 1 2-2 3 1 4-2 4 1 4-1 4 0 3-1 3-1 4-1 3-1 4 1 4 0 4-1 4-2 2-1 2-2 5-1 3-1 4 0 2 0 5 1 5-1 3 2 4 1 4 3 2 3 2 5 1 4 1 3 1 2-2 4 2 4-1 6 2 4 1 2 0 4 0 4 2 4 2 5 1 4-2 4-1 1-2 3-2 2-1 2-3 1-3 1-4 3-4 3-5 2-5 1-4 0-4 1-2 1-1 3-1 1-1 1 1 5-1 0 1 2 2 4 4 3 3 3 4 4 3 3 4 1 4 4 2 2 3 2 2 4 3 3 1 5 3 3 1 3 0 3-2 3-1 4-2 4-2 2-3 0-4 1-4 0-2 0-3-2-4-2-3-3-3-2-5-5-1-4-2-1-4-3-5-2-3 2-4-1-2-2-5 1-1 2-4 3-4 2-6 3-1 2 2 2 2 4 3 1 3 2 5 2 4 1 4 3 4 0 5 1 3 0 2-2 2-4-1-4-2-3-3-6 0-6-2-3-1-2 0-1 3-1 2 1 3 1 3 2 1 3 1 5 4 2 2 4 4 3 4 3 3 3 3 3 3 3 2 2 3 3 4 4 2-1 1 2 1 2 1-1 2-2 2-3 0-5 0-3 0-6-2-4 0-5 0-3-2-3-1"/>
</g>
<text x="374.75" y="290.60" font-size="8.8" font-weight="normal" text-anchor="middle" fill="#222" stroke="#222" stroke-width="0.22" >RS 14d</text>
<rect x="327.70" y="299.60" width="93.30" height="87.80" fill="#3c474c"/>
<rect x="351.0" y="321.3" width="49.20" height="47.40" fill="#5abdaa"/>
<rect x="331.05" y="302.95" width="86.60" height="81.10" fill="none" stroke="#f01ef0" stroke-width="4.50"/>
<g transform="scale(.5)" stroke="#f01ef0" stroke-width="1.90" fill="none" stroke-linejoin="round">
<path d="M736 606l-1 1-4 4-4 2-4-1-4-2-3-2-4-1-3-1-5 0-3 1-5 1-4 0-5-2-4 1-3 0-6-1-1-2-1 1-1 4-1 6-3 2-3 1 0 3 2 7 0 5 1 2 2 4 0 4-1 4-2 3-1 4-1 6-1 3-1 3 0 4 0 4-1 2-1 7-1 3 2 3 3 1 4 3 1 3 3 2 1 4 0 3-1 3 1 3-2 4-1 3-1 5 1 5-1 5-1 4-1 3 1 4-1 7-2 3-1 4-2 5-1 5 1 2 1-1 4-4 6-3 5-2 1 0 4 1 1 3 3 3 3 0 2 1 5-2 4 0 4 0 2 1 6-2 4-1 4 0 4-1 3-1 3 1 3 1 3 2 2 3 4-3 1-3 2-3 7 2 6 2 4 1 4 0 5 0 4 0 5 0 4-2 2 1 5 0 4 0 3 0 4-1 3-1 4 1 5 1 3 1 2-1"/>
<path d="M666 695l0 1-1 4-3 5-3 3 3 3 4 3 3 1 1 3 0 5 1 5 0 5-3 5 0 2 0 3-2 3-2 2 1 5 1 5 2 2 5 3 4 1 2 4 5 2 3 2 3-1 3-1 3-2 4 2 4 1 1-2 4-1 4-1 3-1 6-2 4-1 3 0 4-1 3-2 4-1 2-1 6 3 2 0 3 3 5 3 3 1 3 2 3 1 2-2 6-4 3 0 2 2 3 1 3 2 4 0 6 0 5 0 3-1 4-4 5-3 3-2 5 1 4-1 1-4 2-6 2-2 1-3 0-3-1-6 2-3 0-3-1-7-1-4 0-4-2-5-2-4 0-4-2-4 2-5 2-3 1-3 1-4-1-4-1-4 1-4 1-4 1-4 3-3 3-3 2-3-2-4 1-2-2-2 0-6 0-4 0-3 1-4 2-2-2-5 0-3 1-4 1-5 0-3-2-3-3 0-6 2-4 2-1 2-4 3-4 0-5-3-5-1-4-1-2-2-5-1-2-1-2 1-5 0-5 0-4 1-3 1-3 3-3 5-2 1"/>
<path d="M668 697l2 3 2 4-1 4-3 3 1 1-3 6-2 3-3 4 3 2 4 1 3 1 1 3 1 4-3 3-2 4-1 3 0 3 0 2 2 4-1 3 7 2 3 1 2 5 2 4 5 0 4 0 5 1 2 0 3-3 3-3 3-3 5-3 4 0 2 2 2 0 3 2 2 2 4 2 4 1 4 0 4-1 5-1 3-1 4-1 4 1 4 0 1-2 4-1 4 0 5 3 5 2 1 2 3 0 4-3 4-1 3 0 4 1 6-1 1-1 4-2 4 0 3-1 5 2 4 0 6 2 5 0 2-2 0-3-4-4 2-4-1-4-3-5 0-5-2-4-1-3-1-3-2-3 3-3 3-3 0-3 0-4-1-4 0-7 0-3 1-3 0-3 1-3 0-5-2-2 0-2 0-3 2-2 2-4 0-4 1-3 1-4-2-3-5-1-3-3-3-3 1-3 1-3 3-4 3-4 3-6 0-6 0-4-1-2-2-1-5-1-4 1-4-2-4-1-5-1-4 1-5-2"/>
<path d="M691 762l2 0 4 3 4 3 5 1 2 1 5 0 2 0 4-2 5 0 2 0 3-3 6 1 4-2 4 0 5 1 2 3 4 2 0-1 4 2 3-3 2-4 4-2 2-1 3 2 6 1 3 1 5 1 2-1 3 1 4-2 4-1 4 2 4 0 5 1 2 1 7 0 2 2 4 0 1-3 1-3 1-3 2-5 1-4 3-5 2-6-2-2 0-4-1-6 0-2 0-6-2-4 1-3-1-4-3-4-2-4-2-3 4-4 0-4-1-5-1-4-1-2"/>
<path d="M836 752l-2-1-2-5-1-4-1-5-2-5 1-3 0-3 2-3-3-4 0-4 0-5-1-6 2-5 0-2 1-4 4-4 1-5-2-4-1-4-4-2-2-4 1-3 5-2 1-3 0-3 0-3-2-5-1-4 0-2 1-4 1-3 4-4-1-3 0-4-1-6-2-4-3-3-4-2-4-1-4 1-3-1-4-3-5 0-3 0-4-1-5-1-3 0-3-2-3 1-4 0-4 3-3 3-2 2-5 1-4-2-3 0-3-2-6-1-4-1-4-2-3 0-5 0-2 1-4 0-5 0-3 1-2 1"/>
</g>
<g fill="#3c474c"><ellipse cx="391.0" cy="382.7" rx="3.6" ry="0.8"/><ellipse cx="332.5" cy="335.1" rx="1.2" ry="3.2"/><ellipse cx="353.7" cy="383.7" rx="2.1" ry="0.9"/><ellipse cx="417.1" cy="328.9" rx="1.2" ry="3.8"/><ellipse cx="371.5" cy="384.2" rx="2.3" ry="0.8"/><ellipse cx="346.5" cy="304.1" rx="1.6" ry="1.2"/><ellipse cx="415.8" cy="305.1" rx="1.0" ry="3.7"/><ellipse cx="387.1" cy="303.5" rx="3.1" ry="1.2"/><ellipse cx="330.8" cy="338.9" rx="1.3" ry="4.4"/><ellipse cx="332.9" cy="364.4" rx="0.7" ry="1.6"/><ellipse cx="400.0" cy="302.5" rx="3.0" ry="0.9"/><ellipse cx="416.5" cy="340.9" rx="0.8" ry="3.4"/><ellipse cx="331.8" cy="362.7" rx="0.9" ry="3.7"/><ellipse cx="331.5" cy="336.4" rx="1.1" ry="2.1"/><ellipse cx="356.9" cy="302.9" rx="2.8" ry="0.9"/><ellipse cx="331.5" cy="327.1" rx="1.2" ry="3.0"/><ellipse cx="386.7" cy="383.4" rx="4.4" ry="0.9"/><ellipse cx="355.1" cy="384.1" rx="3.5" ry="1.1"/><ellipse cx="332.4" cy="371.0" rx="1.0" ry="3.9"/><ellipse cx="413.2" cy="384.0" rx="3.9" ry="1.3"/><ellipse cx="338.4" cy="383.0" rx="1.7" ry="1.3"/><ellipse cx="417.3" cy="320.5" rx="0.8" ry="3.5"/><ellipse cx="416.0" cy="312.6" rx="1.1" ry="4.3"/><ellipse cx="332.3" cy="341.7" rx="0.7" ry="2.3"/><ellipse cx="416.9" cy="338.6" rx="1.3" ry="2.6"/><ellipse cx="345.0" cy="304.4" rx="2.5" ry="0.9"/><ellipse cx="355.7" cy="383.4" rx="2.2" ry="0.8"/><ellipse cx="416.0" cy="324.0" rx="0.7" ry="3.3"/><ellipse cx="403.2" cy="382.3" rx="3.2" ry="0.9"/><ellipse cx="331.0" cy="345.6" rx="1.2" ry="2.1"/><ellipse cx="392.5" cy="384.0" rx="2.0" ry="0.9"/><ellipse cx="417.3" cy="358.9" rx="0.7" ry="2.6"/><ellipse cx="331.0" cy="347.8" rx="1.3" ry="1.9"/><ellipse cx="332.7" cy="368.5" rx="1.3" ry="3.0"/><ellipse cx="416.1" cy="372.6" rx="1.3" ry="1.7"/><ellipse cx="416.8" cy="314.0" rx="0.8" ry="3.7"/><ellipse cx="338.0" cy="383.6" rx="3.1" ry="0.9"/><ellipse cx="417.1" cy="357.4" rx="1.4" ry="3.0"/><ellipse cx="401.4" cy="304.8" rx="2.4" ry="0.9"/><ellipse cx="332.1" cy="318.8" rx="1.0" ry="1.6"/></g>
<g transform="scale(.5)" stroke="#f01ef0" stroke-width="1.90" fill="none" stroke-linejoin="round">
<path d="M751 606l1 1 2 4 4 4 3 2 2 2 3 4 2 3 3-1 3 2 3-1 4-5 5-2 3-3 2-2 1 0 4 2 2 3 3 4 2 2 4 1 5 1 3 3-2 2-2 5-2 3-1 4-1 6-2 4 1 1 2 1 4 1 4 1 5 1 2 0 2 4-4 4-1 5-1 2 1 4 0 5 0 4 0 5 1 3 0 2 0 5 0 3-2 4-1 4 2 5 0 2 0 4 0 4 2 4 1 4 3 4 1 1-1 4 3 5 1 4 0 5-1 2-1 0-2 5-4 2-3 2-5 1-2 1-5-1-4 1-4-1 0-2-3-2-5-4-2-1-3-3-3-4-3-2-2-2-4-2 0-3-3-3-2 0-3 0-3 3-3 2-3 4-1 4-3 3-4 4-2 3-2 2-3 1-4-1-2-2-1-5-3-2-3-1-2-3-3-1-4 0-5 1-4 1-4 0-3 1-5 1-5 2-4 2-2 3-4 3-3 1-3 0 1-1 0-1 0-4 0-4 4-1 1-3 1-5 2-3 2-6 4-3 2-4 2-3 2-2 1-5 1-1 2-3 0-1-1-6-6 1-4 2-4 1-4 1-4 1-3 0-4 1-3 1-3 0-3-3-1-5 1-4 1-6 2-2-1-4-2-3 3-4 1-2 5-1 5-3 3-3 2-4 0-2-2-3-2-4-3-2-4-2-4-5-4-3-3-1-3-2 0-1 0-1 5-1 4 0 6 1 4 3 3-1 4 1 3-3 0-2-1-1-2-5 0-4-3-6-3-3-1-5-2-4-1-1 0-2 2-2 3-1 5 0 4 3 3 2 5 3 6 2 3 2 0 4 2 0 1 2 3 2 2 1 2 4 0 5 3 3 1 3 3 3 1 5 2 2 3 5 3 2 1 3 0 3 2 3 3 3 1 3 3 5 0 4 2 3 2 4 2 2 2 5 3 2 2 5 0 5 2 3 2 3 2 3 2 2 3 2-1 2 4-1 2 2 3 0 3-1 1-1 4-2 2-2 1-4 4-3 1-4 2-4-1-3 3-6 1-3 3-6 2-5 2-2 3-3 2-5 3-5 2-4 1-4 1-3 2-2 2 1 3 0-1-1 2 2 0 1 0 2 1 3 2 4 0 4 1 2 2 2-1 6 2 4 3 3 1 6 1 4 0 3-2 5 2 6-1 4 2 4 1 5-1 5-1 3 1 3-1 1 2 2 1 2 0 4 0-2 0-5 0-7 2-8 0-6-1-3 0-4-1-3-3-3-1-3-1-4-3-4-3-3 0-4-2-3-3-2-1-4-1-5-1-3-3-5 2-4-1-2 1-1 1-4 3-2 3-4 2-3 2-1 2-4 3-3 3-3 1-2 1-5 1-3 0-5-2-3-5-3-4 0-4 0-2 0-2 1-4 4-3 1-6-1-2 1-4 0-3 1-5 3-4 2-3-4-2-3-4-3-2-2-3-3-3-5 0-4 0-1 2 1 3 1 1 1 4 4 5 4 4 2 5 3 1 2 3 0 3-1 3-1 4-1 5 1 3 0 5-3 8-4 6-3 3-3-3 6-1 2 0 2-1 2-2 3-2 2-1 4-3 2-2 1 0 2-3 4-2 4-1 5-3 4-2 3-3 4-2 3-4 4-1 5-3 6-2 3-2 3-4 3-1 4-3 5-3 5-2 4-2 2-3 2-3 5-3 4-2 3-1-1-2 2-1 3-1 3-2 4-1 3-1 3-1 1-1 1-1 0 1 1-1 0-2 0 1-1 2-1 1 0 1-3 2 0 1-3 2-3 2-3 1-4 2-3 2-3 4-5 1-4 4-4 2-4 2-2 4-4 3-4 2-4 2-5 3-3 3-5 2-4 3-2 2-5 2-4 3-3 0-5 1-2 2-3 2-2 1-3 1-2 0-1-1-6 0-4-2-2-4-1-3 2-4-1-2 0-5 1-5 3-7 1-7 1-2 0-3 0-3 0-3 1-2 1-4 2-5 0-4 2-5 2-4 3-2 1-4 2-4-1-4 1-4 1-3 2-5 2-5 1-4 1-4 2-3 1-4 3-4 0-3 3-2 1-2 0-5 2-3 0-2 1-1 1-3 1-3 2-4 2-1-1-3 1 0-1 4-4 6-1 6-2 4-2 5-5 2-3 2-3 1-5-1-4-2-3 3-1 2 0 3 2 4 3 3 0 2 3 3 2 3 4 4 2 5 2 1 1 2-1 3-1 0-2-1-5-2-4-2-6-1-2 4-5 3-2 4 0 3-2 3 2 5 5 5 0 2-3 3-3 3-2 1-4 3-2 6-5 3-4 2-2 3-2 3-1 1 3-1 3-2 2 0 4 0 6-1 4-1 6 0 4 0 5 1 4 0 4 2 1 1-2 0-2 4-1 4-4 4-2 4-4 4-3 6-3 3-3 2-2 2-3 2-2 1 0 3-2 0 1-2 3-2 4-2 6-1 6 0 4 3 1 6 1 6-1 4 2 0 4-2 2-1 3-2 3 0 2-3 2-4 5-5 2-2 4 0 4-2 2 4 3 4 0 2 1 6 2 4 1 4-1 3 1 0 1 0 2-1 2-7-1-4 2-4 1-2 3-2 3 3 4 1 4 2 5 3 3 2 3 0 2 0 5-2 3 0-1-2 0-3-1-5-4-4 1-6-3-4-1-5-2-3-1-2-1-4-2-1-1 1 2 7 3 1 3 3 4 3 3 1 2 3 4 3 2 4 3 1 4 1 1-1 4 0 4 0 3-5 0-5 1-4 0-4-1-3-1-5-1-2-2-1-3 0-6 0-5 1-4 3-2 3-1 3 2 3 2 5 1 4 2 4 3 4 2 4 1 3-1 2-1 1-3 3-4 1-4 3-6-2-2-3-4-2-3-2-3 0-2-1-5-1-3 2-2 3-3 4-1 5-4 0-3 1-1 1-4 1-6 1-3 0-6-1-3 1-3-2-4 0-3-1-4-1-2-1-4 0-4-1-3 2-4 1-6 2-5 1-3 0-4 1-5 0-3-2-1-2 1-2 1-2 1-3 2-4 3-2 3-5 4-3 2-3 2-1 1-5 1-2-5-2-2-2-5-1-5-3-3-3 0-3 0-2 0-2 0-3 2-1 2-3 5-3 2-5 5-3 4-2 3-2 4-2 2-2 1-2 2-3 1-1 0-1-3-1-4 1-4-1-6-2-5-1-4-2-3 1-2-3 0-2 2-1 1-4 5-3 7-3 2-2 2-2 2-4 0-3-2-3-1-1-5-4-2-2-4-1-3-2-2-3-2-4-3-4 1-3 2-4 0-3 4 2 4-1 4-5 1-4 2-3 2-3 1-7 3-2 4-1 4 1 1 3 6 2 3 3 4 3 3 2 2 2 3 2 4 0 3-2 5-2 4-1 3 0 2-2 4 0 6 1 4 2 2 3 2 1 3 0 3-1 5-1 3 0 3 3 1 4 3 6 3 4 1 0 3-1 2-1 0 0 5-3 2-3 4-3 4-1 4-2 2-3 2-2 2 0 8 2 9 1 2 1-3 1-2-1 0 2-3-1-1-1-5-1-3-1-3 1-4-1-5-1-5 1-4-2-4 0-3-2-5 0-4 2-4 0-5 1-5-2-5 0-5 1-5 1-4-3-4-1-3 1-5 0-3 1-4 1-4-1-1 0-3 1-1 0-4 0-3 2 0 0-2 2-1 2 1 0-1 3 1 3 2 3 2 2 3 2 1 2 3 4 4 2 4 4 2 2 5 3 4 5 4 3 4 1 3 3 5 4 4 3 4 0 3 5 6 3 2 3 4 1 4 3 3 3 2 3 4 2 3 0 1 0 1 1 1 2 2-2 0 2 0 0-2 1-2-2 1 0-1 0-2-2-3 1-2-3-4 0-3-2-3-3-4-1-5-4-4-4-2-1-7-2-4-4-5-3-5-1-3-1-4-2-4-3-4-3-4-3-4-3-4-3-4-2-3-4 0 0-1-1-1-1-1-1-2-2-1-2-1-1 3-2 1 0 2-3 2 1 1 0 5-3 4 0 2 0 2-2 5 0 4-1 6 1 3 0 6 0 6 1 3 1 5-1 6 0 4-2 5 2 2-1 5 0 3-1 6-1 4 2 3 1 4-1 1 1 3-1 2 1 4 4 0 2-3 5-3 3-3 4-3 3-4 3-2 5-4 4 3 4 5 0 1-1 2 1 4-2 4-1 6 0 3 2 4 0 3 2 2 0 2 3 2 4 1 5-3 4-3 2 1 3-1 2-4 5-4 1-2 5-1 1-1 4-1 4-1 2 3 4 1 2 3 3 2 4 2 3 1 0 3 5 1 5 0 4 3 5 1 3 0 5 0 2-1 4-1 3-1 7-2 4-1 2-2 2-3-1-2 0-3 0-4 0-2-1-2-3-4-2-4 0-5 0-5-4-2-2-4-1-3-2-4-3-3-2-2-4-3-1-2-2-1-5-3-4 0-5-1-2 0-1 2-2 2-3 2-3 0-5 1-2 1-2 0-5 0-4 1-5 3-6 2-3 3-3 0-4 2-5 3-4 2-3 2-5 2-4 1-4 2 0 1-2 1-4 3-3-1-2 1-3 2-3 2-2 0-3-1-2-1-5 1-5-3-3-1-3-2-2-4-1-1-2-3-3-3-2-4 0-4-1-4 1-5-1-2 0-3 2-3 4-4 2-3 2-5 4-4 0-2 0-3-3-4-5-5-4-5-4-5-2-3-1-3 4 3 3-1 1 1 0 3 4 1 0 1 4 3 2 1 2 1 2 2 3 3 2 2 3 2 4 2 3 3 3 2 5 2 3 2 3 5 5 0 1 4 5 1 3 2 3 3 3 3 2 4 3 3 4 2 4 1 2 0 3 2 1 3 3 0 3 1 3 4 4 4 5 2 4 3 3 4 2 2 4 4 1 1 3 2 2 1 2 3 2 1 2 1 1 1 1-1 4 1 1-1 2-1 3-4 1-3 0-6-4-8 0-3-1-1-2-3-1-3-1-3 0-3-2-4-1-4-1-3 1-4-1-4-3-4-1-3-2-3-2-4-1-5-1-3-2-4 0-7-1-5-3-4-3-3 0-4-2-3 0-2-1-5-3-2-2-4-2-4-2-3-1-4 0-1-1-2-2-2 0-2-2-2-1-3-1 0 0 1 1 4 2 6 1 6 0 7-1 8 2 4 3 2 0 2 2-1 4-4 1-3 2-3 4-4 4-5 2-3 2-4 5-3 1-4 0-2 1 0 1-2 1 3 0 5-1 4-1 7 0 4-1 4-1 3 0 2 1 0 4-2 4-2 2-2 7-3 3-3 2-2 1-2 0 2-3 0-4 4-5 2-5 4-4 4-2 3-1 0 0-1 1-1 2-3 5-2 3-2 6-2 4-3 5-2 3 0 2 1 4 2 4 4 3 6 1 3-3 3-1 0-3 2-4 0-5 2-3-1-3 0-5-2-5 0-1-2-2-2 2-2 2-3 0-3 1-5 3-7 2-2 1-4 0-1-3-1-1-2-6 2-4 0-5 0-4 1-5 3-4 3-2 2-3 3-1 3-3 4-2 2-3 3-2 4-2 3-4 1-3 3-2 1-2-1-1-2-2-2 2-4-3-5 0-4-1-4 0-3-3-3-2-4-5-2-5-4-1-3-4-1-2-1-2 0-4 1-4 1-1 2-1 3-3 2-3 1-3 1-4 2-4 5-5 1-2-2-3-4-4-2-2-4-4-2-4-2-3-4-3-1-4-2-1 0 0 1 0 1 2 0 0 3 2 2 3 3 3 1 3 3 4 4 2 4 2 3 4 5 2 2 3 3 4 1 0 4 2 3 1 2 3 2-2 0 1 4-4 0-2-1-6 0-5-3-6-1-2 0-1 2-2 3 1 3 1 3 1 6 0 3-1 4 0 2 1 4 1 5-1 4 2 4 1 3 0 3-3 5-2 2-3 3-2 2-3 5-1 2-3 2-2 3 0 2 2 3 2 0 3 1 5 2 5 1 5 1 4 0 3 1 4-1 6-1 3 0 4-1 1 0 1 0-3 3-3 5 0 4-3 3 0 7-4 4-3 4-1 3 0 2 0 2 1 1 3 0 1-3 3-2 4-1 5-5 4-3 4-2 3-1 1-4 3-1 3-3 3-1 3 1 4 5 2 4 3 4 3 1 3-1 1-2 3-6 0-4 3-4 2-4 1-2 1-3 3-2 3-1 5-2 4 0 2 2 7 2 2 1 1 1 1 3 2 5 2 2 3 3 5 3 3 4 2 2 4 3 2 4 1 0 2 3 2 2 0 2 3 0-1-4-2-7-1-6-1-4 6-4 2-1 4-3-3-4-3-5-2-3 1-5 3-1 3-3 5-1 1-3 4-3 1-4 1-3 1-4-2-3-2-3-1-3-2-3 0-3-1-1-1-3 1-5 3-4 2-4 2-4 2-4 0-5-3-4-4-1-2-1-3 2-6 0-4 0-5 1-4-2-1-2 1-4 1-1 0-4 3-4 2-5 4-4 0-4 3-2 3-3 1 0 0 2-1 3 1 3-3 5-1 6-2 3 1 3 5 0 6 1 2 0 3 4 3 4 0 3 2 4 0 3 2 4-2 2-1 5 0 5-2 2-3 2-2 3-2 1-3 2-4 2-4 2-5 3-3 1-4 1-4 1-1 3 2 0 3 5 1 1 3 3 3 4 4 0 4 2 5 2 3 4 3 2 3 2 2 2 2 3 1 5-5 2-4 4 0 4 2 4 2 7-1 3 0 3-3 0 0-1-1-1-2-1-4-3-4-2-1-2-3-2-3-3-4-3-4-4-3-3-4-3-2-3-3-2-4-1-2-3-3-1-3 0-2 0-2 0 0 3 1 5 1 4 2 6 0 4 2 5 0 5 1 4 0 5 1 4-1 1-3 0-3-2-5-5-3-1-2-2-4-2-4 0-2-1-5-1-1-2-5-1-4-1-3-1-6-2-4 0-2-2-2-2-5 0-4 0-3 1-2 2-3 0-4 3-5 2-3 2-3 2-3 2-4 2-4 0 0 1-3 0-3-1 0 1-3-2 2-6 2-2 1-5 1-6 1-3 2-3 4-3-2-2 0 1-2 1-5 7-3 6-4 5-1 3 2 0 2-1 1 0 2-2 3-3 6-3 2-1 2-3 4-2 3-3 4-4 3-2 1-4 3-3 4-1 3-1 2 1 3 0 0 3 1 4 0 5-2 4 0 4-1 3 3 5 2 2 4-1 4-2 5-2 3-2 4-1 2-4 2-2 5-4 2-3 4-2 3-2 3 2 5-1 1 3 5 1 2 2 5 5 2 4 1 3 2 1 1 2 0 1-2 3-3 1-4 3-4 2-4 2-4 0-3-1-3 1-5 2-4-1-4-2-5 2-4 1-3-1-4 0-2-2-2-3 1-5-1-6 0-5 1-4-2 0-2 1-3 2-3 3-3 4-2 2-4 3-3 2-3 4-2 1-1 3 1 2-3-1 1-4 0-7 0-5-3-3-3 2-2 0-3 1-4 2-7 2-4 2-4 2-4-1-2 1-3-3-1-2 2-1 1-4 1-4 2-4 2-5 0-3 2-5 1-4 1-3 1-4 0-4-3-3 0-3-3-4-1-2-1-1 0 1-1 3 1 5 4 5 1 4 1 3-1 5 2 2-1 4-2 4-2 2-2 3-2 4 0 4 0 2 1 4-1 3 2 5 2 3 4 1 4 2 4 1 3-2 3-1 5-2 3-2 5-3 2 2 4-2 3 0 4-4 3-2 4-2 1-2-3 2-3 3-5 0-3 2-4 4-6 2-1 2-5 2-1-3 0-1-1-3 2-5 2-3 0-4 0-3 2-5-1-4 2-4-3-1-5 4-2 0-4-1-1-3 0-4-1-6 1-5 1-4 1-4 0-4 2-4 1-4 3-2 2-3 3-3 4 0 2-1 3-2 2-5 0-5-1-5-1-1 0-5-2-3-4-6-1-3-2-4 0-2 0-1 3 0 4 2 5 1 2 4-1 0-2-4-1-4-2-5 0-3 2-4 0-3 6-2 7 3 2 2 3 3 1 5 2 3 1 3 1 2 4 4 4 1 1 3 5-1-2-1 1 0 0-3 2-4-2-4 0-5 1-4 1-5 0-4 1-3 1-3 1-1 1-3 0-2 4 3 3 1 4 4-1 4 3 2 3 2 4-1 3-2 6-4 4-6 4-1 3 0 2 0 1 3 0 1-2 6 0 3-2 4-1 5-4 5 0 5-2 4-1 2-1 2 1 2 3-1 1-1 5-3 1-3 2-3 5-2 2-3 3-4 3-2 2-4 4-4 1-3 3-2 3-2 2-1 2 0 0 1-3 8-1 4-1 4-4 2-2 2-2 1-2 3-2 4-3 4-4 5-1 3 0 4-2 2-1 2 0 2 2 0 4-1 5-3 6 1 3-1 5-1 3-1 3 1 2 2 4 4 2 4 4 2 1 4-2 4-2 2-3 1-4 1-4 2-5 1-5 2-3 1-1 1 0 1 0 1 1 3 4 3 2 3 3 3 4 2 3 5 4 4 1 3 2 5 1 4 2 5 2 6 2 4 1 2 0-1-3 1-1-2-3 1 0-1-3-1-4-1-2-3-3-3-3-2-3-2-3-1-3-2-5 0-1-4-3-2-5-2-4-3-3-1-4-3-3-4-3-2-1-2-2-2-3-3 0-3-1-5-2-2-1-3 2-4-1-2-1-4 0-5 0-2-1-4-1-6 1-5-1-6 1-4 1-5 0-4 0-3 1-5 0-2-1-3 0-2 2-3 0-3 1-4-1-1-3-2-2-6-3-2-3 1-4 2-4 1-4 2-4 2-3 3-2 2-3 2-4 4-1 1-3 3-3 1-5 1-2 1-3 1-5-1-3 0-5-1-5-2-2-3-5-2-5-3-4-2-3 0-1 1 1 1 1 4 4 6 3 5 3 4 1 2 1 4 1 1 2-1-2-2-3-3-3-3-3-5-2-3-1-4-2-3-1-1 2-2 6 2 5 1 3 1 4 2 2 3 4 2 2 1 4 1"/>
</g>
<text x="374.75" y="398.40" font-size="8.8" font-weight="normal" text-anchor="middle" fill="#222" stroke="#222" stroke-width="0.22" >MS+ RS 14d</text>
<rect x="424.50" y="191.80" width="93.30" height="87.80" fill="#8c9f50"/>
<rect x="446.0" y="214.7" width="48.00" height="47.30" fill="#a68ca6"/>
<rect x="427.50" y="194.80" width="87.30" height="81.80" fill="none" stroke="#f01ef0" stroke-width="3.80"/>
<g transform="scale(.5)" stroke="#f01ef0" stroke-width="1.90" fill="none" stroke-linejoin="round">
<path d="M945 546l2 3 2 1 4 3 4 1 3 0 6 0 4 1 4-3 2-4 6-2 3 1 5 4 3 3 2 1 2-1 5-2 3-3 3 1 3 1 4 3 5 0 3 1 4-4 0-4 0-5 0-4 0-4 3-3-1-2 1-3 1-4 0-5-2-3-1-6 0-1-4-5-2-3-2-4 1-2 3-5 1-3 1-6 3-2 3-3 0-2 0-6-2-4-2-3-4-3-1-2 1-4 1-3 3-3 1-6 2-3-1-2-2-4 1-4 0-5-1-5 2-4-1-3-1-4 0-4 0-2-1-3-1-1-2-2-4-1-3 0-5 1-4 0-4 0-3 1-2 3-4 0-1 2-6-2-2 1-4-1-5 0-4-2-2-1-5-4-5 0-4 0-4 0-2 1-2 1-2 0-5 0-2-1-3-1-5 0-4 0-3 1-5 0-3 1-2 2-3 4-3 1-2-1-3-1-6-2-4-2-4-1-4-2-4 2-3 1-3 2-4-1-5 0-4 1-3-2"/>
<path d="M1031 524l-1-4-5-3-1-4-1-5 1-4 2-3 1-4 2-2-2-4 2-4 1-4 0-3-1-3-1-4-1-3-2-4 0-3 1-3-1-4 0-5 1-2 0-4-1-3 0-5 2-3-1-2 1-3 1-4 1-5 0-2 1-5-1-3-1-5 2-3 1-4-2-2-1-3-5-1-7-3-3-2-4 1-3 0-2 1-5 0-3 1-4 2-4 1-5 0-2 1-5 0-4-1-5 0-3-2-4 2-4 1-3 1-3-1-4 1-5 0-5 0-3-3-4 1-5-2-4-1-1-2-4 0-3 2-5 1-4 1-6 1-4 1-3 3-4 2-5 1-4-1-4 1-3-3-6-2-2 0-5-1-2 1 0 6 1 5 2 3 1 3 1 4 1 5 1 4 1 3-3 4-3 1-1 3 0 3-2 4 0 4-1 4-1 5 2 5 0 5 2 3 1 6 1 5 2 2"/>
<path d="M1011 548l-2 0-4 0-5 1-6 1-5 3-3-2-3-1-3-1-3-3-5-1-3 0-6 0-5 3-2 2-3 2-4 1-5 0-3 1-5-2-2-4-5-1-5 0-3 2-5 0-3 1-3 2-4-1-3 0-5-3-3-2-6 1-3 0-3-1-4 1-4 0-4 2-4 2-3 1-4 0-2-2-1-3-2-5 2-3 0-3 1-3 1-2 0-3 1-4 0-3-1-4-3-5-1-5 3-4 2-3 0-5 1-3-1-2-1-5-2-3-3-5-2-3-1-2 1-4 1-4 2-4 0-3-1-4 1-4 2-4 0-3 3-4 0-4 0-3-1-4 0-4 0-5-2-4-1-1 1-6 2-4 2-4 1-5 3-3 5-1 3 0 5 0 5 2 5 2 3 1 3 0 7 1 3 2 2 1 4 1 3-1 3-2 2 0 5-2 5-1 4-2 4-1 4-2 3 0 2 1 4 1 3 2 1 2 4 2 5 1 3-1 3-1 5-1 3 0 3-1 6 2 4-1 5 0 3 0 5 0 5 0 4 0 4 0"/>
<path d="M942 548l-1 1-5 3-1 1-2-1-3 1-4-2-4-3-5 1-3 0-4 0-3 1-4 1-3 1-2 2-2 2-4 1-5-2-5 0-5-2-3 0-4 2-5 1-3 0-2 0-4-2-1-3-3-5 2-4 2-3 0-6 1-2 1-5 0-5 2-4-1-6 1-4 1-5 2-1-3-2-1-4-3-3 0-4 1-3 2-4 3-3 1-3-3-4-2-2-4-3-3-3 1-5 0-2-1-5 0-5 0-2 2-5 2-2 0-2 3-3 2-5 3-3-1-3-2-5-1-4 0-4-2-4 0-2 2-3 5-2 2-1 4-4 6 0 3-3 3 1 3 1 6 2 3 1 1 1 6 0 5 2 4 1 5 2 1-1 3 0 4-3 3-2 4-2 2-3 3 1 4-2 7 0 2 0 4 1 2 3 3 1 2 0 3-2 5 0 4-2 4 0 3 2 1 3 4 2 3 1 3-1 5-1 4-2 4-2 3-1 3 0 6 0 3 3 5 2 1 3 4 1"/>
</g>
<g fill="#8c9f50"><ellipse cx="430.2" cy="196.3" rx="2.4" ry="1.3"/><ellipse cx="464.6" cy="275.3" rx="3.5" ry="0.9"/><ellipse cx="488.5" cy="275.7" rx="3.9" ry="0.8"/><ellipse cx="428.3" cy="247.4" rx="1.0" ry="2.9"/><ellipse cx="433.6" cy="275.8" rx="2.9" ry="0.8"/><ellipse cx="514.7" cy="210.1" rx="1.2" ry="3.0"/><ellipse cx="428.0" cy="247.4" rx="0.9" ry="3.4"/><ellipse cx="505.6" cy="276.4" rx="2.2" ry="0.7"/><ellipse cx="465.8" cy="276.2" rx="3.7" ry="1.0"/><ellipse cx="428.6" cy="257.7" rx="1.1" ry="4.2"/><ellipse cx="442.2" cy="194.7" rx="1.5" ry="1.2"/><ellipse cx="444.2" cy="196.2" rx="4.2" ry="1.0"/><ellipse cx="472.9" cy="276.8" rx="3.9" ry="1.2"/><ellipse cx="428.4" cy="261.6" rx="1.3" ry="3.6"/><ellipse cx="513.4" cy="198.6" rx="0.8" ry="4.5"/><ellipse cx="487.3" cy="195.0" rx="3.1" ry="1.3"/><ellipse cx="515.0" cy="214.1" rx="0.9" ry="2.8"/><ellipse cx="428.7" cy="227.3" rx="1.0" ry="1.8"/><ellipse cx="514.3" cy="213.8" rx="1.0" ry="2.9"/><ellipse cx="452.6" cy="195.5" rx="2.1" ry="1.2"/><ellipse cx="492.7" cy="275.2" rx="4.3" ry="1.3"/><ellipse cx="428.9" cy="260.7" rx="1.3" ry="3.2"/><ellipse cx="427.7" cy="253.7" rx="1.2" ry="3.2"/><ellipse cx="445.9" cy="195.6" rx="4.0" ry="1.0"/><ellipse cx="488.3" cy="195.4" rx="3.9" ry="1.1"/><ellipse cx="514.7" cy="197.6" rx="0.8" ry="2.8"/><ellipse cx="487.6" cy="195.4" rx="4.0" ry="1.3"/><ellipse cx="470.1" cy="195.3" rx="4.5" ry="1.2"/><ellipse cx="492.2" cy="275.9" rx="3.9" ry="1.0"/><ellipse cx="480.0" cy="275.8" rx="2.0" ry="1.0"/><ellipse cx="427.3" cy="272.6" rx="0.8" ry="2.9"/><ellipse cx="493.9" cy="195.5" rx="1.7" ry="1.2"/><ellipse cx="437.8" cy="275.5" rx="2.7" ry="0.9"/><ellipse cx="455.5" cy="195.8" rx="1.9" ry="1.1"/><ellipse cx="492.9" cy="196.2" rx="3.5" ry="0.8"/><ellipse cx="428.1" cy="236.7" rx="0.8" ry="2.8"/><ellipse cx="480.7" cy="275.8" rx="4.4" ry="1.1"/><ellipse cx="498.4" cy="275.7" rx="1.7" ry="1.0"/><ellipse cx="427.9" cy="204.5" rx="0.8" ry="4.3"/><ellipse cx="501.6" cy="276.2" rx="1.8" ry="0.9"/></g>
<g transform="scale(.5)" stroke="#f01ef0" stroke-width="1.90" fill="none" stroke-linejoin="round">
<path d="M863 496l0 1 3 2 3 2 3 0 2 1 4 1 5 0 2 4 4 0 3 1 5 0 3 1 3 1 4 1 4 4 4 1 7 0 5 3 2 2 4 0 4 2 4-1 5 3 4 1 2-1 3 0 2 0 3 2 4 1 4 2 1 0 2 1 1 1 4 3-8 2-8-2-3-7 1-3 1-3 1-2 2-3 2-2 0-4 3-2 0-4 3-1 2-4 2-2 4-6 0-5 2-4 5-3 2-1 4-5 1-4 3-2 2-5 4-5 2-1 1-3 0-4 3-2 2-3 2-2 2-3 2-2 0-2 1-1 1-3-2 2-2 4-3 5-6 8-4 4-2 4 2 2 2 1 4 1 4 3 4 2 3 3 4 1 2 2 3 3-1 4 1 4 0 3-2 6 0 3 1 3-1 1 2 4-1 4-5 3-4 1-3 0-3 0 0-1-6 0-4-2-3 0-5 2-3 0-3-1-3 1-4 1-3-2-3-2-6-2-3-2-2-3-5-3-3-2 0-1-4-2-2-1-3-2-1-4-2-4-3-2-1-3-2-2-1-4-2-5-4-4 1-4-1-2-3-3-1-3-4-3-2-6-2-2-3-5-2-5-2-3 1-4-3-3-2-5-2-2-4-3-1-2-1-1 0-2-2-1-1-3-2-2-1-3-1-2-7-8-3 0-2 4-3 4-3 2-4 3-2 3-4 2-2 4-2 1-1 3 2 4 4 2 4 5 3 2 2 3 1 4-1 5-2 4-2 3-1 2-4 1-3 4-2 2-1 4 1 5 1 6 2 3-1 4 0 3 0 3-1 6-1 1-1 5 0 4-2 5-1 3-1 5-1 1 0 5 0 3 5 2 5 2 4 2-4 8-6 8 5-5 2-1 1-1 2-4 3-2 2 0 0-1 1-3 2-4 4-3 2-3 1-2 2-3 4-3 1-4 2-2 3-1 3-3 3-3 2-3 3-4 2-4 2-4 2-2 2-2 4-4 4-3 1-4 3-3 1-2 1-4 5-1 4-3 2-4 2-5 4-3 2-1 3 0 0-3 2-3 4-2 1-3 1 0 2-1 6-4 4-4 3-5 5-3 4-3 5-3 5-3 1-1 3 1 2-1 2 0 3 1 2 4 2 3 0 3 1 3 1 0 1 1 2 4-1 2 2 4 0 3 2 4 3 2-1 4-2 3 2 3 1 4 0 4 2 5-1 7-1 4 2 4-2 5 2 5 1 5 0 2 1 4 2 5 0 4 1 3 0 5-1 4 1 3-2 5 0 3 1 4 0 4-2 1 1 4 0 3 0 2 1 2 0 2-2 5-5 5-3 1-5 0-5-1-5-3-3-2-1 0 0-3 2-2 3-6 3-3 4-2 1-2 2-3 1-3 3-4 4-3 1-4 1-3 2-2 1-4 2-4 3-3 0-3-1-3 0-4 2-4 1-6-1-4 0-5 2-8 1-6 0-2-1 1-5 1 0 1-1-2-2 2-1 4-2 4-1 2-1 3-3 3-2 4-1 6-3 4-2 3-1 3-2 5-2 4-5 5-3 3-1 4-1 5-2 3-2 1-4 2-1 1-1 0-1 2-2 1-1 0-4-2-1-1-1-2-2 0-1-3-2-4-1-5-2-5 0-5-1-3-1-3 0-6-2-5-2-3 0-5-1-5-2-2-2-4-1-4 0-3-1-3 1-2-1-8 5-3 3 0-5-5-1-1-3 1-1-2-3-3-2-3-4-2-3 0-2-2-6-1-4-4-3-3-4-3-4-1-4-5-1-2-4-5-2-2-3-2-5-2-4 0-2-2-4-1-3-2-2-1 1-1-1-2 0-2-1 0 5 1 5-1 4 0 7 1 5 0 6 1 3 2 1 0 0 1-1 2-5 5-4 3-3 4-4 2-2 0-4 1-5-3-6-1-3-1-1 0-6-1-3 0-4-1-4 0-1 1-3 2 0 3 1 6 3 5 2 1 0 2 1 4 1 4 1 3 0 3 1 6 2 3 2 3 1 4 1 2 5 3 3 3 3 2 1 3 1 3 0 4 1 0-2 2-4-1-3 2-5 3-4 3-2 2-1 2-1 4-1 3 4 2 0 6-2 5 0 3-1 4-2 4 0 4-2 2 0 5-2 3-4 3-1 3 0 4 0 3 1 2 1 3 3 0 2-1 5 0 5-3 7-2 3-1 3 0 2-1 5 1 1 3 4 0 3 0 3-2 3-3 2-3 5-3 3-5 1-4 4 0 2-4 3-2 3-1 3 0 0 2 2 3 0 1-1 4 0 4-1 5-1 6 0 3 2 3 1 2 4 4 2 3 4 0 4 1 4 0 4 0 5-2 1-4 3-3 4-3 3-3 1-3 2-4 3-5 1-3-1-2-1-2-3 1-4 0-7 1-1 1-3 4-6 3-3 1-4 1-3 0-1 1-4-2-4-1-3-2-3-2-3-3-2-1-2-4-5-3-3-1-5 0-4-1-4-1-3 1-2 2-4 2-3 2-3 3-2-2-2 2-5 1-3-2-1-2-1-5 1-4-1-4 2-2-2-4-2-3-2-3-4-1-1-5-2-3 0-3 2-5 2-2 2-2-4-3-3-3-2-4-2-4 2-4-1-4-1-8-1-7 0-5 0-4 4 2 0 1 3 2 1 1 4 1 3 3 1 0 3 1 3 3 3 1 4 5 4 1 3 2 4 2 3 2 3 2 3 3 4 3 2 2 3 2 4 2 4 2 3 2 5 4 2 1 2 2 4 2 3 2 3 2 1 4 3 0 4 3 1 0 4 5 5 4 4 3 3 3 3 1 2 2-2 2-2 3-1 2-4 2-2 2-4 1-3 2-2 2-4 0-3 2-4 1-5 0-3 0-5 2-4 1-2 1-6 1-4 3-4 1-3 2-4 0-2 0-2 1-3 2-5 1-2-1-1 0 1 0 5-2 5-3 5-1 5-2 5-2 3 0 5-2 3 1 5 2 5 1 2 1 4 0 3 1 5 2 3 1 3 2 4 0 4 2 4 3 3 0 2 0-1 1-6-1-4-1-5 1-3-1-4 1-5 0-3 0-4 0-5 1-3-1-4-3-3-4-3-4-4-3-4-1-3 0-3-1-7 1-3 2-4 2-3 1-5 1-6 2-3 1-4 1-4 1-3-1-1 1 1-1-1-3 1-4 3-4 2-3 2-6 3-5 2-5 2-3 2-4 2-1-4-3-5 2-4-2 0-1-1-5-1-6 1-3 0-2-1-4-2-4 0-3 0-4 1-4-4-4 0-5-1-3 1-2 3-4 3-5 3-3 1-3-1-3-3-6 0-3-3-3-3-4-2 1-2 1-1 3 3 4 1 4 0 6 3 3 1 5-1 2 2 0 3 2 2 2 2 1 2 1 4 2 3 2 6 5 2 2 2 1 3 3 0 1 3 2 4 3 3 1 2 4 2 2 4 2 3 3 4 3 2 2 2 3 2 4 3 6 4 2 3 3 4 2 3 1 3 3 1 2 2 4 3 4 3 4 3 1 2 1 2 2 2 2 3 1 3 3 6 4 3 1 5 3 5 1 3 3 3 1 2 0 2-1 2-1 1 2 0 1 1 2-4-2-5-2-3 0-5-1-5-4-5 1-4-3-4 2-4 4-3 4-3-2 1 0-2-3 0-3-1-2-4-4-1-5 0-4 0-4-3-4 0-2-3-2 0-4-5-2-5 1-2 1-3 2-2 1-5 3-5 6-3 1-3 1-1 3-3 1-3 2-4 3-5 3-2 3-3 0-3 3-4 1-4 1-4 3-2 1-2 0-4-1-3-1-4-6-2-5-1-5 0-4 1-2 1-1 1-4 3-4 3-3 4-3 1-5 0-2 2-2 5-3 2-3 3-2 4-4 1-2 1-3 2-2-1 0-4 1-6-3-1-2-3-6-3-2-1-3-2-3-1-4-1-2-6-5-6-3 0-3 5-2 1-2 1 0 1-1 3 2 2-1 3 0 4 0 3-1 5 0 3 1 4 0 5 1 3 1 5-3 5 0 2 1 5 0 3-1 5 1 5 0 6-1 3 0 6 1 4 1 4 2 7-2 3 0 5 0 4-1 2-1 3 1 7 2 4-1 3-1 3 0 4 0 2 1 3-1 2 2 4-2 1 0 2 1 4-1 0-1 0 2 1 0 0-1 1 0-2-2-2 0-2-1-3-3-3 0-5-2-4-2-5 0-6-1-5 1-5 0-3-1-6-3-4-1-4 1-8 0-4 2-4 2-3 1-4 0-3 2-3 3-1-1-2 2-4 3-2 3-4 2-2 4-3 3-1 2-2 5-3 3-2 4-3 4-4 3-3 4-3 4-2 3 1 4-3 3-3 3-1 2-4 1-3 4-2 4 0 3-1 3-1 2-1 1-1 2-4 1 1 1-1 1-2 2 1-1 1-2 2-2 1-4 4-5 2-5 4-6 3-5 4-4 2-4 1 0 1-3 3-4 1-4 2-4 2-2 2-5 4-2 4-3 2-3 4-4 1-1 3-2 3-2 2-4 1-2 2-2 0-2 0 1 1-1 0 1 0 2-2 3-3 3-2 4 0 5-2 5-1 4-4 5 0 3 3 5 2 4 1 1 2 0 3 2 4 2 2 2 3 2 1 2 6 2 4 2 3 0 2 3 5 3 3 2 2 4 6 2 3 2 3 1 5 2 5 1 3 2 4 1 5 1 4 2 3-1 2 2 5 2 2 2 1 4 3 0 3 0 2 1 3 2 1 1 3 3-3-2-5-2-5-2-6-2-6-6-4-1-3-3-3-3-3-1-3 0-1 4-2 4-1 4-2 5 0 3-3 2-1-1-3-2-3-3-3-2-3-2-2-3-4-3-2-4-4-1-4-1-3 1-3 2-2 2-1 3-4 4 0 3-3 3-5 3-5 2-2 1-4-2-1-2-2-5-1-5-2-4-1 0-5 1-3 1-5 2-4 4-2 2-4 2-2 2-3 1-3 1-3-3-1-6 3-4-3 4-1 6 4 4 2-2 4 1 4-1 3-1 3-3 6-4 3-1 4-1 3 1 6 0 4 1 0 4 1 5 2 2 4 2 2 4 4 1 3-4 2-3 1-1 3-5 3-2 2-2 1-6 2-4 3-5 3 0 3-2 2 0 3 0 3 2 3 1 3 2 3 2 4 4 5 1 1 2 3 4 3 4 1 1 1 3 1 0-1 3-5-2-9-2-1-2-1 2 3 3 5 2 4 4 4 2 3 1 3-1 4 0 5-1 4-2 3-2 3-2 3-2 4-1 3-3 5 0 3-3 0-3-1-3 1-2 0-3-3-3 0-4-3-3-5-3-2-3-2-5 0-3 0-2 1-4 3-1 1-1 4 0 6-3 4-1 1-5 0-3 0-5-1-3-1-4-1-5-2-4-4-3 0-4-1-2-4-2-4-1-4 0-4 3-4-2-2-1 2-4 2-2 4-1 1-6 2-2 3-4 4-4 1-3-2-1-3 0-4 0-9 0-2 0-2-1-4 1-4-1-4 0-4 0-4-1-4-1-4 2-6-3-5 0-5 1-6 2-3 1-3-2-3 0-4-1-3-1-1-1-3 0-2 0-1 0 2-1 1 0 2-2 6-1 5-1 6-3 7-1 5-2 4-2 4 0 5 1 0 3-1 1 0 2-2 0-2 3-3 2-2 0-4 2-3 3-1 0-1 2-3 1-2 2-6 2-3 2-3 2-5 5-4 2-4 1-3 3-3 1-4 4-4 2-2 1-4 4-4 1-4 3-3 3-6 3-3 1-3 2-1 2-3 2-6 2-2 2-3 2-2 3-2 1-1 1-3 1-1 1-1 0-4 5 2 2 4 1 4 0 6 1 4-2 4-1 6 3 1 3-1 3-1 2-1 4-4 5-2 3-1 5 0 3-3 3-4 2 0 2-1 5 3 1 1 7 3 8 9-8 1-3 0-1 1-2 2-2 1-3 3-2 1-2 0-3 3-2 1-5 4-2 2-3 5-3 3-3 3-6 1-2 1-2 3-5 3-4 3-3 4-4 2-5 0-3 1-4 4-4 2-3 3-4 1-4 2-3 3-2 3-4 1-5 1-4 2-3 2-3 2-1 1-4 2-1 1-4 2-4 1-3 1 0 2-3 0-3-1-1-2 0-2 0 1-1-4-1-2-1-2 1-4 1-4 1-3 3-2 2-5 1-5 3-4 0-6 4-6 3-4 3-6 4-3 2-3 4-6 1-5 0-3 3-5 4-5 2-1 1-2 2-2 0-1 4-1-1-2 0 3 2 2 1 1-1-1 0 3 0 2-1 1-2 2-2 4 0 3-1 4 1 2-2 3-2 4 0 2-2 5-1 4 0 4-2 6-2 4-2 4 0 3-3 4 0 5-1 5-1 4-2 5-2 5-2 3 0 4-1 5-2 4-2 4-2 3-1 6 0 4-3 4-2 4-2 3-1 2 0 2-1 4-3 2-2 5-1 2 0 3 1 1 0 0-1 6-3 2 0-2-2-4 3-5 0-9 2-7 0-9 1-4 0-1 1-3-1-5-1-1-2-4 1-4 1-4-1-3-2-5 0-3-1-4-1-3-1-6-1-3 0-5 0-4 1-7 0-3-1-4 0-3 0-4 1-4-2-3 1-5 1-4-2-3 2-3 1-3 0-3 0-1 2-2 2-2 1-1 0-1 2-2 4 1 2-1 2 1 2-2 5 1 2 1 3 1 3-3 4 0 3 2 4 0 3 2 3 0 7 1 4 3 5 1 5 1 5 1 3 1 4 2 6-1 4 5 3 1 3 2 5 1 5 1 6 1 2 1 5 2 2 3 4 3 3-1 3 2 2 2 3 1 1 2 3 2 1 2 1 1 0 2 1 1 0 3-1 3 0 3-1 3-2 4-2 4-2 3-2 5-1 3-3 4-5 3-2 3-2 3-3 2-4 4-6 3-2 3-4 4-1 2-5 2-3 3-5 1-4 2-3 0-2 2-2 0-3-1-1-1-1-1-2-1-1-2-1-3-2-3 0-2 3-3-2-3-1-4 0-1-1-4 0-3 0-4-2-4-1-5 0-4 0-4-2-3 1-7 0-2-1-6-1-6 1-3 2-5-1-4 0-2 1-4 1-6-1-5 1-3 0-4-1-2 0-3 0-2 0-3 0-3 0-3-1-12 7 8 5 1 0 2 1 3-2 2 2 2-1 4 0 2 0 3 0 5 1 4 0 4 2 4-1 4 0 4 1 3-2 5 0 6 1 5 0 3 1 3 0 4 0 6 0 2 0 3-1 4 0 4 2 5-1 4 1 3-3 3-1 3 0 4-1 0-1 6 0 3-3 3-3 4-3 3-4 1-2 1-3 2-4 3-3 2-3 4-4 2-1 0-4 1-5 0-1 2-4 0-4 4 0-2 6 1 7 3 1 4 3 3 2 3 2 5 2 2 3 0 2 0 5 0 3 0 5 0 4 0 1-3 4-3 0-4 2-3 2-3 1-1 3 0 4 1 4 2 2 3 4 2 3 2 5 1 4 0 2 0 3 0 2-4 5-3 2-3 3-1 5 0 4 1 5-4 4-3 1-2-2-3 1-2-3-4-2-3-2-4-2-4-4-3-2-3-2-4-3-2-1-2-1-4 2 0 3 0 3-1 4 3 6 1 5 2 4 0 2-1-3 0-2-2-6 0-6-1-6 1-4 2-1 3 2 3 1 2 2 2 1 2 3 5 1 0 3 4 1 4 3 4 2 4 2 3 3 4 4 2 3 4 2 3 2 3 1 3 1 3-1 1-1 0-5-3-6-1-4-1-4-2-2 2-5 1-4-2-4-1-2 0-3-2-4-1-3-2-5 0-3-1-3 0-4 0-2 0-4 1-5 3-2 1-5-1-3 1-3 0-5 0-2-4-4-4-3-5-1-2-1"/>
</g>
<text x="471.55" y="290.60" font-size="8.8" font-weight="normal" text-anchor="middle" fill="#222" stroke="#222" stroke-width="0.22" >RS 21d</text>
<rect x="424.50" y="299.60" width="93.30" height="87.80" fill="#995a7a"/>
<rect x="446.0" y="319.0" width="48.30" height="49.70" fill="#ab5c6c"/>
<rect x="428.60" y="303.70" width="85.10" height="79.60" fill="none" stroke="#f01ef0" stroke-width="6.00"/>
<g transform="scale(.5)" stroke="#f01ef0" stroke-width="1.90" fill="none" stroke-linejoin="round">
<path d="M856 628l-1 2 0 3-1 4 1 5 0 4 0 5 1 3 2 3 1 5 3 3 3 3 3 3 0 4 2 6-1 3-3 4-5 3-2 3 0 4 0 4 0 5 2 3-1 4-2 3-1 3 1 3 3 2 3 4 1 1 2 4-1 4-4 5-2 4 0 3-1 6 2 2 4 3 6 3 5 1 4-2"/>
<path d="M911 610l2 3 5-1 5 1 6 3 4 0 4 0 5-1 2-3 3-2 5-2 3-3 5 2 3 2 3 4 3 1 2 1 1 1 5-3 5-1 4 0 3 2 5-1 3 0 4 2 4-2 8-1 2-2 3-2 2-3 1 1 6 1 0 2 2 7 0 2-3 4-2 3-5 3-1 3 1 3 0 4 2 4 4 1 3 1 0 3-3 4-3 3-2 4-1 3-3 4 0 4 1 4 4 3 2 4 2 3-1 3 2 3 3 3 0 2 1 6-2 2 0 3 0 4 0 4-1 4-3 3-1 3-3 3-1 4 1 3-2 5 0 4 3 4 2 4-2 4 2 5 0 6 1 2-3-1-4-1-6-2-2-1-2 1-2 5-2 3-2-3-3-1-3-3-6-3-5-1-2-3 0 3 0 6-2 4-2 1-3 0-6-2-3-2-3-2-5-2-4-3-2-3"/>
<path d="M861 689l3 3 3 4-1 4-1 3-1 2 0 4-1 5 2 4 0 3-1 5-1 3-1 4 2 2 1 6-1 1-1 4-2 5 0 6 1 4 2 1 5-4 5-1 2 3 4 3 2 4 3 3 4-1 2-1 5 0 3-3 3-3 1-2 5-3 4-1 3 0 3 1 3 0 4 0 4 1 5 2 3-1 4 3 4 1 3 2 2 2 3 2 3-1 4-1 4-2 3-3 3 1 3 2 3-1 3 0 4-1 5-1 3 1 2-1 4 3 4 2 4 2 3 0 6 0 2 0 2-2 0-3 0-4 1-4 1-5-1-3 2-3 2-3-1-4 2-3-1-2-3-4-1-3 0-4-2-3 2-3 1-3 3-2 1-3 0-4 1-6-1-3-3-3-2-3"/>
<path d="M1022 652l-3 2-2 5 1 4 1 2 3 2 3 3 1 3 2 3-2 2-3 4-3 3 0 2 1 3 2 5 2 5 1 3 1 4-4 5 1 3 1 4 0 4-1 4-2 4-4 0-1 4 2 1 2 3 0 6 1 2 0 3-2 3-3 4-5 2-4 2-4-2-4 0-4-2-4 0-3-1-5-2-3 1-5 2-3 2-3 2-4-2-4-2-5-3-3 1-2 3-1 5-3 3-3 0-4 0-4 0-3-2-3 0-5-1-5-1-4 0-3 0-5-1-3-1-2 1-5 1-3 4-5 1-3 2-3-4-1-5-1-3-5 1-4 2-5 1-5 1-3 1-2-1-1-2 1-5 0-6 1-2 0-2"/>
<path d="M862 686l-1 1 0 4 0 2-1 7 0 3 1 4-1 5 1 3 1 4 0 5 0 5 0 5 0 3 0 3 2 4-2 3-1 4-1 3 2 2 5 0 4 2 4-3 5 0 4 2 2 3 0 4 3 0 5 1 3-1 5 1 4 0 5-2 3-2 2-5 2-1 2-1 4-1 3 3 3 2 5 3 1 1 4 0 6 1 4 0 5-3 4-2 3-2 2 1 5 2 4 1 5-1 5 1 2 1 4 1 3 1 4 1 5 1 2 3 5-1 4 0 5-1 3-2 0-5-1-3 0-5-1-2 2-5 0-2 3-1 2-4 1-2"/>
<path d="M1018 760l-4 0-5-1-5-1-3 1 0 5-4 3-3-1-4 0-3-1-5-1-3-2-3-2-1-3-5-2-4 3-4 1-4 1-4 3-1 1-5-1-3-1-4-3-4 0-3-2-2 0-5 2-5 1-2 4-3 1-2 0-3-1-3-1-3-3-3-4-1-1-5 0-2 2-5 0-6 1-4 2-4 2-4 2-5 2-2-4 0-5 0-5-2-4-2-5-3-2 1-4 0-3 0-3 1-4 1-3 2-2 1-7 1-3 2-2-2-4-3-3-2-3-1-6 1-2 5-4 2-2 2-2-1-4-3-5-1-3-2-3-4-4-1-3 1-3 5-5 2-4-2-5 0-4 1-4 0-3-2-3-2-5-1-5 0-3-1-5 2-4 4 2 4-2 7-1 0-1 3 4 5 4 4 2 4-3 3-1 5-1 5-1 3-1"/>
</g>
<g fill="#995a7a"><ellipse cx="429.1" cy="352.1" rx="0.9" ry="3.0"/><ellipse cx="513.5" cy="336.6" rx="0.9" ry="4.2"/><ellipse cx="500.1" cy="382.4" rx="3.0" ry="0.8"/><ellipse cx="470.1" cy="382.0" rx="3.5" ry="1.4"/><ellipse cx="513.8" cy="353.5" rx="1.4" ry="2.0"/><ellipse cx="477.4" cy="381.3" rx="4.3" ry="1.3"/><ellipse cx="513.9" cy="366.7" rx="1.1" ry="1.6"/><ellipse cx="511.9" cy="338.6" rx="0.9" ry="3.9"/><ellipse cx="428.2" cy="379.5" rx="0.8" ry="2.9"/><ellipse cx="512.2" cy="310.1" rx="0.8" ry="1.7"/><ellipse cx="430.8" cy="346.8" rx="1.1" ry="1.5"/><ellipse cx="470.0" cy="306.2" rx="4.0" ry="1.0"/><ellipse cx="437.5" cy="304.7" rx="3.7" ry="1.3"/><ellipse cx="511.2" cy="331.8" rx="1.2" ry="4.3"/><ellipse cx="514.5" cy="342.6" rx="1.1" ry="2.8"/><ellipse cx="431.0" cy="381.4" rx="1.4" ry="4.5"/><ellipse cx="514.3" cy="351.0" rx="1.4" ry="2.9"/><ellipse cx="427.5" cy="326.7" rx="0.9" ry="3.5"/><ellipse cx="430.7" cy="339.2" rx="0.9" ry="2.8"/><ellipse cx="511.5" cy="359.3" rx="0.7" ry="4.2"/><ellipse cx="430.3" cy="343.6" rx="1.3" ry="2.8"/><ellipse cx="476.2" cy="381.9" rx="2.4" ry="1.3"/><ellipse cx="507.7" cy="306.3" rx="2.3" ry="1.1"/><ellipse cx="429.6" cy="305.8" rx="1.3" ry="3.4"/><ellipse cx="467.7" cy="305.8" rx="2.9" ry="1.0"/><ellipse cx="430.5" cy="327.2" rx="0.7" ry="2.7"/><ellipse cx="435.9" cy="304.8" rx="4.5" ry="1.4"/><ellipse cx="511.9" cy="357.0" rx="1.1" ry="3.8"/><ellipse cx="512.0" cy="341.1" rx="1.3" ry="2.4"/><ellipse cx="429.6" cy="333.7" rx="1.1" ry="2.5"/><ellipse cx="433.8" cy="306.0" rx="4.1" ry="1.2"/><ellipse cx="430.3" cy="366.7" rx="1.0" ry="1.5"/><ellipse cx="448.4" cy="384.2" rx="2.5" ry="0.8"/><ellipse cx="479.2" cy="381.1" rx="1.9" ry="1.3"/><ellipse cx="457.4" cy="382.8" rx="1.9" ry="0.8"/><ellipse cx="513.2" cy="359.6" rx="0.8" ry="4.2"/><ellipse cx="440.8" cy="305.7" rx="3.1" ry="1.2"/><ellipse cx="511.6" cy="325.7" rx="1.2" ry="3.3"/><ellipse cx="430.9" cy="377.1" rx="1.3" ry="2.3"/><ellipse cx="429.5" cy="316.0" rx="1.0" ry="3.6"/></g>
<g transform="scale(.5)" stroke="#f01ef0" stroke-width="1.90" fill="none" stroke-linejoin="round">
<path d="M1019 696l0 2 1 4 0 5-1 3-5 2-6 0-5-1 1 3 2 2 2 4 0 4 3 4 3 2 4 4 5 2 3 3 3 2 2 2 1-1-1-3-1-1-1-1-4-5-2-4-3-4-4-5-1-3-2-3-3-2 0-5 0-3-1-4-2-4-3-3-2-3-6-2-3-3 0-4-1 0 1-2 4-3 5-3 4-1 2-2 3-2 3-1 4-3 2-2 2-2-1-4-3-3-3-3 0-4-2-3-1-2-1-3 0-1 2-5 1-5 3-3 4-3-1-3-3-1-3-4-5-1-5 0-5-1-3 1-5 1-2 2-4 2-3 4-3 5-3 4-1 1-3 1-2-2 1-3 0-5-1-4 0-4-3-3-3-2-4-2-6-1-4-1-4 2-1 5 0 4-1 3 0 3-1 4-1 5-2 5-1 4 0 1-3 3-4 5-2 2-4 1-1-1-2 1-4-3-2 0-5-4-4-3-5-3-2-1 0-3-3-2-5-3-2-2-4-3-4-2-4-2-4-2-4-3-3-2-2-3-1 0-4-3-3-1-2-1-2 0-1 3 0 1 2 5 4 3 2 6 0 4 0 4 1 4 0 5-2 4 1 3 1 4 2 3 3 3 1 3 3 3 2 3 1 2 0 6 0 3 3-1 2-6-3-1-2-3-2-1-5-4-1-2-2-4-4-2-2-3-3-2-1-3 0-3 4-2 6-2 3-5 0-2 1-5-2-4-3-4-1-4 3-1 2-2 3 2 2 0 5 0 5-1 4 3 4-2 3 0 2-2 1-4 5-1 2 2 2 2 3 2 5 4 2 3 2 3 4 3 2 1 2 4 2 0 3-1 1-4 4-3 1 0 5 0 4-1 5 0 3 0 5 0 3 0 6-1 4 0 4-2 2 0 3-3-1-7-7 7-1 2 0 4 1 1-1 4 1 3-1 3-1 4 1 5 0 4-1 4-2 5 1 3-1 6-2 6 0 4-1 3-1 7-1 5 0 3-1 5 2 4-1 5-1 5-1 3 2 5-1 4-2 3 0 3-2 4-2 1 1 4-1 1-1 3 0 1-1 1-2 3-1 0-2 0-1-1-2 0 0-2 0-3 0-4-1-1 2-6-3-3-2-2-3-5 0-5-2-4-2-3-2-4-2-5 0-4-1-3-1-7 1-4-2-5-3-1 0-6-1-6-1-4-3-5 0-4-4-5-1-4-1-2-1-1-1-3-2-6-2-1 0-3-1-1-2-2-1 1-2-1-2 2-1 3-2 4-1 3-2 4-3 2 0 3-3 4-2 6-2 5-2 4-3 5-1 4-1 6-2 2 0 5-1 4 2 2-4 4-2 0 3 4 3-2 6-3 4-5 2-4 2-5 0-1-2-2-2-2-4-1-4-3-4-2-2-3-3-2-4-3-3-4-2-2-2-2 0-3-3-4-2-5-1-5 1-5-1-2 1-2 0-1-1-1 4 0 1 1 3 2 1 4 3 1 3 3 3 5 3 3 3 3 2 3 2 3 3 4 1 4 0 2 1 3-2 3-1 2-4 1-4 2-4 2-5 2-1 3-1 0-1 3 2 3 2 3 5 2 2 3 3 3 5 2 3 3 3 1 3 2 1 4-1 3-1 2-3 3-1 3-3 2-1 3-5 2-3 2-3 4-5 3-2 5-3 1-1 4-1 1-3 1 1 1 3 1 6-1 5-1 5 0 4 0 1 1-2 2-2 2-5 2-5 2-3 3-4 2-2-2 1 0-2-3 0-2 0-4 2-4 3-7 2-2 2-4 3-3 4-2 1-3 3-4 3-3 3-3 4-3 3-3 3-2 3-2 2-1 1 0-1 1-2 1-2 2-2 2-1 4-4 2-3 3-5 5-2 2-4 4-2 4-1 1-2 5 0 5 0 4 3 4 1 2 4-3 3-2 2-2 4-1 5-4 1-2 3 2 2-2 3 1 1 3 1 6-2 6 0 3 1 4 2 2 2 0 4-1 4-1 4-3 4-2 1-2-1-3-3-4-3-3-3-1-2 3 2 5 1 6 1 5 3 1 2-2 2-2-1-3 1-5 1-3 2-5 2-3 2-5 1-4 1-4 2-2 1-4 1 0 2 2 2 4 2 4 0 5 2 4 2 6 2 2 0 1 3 0 1-2-1-6 0-5 3-4 2-5 1-2 2-1 3 0 3 2 0 2 3 1 3 4 2 4 4 6 2 4 2 4 4 1 0 4 2 1 3 2-1-4-3-8-2-6 1-5-1-2 4 2 1 1 3 3 4 3 4 1 4 2 4 4 2 1 3 4 5 1 2 3 2 1 3-2 4-5-2-6-3-3-1-2-5-3-2-2-3-5-3-1-3-5-4-4-3-4-1-3-2-4 0-3-1-1 3 1 2 1 6 0 4 0 6 2 6 1 4 1 3-3 0-1-2 0-2-1-2-1-4-2-3-2-4-3-3-3-6-3-5-1-4-1-1-4-4-1 0-2-3-2 0-3 2-3 3-1 3-1 5-2 5-2 4 1 4-3 2-3 3-2 2-1 5-3 2-6 0-2-1-3-1-2-4-1-6 0-4-1 0-2-1-3 1-4 1-4 2-4 1-3 1-4 2-5 0-5 0-4-1-1 0-3-2-2-5 1-2 1-3 3-6 3-3 1-4 1-3 2-3 1-3 2-3 4-4 4-1 2-4 3-3 1-3-1-4-1-2-1-3-4-3-4-5-4-1-3-1-5 1-1 1-1 3 1 6 0 5-1 3 1 2 3 1 3 2 3-1 4-1 3-2 6-1 4-2 4-1 4 0 4 1 1 2 1 2-2 1 0 2-1 2-3 3-2 4-4 0-4 3-5 3-2 2-4 4-4 3-4 3-2 3-3 1-1 1-2 7-4 3 0 3 0 2 1 2 1 1 3 2 8 0 2-1 3 0 5 0 3 0 4-2 4 0 5-3 4-2 3-1 1-3 3-5 5-1 3-4 1-4 5-3 2-4 0 0 1 0 2 1 0 3 1 3 1 5-2 5 0 5-1 4 1 5 1 3 0 1-1-2 0-4 2-2 1-5 1-3 1-5 5-3 2-3 2-2 3 2 0 2 0 3 2 4 1 5 1 5 3 4 3 2 1 5-1 2-1 2 4-1 1-3 1-4 2-5 0-5 3-4 1 1 2 1 2 1 2 2 4 4 2 2 3 3 5 4 2 3 3 2 3 0 2 2 3 2 4 0 4-2 6-3 4-5-2-3 2-2-3-3-1-4-3-3-2-4-3-1-4-3-2-3-3-6-3-3-1-4-2-4-3-2-2-3-3-3-2-2-1 0-1-1-1-1 5 2 2 2 6 1 3 0 7 1 5 2 6 2 4 1 2 0 5 1 3 3 0-1-1-3 1 0-3-4-3 0-5-4-7-4-5-1-3-2-3-1 0-3-1-2-1-1 2-2 5-4 4-1 2-3 3-4 3-4 2-4 2-4 2 0 1 1 0 3 0 4 1 5 1 7-1 3-1 6-1 1 2 5 0 5-3 4 0 2-2 3 0"/>
</g>
<text x="471.55" y="398.40" font-size="8.8" font-weight="normal" text-anchor="middle" fill="#222" stroke="#222" stroke-width="0.22" >MS+ RS 21d</text>
<path d="M37.30 646.40 L37.36 644.09 L37.55 641.78 L37.87 639.49 L38.32 637.21 L38.88 634.96 L39.58 632.74 L40.39 630.56 L41.32 628.42 L42.37 626.33 L43.53 624.30 L44.80 622.33 L46.18 620.42 L47.66 618.58 L49.24 616.82 L50.92 615.15 L52.69 613.55 L54.54 612.05 L56.47 610.64 L58.47 609.33 L60.55 608.12 L62.69 607.02 L64.89 606.02 L67.14 605.14 L69.43 604.36 L71.76 603.71 L74.13 603.17 L76.53 602.74 L78.94 602.44 L81.37 602.26 L83.80 602.20 L83.80 611.30 L81.87 611.35 L79.94 611.49 L78.03 611.73 L76.13 612.07 L74.25 612.50 L72.40 613.02 L70.58 613.63 L68.79 614.33 L67.05 615.13 L65.35 616.00 L63.70 616.96 L62.11 618.00 L60.58 619.12 L59.11 620.32 L57.71 621.58 L56.38 622.91 L55.12 624.31 L53.95 625.77 L52.85 627.28 L51.84 628.85 L50.92 630.46 L50.09 632.12 L49.35 633.82 L48.71 635.55 L48.16 637.32 L47.71 639.10 L47.35 640.91 L47.10 642.73 L46.95 644.56 L46.90 646.40Z" fill="#c41414"/>
<path d="M83.80 602.20 L86.23 602.26 L88.66 602.44 L91.07 602.74 L93.47 603.17 L95.84 603.71 L98.17 604.36 L100.46 605.14 L102.71 606.02 L104.91 607.02 L107.05 608.12 L109.13 609.33 L111.13 610.64 L113.06 612.05 L114.91 613.55 L116.68 615.15 L118.36 616.82 L119.94 618.58 L121.42 620.42 L122.80 622.33 L124.07 624.30 L125.23 626.33 L126.28 628.42 L127.21 630.56 L128.02 632.74 L128.72 634.96 L129.28 637.21 L129.73 639.49 L130.05 641.78 L130.24 644.09 L130.30 646.40 L120.70 646.40 L120.65 644.56 L120.50 642.73 L120.25 640.91 L119.89 639.10 L119.44 637.32 L118.89 635.55 L118.25 633.82 L117.51 632.12 L116.68 630.46 L115.76 628.85 L114.75 627.28 L113.65 625.77 L112.48 624.31 L111.22 622.91 L109.89 621.58 L108.49 620.32 L107.02 619.12 L105.49 618.00 L103.90 616.96 L102.25 616.00 L100.55 615.13 L98.81 614.33 L97.02 613.63 L95.20 613.02 L93.35 612.50 L91.47 612.07 L89.57 611.73 L87.66 611.49 L85.73 611.35 L83.80 611.30Z" fill="#5c5cec"/>
<path d="M130.30 646.40 L130.24 648.71 L130.05 651.02 L129.73 653.31 L129.28 655.59 L128.72 657.84 L128.02 660.06 L127.21 662.24 L126.28 664.38 L125.23 666.47 L124.07 668.50 L122.80 670.47 L121.42 672.38 L119.94 674.22 L118.36 675.98 L116.68 677.65 L114.91 679.25 L113.06 680.75 L111.13 682.16 L109.13 683.47 L107.05 684.68 L104.91 685.78 L102.71 686.78 L100.46 687.66 L98.17 688.44 L95.84 689.09 L93.47 689.63 L91.07 690.06 L88.66 690.36 L86.23 690.54 L83.80 690.60 L83.80 681.50 L85.73 681.45 L87.66 681.31 L89.57 681.07 L91.47 680.73 L93.35 680.30 L95.20 679.78 L97.02 679.17 L98.81 678.47 L100.55 677.67 L102.25 676.80 L103.90 675.84 L105.49 674.80 L107.02 673.68 L108.49 672.48 L109.89 671.22 L111.22 669.89 L112.48 668.49 L113.65 667.03 L114.75 665.52 L115.76 663.95 L116.68 662.34 L117.51 660.68 L118.25 658.98 L118.89 657.25 L119.44 655.48 L119.89 653.70 L120.25 651.89 L120.50 650.07 L120.65 648.24 L120.70 646.40Z" fill="#1f48ee"/>
<path d="M83.80 690.60 L81.37 690.54 L78.94 690.36 L76.53 690.06 L74.13 689.63 L71.76 689.09 L69.43 688.44 L67.14 687.66 L64.89 686.78 L62.69 685.78 L60.55 684.68 L58.47 683.47 L56.47 682.16 L54.54 680.75 L52.69 679.25 L50.92 677.65 L49.24 675.98 L47.66 674.22 L46.18 672.38 L44.80 670.47 L43.53 668.50 L42.37 666.47 L41.32 664.38 L40.39 662.24 L39.58 660.06 L38.88 657.84 L38.32 655.59 L37.87 653.31 L37.55 651.02 L37.36 648.71 L37.30 646.40 L46.90 646.40 L46.95 648.24 L47.10 650.07 L47.35 651.89 L47.71 653.70 L48.16 655.48 L48.71 657.25 L49.35 658.98 L50.09 660.68 L50.92 662.34 L51.84 663.95 L52.85 665.52 L53.95 667.03 L55.12 668.49 L56.38 669.89 L57.71 671.22 L59.11 672.48 L60.58 673.68 L62.11 674.80 L63.70 675.84 L65.35 676.80 L67.05 677.67 L68.79 678.47 L70.58 679.17 L72.40 679.78 L74.25 680.30 L76.13 680.73 L78.03 681.07 L79.94 681.31 L81.87 681.45 L83.80 681.50Z" fill="#d7c7ef"/>
<ellipse cx="83.80" cy="646.40" rx="46.5" ry="44.2" fill="none" stroke="#3c3c5a" stroke-width="0.9"/>
<ellipse cx="83.80" cy="646.40" rx="36.9" ry="35.1" fill="none" stroke="#3c3c5a" stroke-width="0.9"/>
<path d="M83.8 607.0 L82.0 607.1 L80.2 607.0 L78.3 606.9 L76.6 607.4 L74.8 607.8 L73.1 608.4 L71.5 609.2 L69.7 609.6 L68.1 610.4 L66.6 611.3 L64.9 611.8 L63.1 612.4 L61.5 613.1 L59.9 613.9 L58.4 615.0 L56.8 615.8 L55.6 617.1 L54.4 618.5 L53.3 619.9 L52.6 621.5 L51.6 622.9 L50.6 624.3 L49.4 625.6 L48.4 627.0 L47.3 628.3 L46.2 629.7 L45.2 631.2 L44.6 632.8 L44.0 634.5 L43.6 636.2 L43.3 637.9 L43.3 639.6 L43.2 641.3 L42.9 643.0 L42.8 644.7 L42.9 646.4" stroke="#f01ef0" stroke-width="1.6" fill="none" opacity="1.0" stroke-linejoin="round"/>
<path d="M83.8 607.0 L85.6 606.4 L87.5 606.5 L89.3 606.5 L91.1 606.8 L92.9 607.4 L94.5 608.4 L96.3 608.8 L97.9 609.7 L99.6 610.2 L101.1 611.2 L102.7 611.8 L104.5 612.2 L106.4 612.7 L107.8 613.8 L109.2 614.9 L110.7 615.9 L112.1 617.0 L113.3 618.3 L114.5 619.7 L115.3 621.3 L116.4 622.6 L117.6 623.9 L118.5 625.4 L119.4 626.9 L120.3 628.3 L121.6 629.7 L122.2 631.3 L123.0 632.8 L123.5 634.5 L123.9 636.2 L124.2 637.9 L124.4 639.6 L124.8 641.3 L124.9 643.0 L125.2 644.7 L125.2 646.4" stroke="#f01ef0" stroke-width="2.6" fill="none" opacity="0.4" stroke-linejoin="round"/>
<path d="M125.5 646.4 L125.8 648.1 L126.0 649.9 L125.7 651.6 L125.1 653.3 L124.5 655.0 L123.9 656.6 L123.4 658.3 L122.8 659.9 L121.9 661.4 L121.0 662.9 L120.4 664.5 L119.4 665.9 L118.7 667.5 L118.1 669.3 L117.2 670.7 L116.1 672.2 L114.6 673.2 L113.2 674.4 L111.6 675.3 L110.1 676.2 L108.7 677.2 L107.2 678.2 L105.8 679.3 L104.5 680.4 L102.9 681.3 L101.4 682.4 L99.9 683.4 L98.2 683.9 L96.4 684.5 L94.6 684.8 L92.8 685.2 L91.0 685.1 L89.2 685.1 L87.4 685.2 L85.6 685.3 L83.8 685.5" stroke="#f01ef0" stroke-width="1.6" fill="none" opacity="1.0" stroke-linejoin="round"/>
<path d="M83.8 685.8 L82.0 686.5 L80.2 685.5 L78.4 685.7 L76.8 684.4 L75.0 684.2 L73.0 684.7 L71.4 683.8 L69.9 682.8 L68.2 682.1 L66.6 681.4 L65.0 680.8 L63.5 679.8 L61.5 679.7 L59.6 679.2 L58.3 678.0 L56.8 677.0 L55.3 675.9 L53.9 674.9 L52.8 673.4 L51.7 672.0 L51.1 670.3 L50.7 668.4 L49.9 666.9 L48.2 665.9 L46.8 664.7 L45.9 663.2 L45.4 661.5 L44.6 660.0 L43.2 658.6 L42.3 657.0 L43.0 655.0 L43.1 653.2 L44.0 651.4 L44.4 649.7 L43.9 648.1 L43.5 646.4" stroke="#f01ef0" stroke-width="1.2" fill="none" opacity="0.95" stroke-linejoin="round"/>
<path d="M83.8 685.3 L82.0 684.8 L80.3 684.4 L78.7 683.3 L77.0 682.9 L75.3 682.7 L73.3 683.5 L71.7 682.9 L70.1 682.2 L68.4 681.8 L66.8 681.1 L65.3 680.2 L63.8 679.3 L62.3 678.4 L60.9 677.5 L59.6 676.4 L58.5 675.0 L56.2 675.1 L54.9 673.9 L54.0 672.3 L52.6 671.3 L51.7 669.8 L49.7 669.1 L49.1 667.4 L48.5 665.8 L47.4 664.4 L45.7 663.3 L45.4 661.5 L44.3 660.1 L44.1 658.3 L43.4 656.7 L43.7 654.9 L43.0 653.2 L41.9 651.6 L41.1 649.9 L41.6 648.2 L42.4 646.4" stroke="#f01ef0" stroke-width="1.2" fill="none" opacity="0.95" stroke-linejoin="round"/>
<text x="84.30" y="700.70" font-size="8.8" font-weight="normal" text-anchor="middle" fill="#222" stroke="#222" stroke-width="0.22" >RS 0d</text>
<path d="M37.30 753.80 L37.36 751.51 L37.55 749.22 L37.87 746.95 L38.32 744.69 L38.88 742.46 L39.58 740.27 L40.39 738.10 L41.32 735.98 L42.37 733.92 L43.53 731.90 L44.80 729.94 L46.18 728.06 L47.66 726.24 L49.24 724.49 L50.92 722.83 L52.69 721.25 L54.54 719.76 L56.47 718.37 L58.47 717.07 L60.55 715.87 L62.69 714.77 L64.89 713.79 L67.14 712.91 L69.43 712.14 L71.76 711.49 L74.13 710.96 L76.53 710.54 L78.94 710.24 L81.37 710.06 L83.80 710.00 L83.80 719.10 L81.87 719.15 L79.94 719.29 L78.03 719.53 L76.13 719.86 L74.25 720.28 L72.40 720.80 L70.58 721.40 L68.79 722.10 L67.05 722.88 L65.35 723.75 L63.70 724.70 L62.11 725.73 L60.58 726.83 L59.11 728.01 L57.71 729.26 L56.38 730.58 L55.12 731.96 L53.95 733.40 L52.85 734.90 L51.84 736.45 L50.92 738.05 L50.09 739.69 L49.35 741.36 L48.71 743.08 L48.16 744.82 L47.71 746.59 L47.35 748.37 L47.10 750.17 L46.95 751.98 L46.90 753.80Z" fill="#c41414"/>
<path d="M83.80 710.00 L86.23 710.06 L88.66 710.24 L91.07 710.54 L93.47 710.96 L95.84 711.49 L98.17 712.14 L100.46 712.91 L102.71 713.79 L104.91 714.77 L107.05 715.87 L109.13 717.07 L111.13 718.37 L113.06 719.76 L114.91 721.25 L116.68 722.83 L118.36 724.49 L119.94 726.24 L121.42 728.06 L122.80 729.94 L124.07 731.90 L125.23 733.92 L126.28 735.98 L127.21 738.10 L128.02 740.27 L128.72 742.46 L129.28 744.69 L129.73 746.95 L130.05 749.22 L130.24 751.51 L130.30 753.80 L120.70 753.80 L120.65 751.98 L120.50 750.17 L120.25 748.37 L119.89 746.59 L119.44 744.82 L118.89 743.08 L118.25 741.36 L117.51 739.69 L116.68 738.05 L115.76 736.45 L114.75 734.90 L113.65 733.40 L112.48 731.96 L111.22 730.58 L109.89 729.26 L108.49 728.01 L107.02 726.83 L105.49 725.73 L103.90 724.70 L102.25 723.75 L100.55 722.88 L98.81 722.10 L97.02 721.40 L95.20 720.80 L93.35 720.28 L91.47 719.86 L89.57 719.53 L87.66 719.29 L85.73 719.15 L83.80 719.10Z" fill="#5c5cec"/>
<path d="M130.30 753.80 L130.24 756.09 L130.05 758.38 L129.73 760.65 L129.28 762.91 L128.72 765.14 L128.02 767.33 L127.21 769.50 L126.28 771.62 L125.23 773.68 L124.07 775.70 L122.80 777.66 L121.42 779.54 L119.94 781.36 L118.36 783.11 L116.68 784.77 L114.91 786.35 L113.06 787.84 L111.13 789.23 L109.13 790.53 L107.05 791.73 L104.91 792.83 L102.71 793.81 L100.46 794.69 L98.17 795.46 L95.84 796.11 L93.47 796.64 L91.07 797.06 L88.66 797.36 L86.23 797.54 L83.80 797.60 L83.80 788.50 L85.73 788.45 L87.66 788.31 L89.57 788.07 L91.47 787.74 L93.35 787.32 L95.20 786.80 L97.02 786.20 L98.81 785.50 L100.55 784.72 L102.25 783.85 L103.90 782.90 L105.49 781.87 L107.02 780.77 L108.49 779.59 L109.89 778.34 L111.22 777.02 L112.48 775.64 L113.65 774.20 L114.75 772.70 L115.76 771.15 L116.68 769.55 L117.51 767.91 L118.25 766.24 L118.89 764.52 L119.44 762.78 L119.89 761.01 L120.25 759.23 L120.50 757.43 L120.65 755.62 L120.70 753.80Z" fill="#1f48ee"/>
<path d="M83.80 797.60 L81.37 797.54 L78.94 797.36 L76.53 797.06 L74.13 796.64 L71.76 796.11 L69.43 795.46 L67.14 794.69 L64.89 793.81 L62.69 792.83 L60.55 791.73 L58.47 790.53 L56.47 789.23 L54.54 787.84 L52.69 786.35 L50.92 784.77 L49.24 783.11 L47.66 781.36 L46.18 779.54 L44.80 777.66 L43.53 775.70 L42.37 773.68 L41.32 771.62 L40.39 769.50 L39.58 767.33 L38.88 765.14 L38.32 762.91 L37.87 760.65 L37.55 758.38 L37.36 756.09 L37.30 753.80 L46.90 753.80 L46.95 755.62 L47.10 757.43 L47.35 759.23 L47.71 761.01 L48.16 762.78 L48.71 764.52 L49.35 766.24 L50.09 767.91 L50.92 769.55 L51.84 771.15 L52.85 772.70 L53.95 774.20 L55.12 775.64 L56.38 777.02 L57.71 778.34 L59.11 779.59 L60.58 780.77 L62.11 781.87 L63.70 782.90 L65.35 783.85 L67.05 784.72 L68.79 785.50 L70.58 786.20 L72.40 786.80 L74.25 787.32 L76.13 787.74 L78.03 788.07 L79.94 788.31 L81.87 788.45 L83.80 788.50Z" fill="#d7c7ef"/>
<ellipse cx="83.80" cy="753.80" rx="46.5" ry="43.8" fill="none" stroke="#3c3c5a" stroke-width="0.9"/>
<ellipse cx="83.80" cy="753.80" rx="36.9" ry="34.699999999999996" fill="none" stroke="#3c3c5a" stroke-width="0.9"/>
<path d="M83.8 715.0 L82.0 715.0 L80.2 714.9 L78.4 715.0 L76.6 715.1 L74.9 715.8 L73.2 716.5 L71.5 717.1 L69.9 717.8 L68.2 718.4 L66.6 719.1 L64.9 719.6 L63.1 720.1 L61.4 720.7 L59.8 721.6 L58.2 722.4 L56.5 723.2 L55.2 724.5 L54.2 725.9 L53.4 727.6 L52.4 729.0 L51.4 730.4 L50.4 731.8 L49.3 733.1 L48.0 734.3 L46.8 735.7 L45.9 737.2 L45.0 738.7 L44.3 740.3 L43.9 742.0 L43.4 743.6 L43.3 745.4 L43.3 747.1 L43.3 748.8 L43.3 750.5 L43.1 752.1 L42.6 753.8" stroke="#f01ef0" stroke-width="1.6" fill="none" opacity="1.0" stroke-linejoin="round"/>
<path d="M83.8 714.6 L85.6 714.4 L87.5 714.5 L89.3 714.2 L91.1 714.7 L92.9 715.2 L94.5 716.1 L96.1 717.0 L97.7 717.7 L99.5 718.2 L101.2 718.7 L102.9 719.3 L104.5 720.1 L106.4 720.5 L107.9 721.5 L109.3 722.5 L110.8 723.5 L112.0 724.8 L113.3 726.0 L114.5 727.3 L115.5 728.7 L116.6 730.1 L117.6 731.5 L118.5 733.0 L119.1 734.6 L120.1 736.0 L121.3 737.4 L122.0 738.9 L122.8 740.4 L123.6 742.0 L124.3 743.6 L124.3 745.4 L124.4 747.1 L124.6 748.7 L124.8 750.4 L124.6 752.1 L125.2 753.8" stroke="#f01ef0" stroke-width="2.6" fill="none" opacity="0.4" stroke-linejoin="round"/>
<path d="M125.2 753.8 L125.4 755.5 L125.5 757.2 L125.4 759.0 L125.2 760.7 L124.5 762.3 L123.7 763.9 L123.2 765.5 L122.3 767.0 L121.4 768.4 L120.9 770.1 L120.2 771.6 L119.9 773.4 L119.0 774.9 L118.0 776.3 L116.9 777.7 L115.7 779.0 L114.5 780.3 L113.2 781.5 L112.0 782.7 L110.4 783.7 L108.9 784.6 L107.5 785.6 L105.8 786.3 L104.3 787.2 L102.9 788.3 L101.4 789.4 L99.8 790.3 L98.2 790.9 L96.5 791.6 L94.7 791.9 L92.8 792.2 L91.0 792.1 L89.2 792.4 L87.4 792.7 L85.6 792.6 L83.8 792.6" stroke="#f01ef0" stroke-width="1.6" fill="none" opacity="1.0" stroke-linejoin="round"/>
<path d="M83.8 792.9 L82.0 792.2 L80.2 792.3 L78.3 792.8 L76.5 792.6 L74.7 792.6 L73.2 791.1 L71.3 791.1 L69.9 789.8 L68.5 788.6 L66.6 788.5 L64.8 788.2 L63.3 787.2 L61.8 786.2 L60.2 785.6 L58.5 784.8 L57.1 783.8 L56.1 782.3 L55.7 780.3 L53.7 779.8 L52.5 778.6 L51.9 776.8 L51.5 775.1 L50.4 773.8 L49.2 772.6 L48.9 770.9 L46.6 770.1 L45.3 768.8 L44.7 767.2 L43.8 765.7 L43.3 764.0 L42.5 762.4 L42.5 760.7 L41.9 759.0 L41.3 757.3 L41.8 755.5 L42.2 753.8" stroke="#f01ef0" stroke-width="1.2" fill="none" opacity="0.95" stroke-linejoin="round"/>
<path d="M83.8 792.5 L82.0 793.0 L80.2 792.6 L78.4 792.4 L76.6 792.0 L74.8 791.9 L73.2 791.1 L71.7 789.9 L69.6 790.5 L67.8 790.1 L65.9 790.0 L64.6 788.5 L63.0 787.7 L61.6 786.6 L60.3 785.4 L58.9 784.3 L57.7 783.1 L56.7 781.7 L55.4 780.5 L54.4 779.1 L53.1 778.0 L52.0 776.7 L50.1 776.0 L48.8 774.8 L48.2 773.1 L46.3 772.2 L46.0 770.4 L45.0 768.9 L46.1 766.7 L45.9 765.0 L44.7 763.7 L43.8 762.1 L44.4 760.3 L43.8 758.8 L42.8 757.2 L42.6 755.5 L42.6 753.8" stroke="#f01ef0" stroke-width="1.2" fill="none" opacity="0.95" stroke-linejoin="round"/>
<text x="84.30" y="808.50" font-size="8.8" font-weight="normal" text-anchor="middle" fill="#222" stroke="#222" stroke-width="0.22" >MS+RS 0d</text>
<path d="M134.10 646.40 L134.16 644.09 L134.35 641.78 L134.67 639.49 L135.12 637.21 L135.68 634.96 L136.38 632.74 L137.19 630.56 L138.12 628.42 L139.17 626.33 L140.33 624.30 L141.60 622.33 L142.98 620.42 L144.46 618.58 L146.04 616.82 L147.72 615.15 L149.49 613.55 L151.34 612.05 L153.27 610.64 L155.27 609.33 L157.35 608.12 L159.49 607.02 L161.69 606.02 L163.94 605.14 L166.23 604.36 L168.56 603.71 L170.93 603.17 L173.33 602.74 L175.74 602.44 L178.17 602.26 L180.60 602.20 L180.60 611.30 L178.67 611.35 L176.74 611.49 L174.83 611.73 L172.93 612.07 L171.05 612.50 L169.20 613.02 L167.38 613.63 L165.59 614.33 L163.85 615.13 L162.15 616.00 L160.50 616.96 L158.91 618.00 L157.38 619.12 L155.91 620.32 L154.51 621.58 L153.18 622.91 L151.92 624.31 L150.75 625.77 L149.65 627.28 L148.64 628.85 L147.72 630.46 L146.89 632.12 L146.15 633.82 L145.51 635.55 L144.96 637.32 L144.51 639.10 L144.15 640.91 L143.90 642.73 L143.75 644.56 L143.70 646.40Z" fill="#c41414"/>
<path d="M180.60 602.20 L183.03 602.26 L185.46 602.44 L187.87 602.74 L190.27 603.17 L192.64 603.71 L194.97 604.36 L197.26 605.14 L199.51 606.02 L201.71 607.02 L203.85 608.12 L205.93 609.33 L207.93 610.64 L209.86 612.05 L211.71 613.55 L213.48 615.15 L215.16 616.82 L216.74 618.58 L218.22 620.42 L219.60 622.33 L220.87 624.30 L222.03 626.33 L223.08 628.42 L224.01 630.56 L224.82 632.74 L225.52 634.96 L226.08 637.21 L226.53 639.49 L226.85 641.78 L227.04 644.09 L227.10 646.40 L217.50 646.40 L217.45 644.56 L217.30 642.73 L217.05 640.91 L216.69 639.10 L216.24 637.32 L215.69 635.55 L215.05 633.82 L214.31 632.12 L213.48 630.46 L212.56 628.85 L211.55 627.28 L210.45 625.77 L209.28 624.31 L208.02 622.91 L206.69 621.58 L205.29 620.32 L203.82 619.12 L202.29 618.00 L200.70 616.96 L199.05 616.00 L197.35 615.13 L195.61 614.33 L193.82 613.63 L192.00 613.02 L190.15 612.50 L188.27 612.07 L186.37 611.73 L184.46 611.49 L182.53 611.35 L180.60 611.30Z" fill="#5c5cec"/>
<path d="M227.10 646.40 L227.04 648.71 L226.85 651.02 L226.53 653.31 L226.08 655.59 L225.52 657.84 L224.82 660.06 L224.01 662.24 L223.08 664.38 L222.03 666.47 L220.87 668.50 L219.60 670.47 L218.22 672.38 L216.74 674.22 L215.16 675.98 L213.48 677.65 L211.71 679.25 L209.86 680.75 L207.93 682.16 L205.93 683.47 L203.85 684.68 L201.71 685.78 L199.51 686.78 L197.26 687.66 L194.97 688.44 L192.64 689.09 L190.27 689.63 L187.87 690.06 L185.46 690.36 L183.03 690.54 L180.60 690.60 L180.60 681.50 L182.53 681.45 L184.46 681.31 L186.37 681.07 L188.27 680.73 L190.15 680.30 L192.00 679.78 L193.82 679.17 L195.61 678.47 L197.35 677.67 L199.05 676.80 L200.70 675.84 L202.29 674.80 L203.82 673.68 L205.29 672.48 L206.69 671.22 L208.02 669.89 L209.28 668.49 L210.45 667.03 L211.55 665.52 L212.56 663.95 L213.48 662.34 L214.31 660.68 L215.05 658.98 L215.69 657.25 L216.24 655.48 L216.69 653.70 L217.05 651.89 L217.30 650.07 L217.45 648.24 L217.50 646.40Z" fill="#1f48ee"/>
<path d="M180.60 690.60 L178.17 690.54 L175.74 690.36 L173.33 690.06 L170.93 689.63 L168.56 689.09 L166.23 688.44 L163.94 687.66 L161.69 686.78 L159.49 685.78 L157.35 684.68 L155.27 683.47 L153.27 682.16 L151.34 680.75 L149.49 679.25 L147.72 677.65 L146.04 675.98 L144.46 674.22 L142.98 672.38 L141.60 670.47 L140.33 668.50 L139.17 666.47 L138.12 664.38 L137.19 662.24 L136.38 660.06 L135.68 657.84 L135.12 655.59 L134.67 653.31 L134.35 651.02 L134.16 648.71 L134.10 646.40 L143.70 646.40 L143.75 648.24 L143.90 650.07 L144.15 651.89 L144.51 653.70 L144.96 655.48 L145.51 657.25 L146.15 658.98 L146.89 660.68 L147.72 662.34 L148.64 663.95 L149.65 665.52 L150.75 667.03 L151.92 668.49 L153.18 669.89 L154.51 671.22 L155.91 672.48 L157.38 673.68 L158.91 674.80 L160.50 675.84 L162.15 676.80 L163.85 677.67 L165.59 678.47 L167.38 679.17 L169.20 679.78 L171.05 680.30 L172.93 680.73 L174.83 681.07 L176.74 681.31 L178.67 681.45 L180.60 681.50Z" fill="#d7c7ef"/>
<ellipse cx="180.60" cy="646.40" rx="46.5" ry="44.2" fill="none" stroke="#3c3c5a" stroke-width="0.9"/>
<ellipse cx="180.60" cy="646.40" rx="36.9" ry="35.1" fill="none" stroke="#3c3c5a" stroke-width="0.9"/>
<path d="M180.6 606.2 L178.7 606.1 L176.9 605.8 L175.0 605.9 L173.2 606.3 L171.4 607.0 L169.7 607.7 L167.9 608.2 L166.3 609.1 L164.7 609.9 L163.0 610.4 L161.2 611.0 L159.6 611.8 L157.8 612.4 L156.0 613.0 L154.5 614.0 L153.1 615.3 L151.8 616.5 L150.6 617.9 L149.5 619.3 L148.3 620.6 L147.3 622.1 L146.4 623.6 L145.2 625.0 L144.0 626.3 L143.1 627.8 L142.2 629.4 L141.3 630.9 L140.4 632.5 L139.8 634.2 L139.4 635.9 L139.0 637.6 L138.8 639.4 L138.8 641.2 L138.7 642.9 L138.4 644.6 L138.3 646.4" stroke="#f01ef0" stroke-width="1.6" fill="none" opacity="1.0" stroke-linejoin="round"/>
<path d="M180.6 606.4 L182.4 606.1 L184.3 606.3 L186.1 606.6 L188.0 606.4 L189.9 606.7 L191.6 607.4 L193.3 608.1 L194.9 609.1 L196.5 610.0 L198.2 610.5 L199.7 611.5 L201.5 612.0 L203.1 612.9 L204.8 613.5 L206.3 614.5 L208.1 615.3 L209.6 616.4 L210.7 617.8 L211.5 619.5 L212.5 621.0 L213.6 622.3 L214.5 623.8 L215.7 625.1 L217.0 626.4 L218.1 627.8 L219.0 629.4 L220.1 630.8 L220.8 632.5 L221.5 634.1 L221.8 635.9 L222.3 637.6 L222.3 639.4 L222.1 641.2 L222.2 642.9 L222.2 644.7 L222.2 646.4" stroke="#f01ef0" stroke-width="2.6" fill="none" opacity="0.4" stroke-linejoin="round"/>
<path d="M222.1 646.4 L222.5 648.1 L222.6 649.9 L222.3 651.6 L222.2 653.4 L221.7 655.1 L220.9 656.7 L219.8 658.2 L219.2 659.8 L218.7 661.4 L218.1 663.0 L217.4 664.6 L216.6 666.2 L215.9 667.8 L215.0 669.3 L214.0 670.7 L212.6 671.9 L211.3 673.2 L210.0 674.3 L208.6 675.5 L207.2 676.5 L205.6 677.4 L204.1 678.3 L202.6 679.3 L201.2 680.3 L199.7 681.4 L198.2 682.3 L196.6 683.1 L194.9 683.9 L193.2 684.4 L191.4 684.8 L189.6 685.0 L187.8 685.1 L186.0 685.4 L184.2 685.5 L182.4 685.6 L180.6 685.6" stroke="#f01ef0" stroke-width="1.6" fill="none" opacity="1.0" stroke-linejoin="round"/>
<path d="M180.6 684.3 L178.8 685.0 L177.0 685.0 L175.2 685.4 L173.4 685.1 L171.9 683.8 L170.4 682.7 L168.6 682.7 L166.8 682.3 L165.0 682.1 L163.4 681.4 L161.8 680.7 L160.7 679.1 L158.6 679.2 L157.4 677.9 L155.5 677.5 L154.6 675.9 L153.5 674.5 L152.2 673.4 L151.2 672.0 L150.5 670.4 L148.9 669.5 L147.6 668.4 L146.5 667.1 L145.7 665.5 L145.2 663.9 L144.3 662.5 L143.6 661.0 L142.7 659.5 L141.6 658.1 L141.3 656.4 L141.6 654.6 L141.7 652.9 L140.7 651.4 L140.6 649.7 L140.4 648.1 L140.2 646.4" stroke="#f01ef0" stroke-width="1.2" fill="none" opacity="0.95" stroke-linejoin="round"/>
<path d="M180.6 685.4 L178.8 685.3 L177.1 684.5 L175.4 683.7 L173.5 684.7 L171.9 683.9 L170.1 683.8 L168.4 683.2 L166.8 682.3 L165.1 682.1 L163.6 681.0 L162.1 680.1 L160.3 679.8 L159.3 678.2 L157.8 677.4 L156.0 676.9 L154.8 675.6 L153.6 674.4 L152.0 673.6 L150.7 672.4 L149.0 671.6 L147.5 670.5 L146.6 669.1 L145.4 667.7 L144.5 666.2 L143.5 664.8 L143.0 663.1 L142.0 661.6 L142.4 659.6 L142.0 658.0 L142.0 656.2 L141.9 654.6 L140.2 653.2 L140.8 651.4 L140.4 649.7 L140.7 648.1 L141.0 646.4" stroke="#f01ef0" stroke-width="1.2" fill="none" opacity="0.95" stroke-linejoin="round"/>
<text x="181.10" y="700.70" font-size="8.8" font-weight="normal" text-anchor="middle" fill="#222" stroke="#222" stroke-width="0.22" >RS 3d</text>
<path d="M134.10 753.80 L134.16 751.51 L134.35 749.22 L134.67 746.95 L135.12 744.69 L135.68 742.46 L136.38 740.27 L137.19 738.10 L138.12 735.98 L139.17 733.92 L140.33 731.90 L141.60 729.94 L142.98 728.06 L144.46 726.24 L146.04 724.49 L147.72 722.83 L149.49 721.25 L151.34 719.76 L153.27 718.37 L155.27 717.07 L157.35 715.87 L159.49 714.77 L161.69 713.79 L163.94 712.91 L166.23 712.14 L168.56 711.49 L170.93 710.96 L173.33 710.54 L175.74 710.24 L178.17 710.06 L180.60 710.00 L180.60 719.10 L178.67 719.15 L176.74 719.29 L174.83 719.53 L172.93 719.86 L171.05 720.28 L169.20 720.80 L167.38 721.40 L165.59 722.10 L163.85 722.88 L162.15 723.75 L160.50 724.70 L158.91 725.73 L157.38 726.83 L155.91 728.01 L154.51 729.26 L153.18 730.58 L151.92 731.96 L150.75 733.40 L149.65 734.90 L148.64 736.45 L147.72 738.05 L146.89 739.69 L146.15 741.36 L145.51 743.08 L144.96 744.82 L144.51 746.59 L144.15 748.37 L143.90 750.17 L143.75 751.98 L143.70 753.80Z" fill="#c41414"/>
<path d="M180.60 710.00 L183.03 710.06 L185.46 710.24 L187.87 710.54 L190.27 710.96 L192.64 711.49 L194.97 712.14 L197.26 712.91 L199.51 713.79 L201.71 714.77 L203.85 715.87 L205.93 717.07 L207.93 718.37 L209.86 719.76 L211.71 721.25 L213.48 722.83 L215.16 724.49 L216.74 726.24 L218.22 728.06 L219.60 729.94 L220.87 731.90 L222.03 733.92 L223.08 735.98 L224.01 738.10 L224.82 740.27 L225.52 742.46 L226.08 744.69 L226.53 746.95 L226.85 749.22 L227.04 751.51 L227.10 753.80 L217.50 753.80 L217.45 751.98 L217.30 750.17 L217.05 748.37 L216.69 746.59 L216.24 744.82 L215.69 743.08 L215.05 741.36 L214.31 739.69 L213.48 738.05 L212.56 736.45 L211.55 734.90 L210.45 733.40 L209.28 731.96 L208.02 730.58 L206.69 729.26 L205.29 728.01 L203.82 726.83 L202.29 725.73 L200.70 724.70 L199.05 723.75 L197.35 722.88 L195.61 722.10 L193.82 721.40 L192.00 720.80 L190.15 720.28 L188.27 719.86 L186.37 719.53 L184.46 719.29 L182.53 719.15 L180.60 719.10Z" fill="#5c5cec"/>
<path d="M227.10 753.80 L227.04 756.09 L226.85 758.38 L226.53 760.65 L226.08 762.91 L225.52 765.14 L224.82 767.33 L224.01 769.50 L223.08 771.62 L222.03 773.68 L220.87 775.70 L219.60 777.66 L218.22 779.54 L216.74 781.36 L215.16 783.11 L213.48 784.77 L211.71 786.35 L209.86 787.84 L207.93 789.23 L205.93 790.53 L203.85 791.73 L201.71 792.83 L199.51 793.81 L197.26 794.69 L194.97 795.46 L192.64 796.11 L190.27 796.64 L187.87 797.06 L185.46 797.36 L183.03 797.54 L180.60 797.60 L180.60 788.50 L182.53 788.45 L184.46 788.31 L186.37 788.07 L188.27 787.74 L190.15 787.32 L192.00 786.80 L193.82 786.20 L195.61 785.50 L197.35 784.72 L199.05 783.85 L200.70 782.90 L202.29 781.87 L203.82 780.77 L205.29 779.59 L206.69 778.34 L208.02 777.02 L209.28 775.64 L210.45 774.20 L211.55 772.70 L212.56 771.15 L213.48 769.55 L214.31 767.91 L215.05 766.24 L215.69 764.52 L216.24 762.78 L216.69 761.01 L217.05 759.23 L217.30 757.43 L217.45 755.62 L217.50 753.80Z" fill="#1f48ee"/>
<path d="M180.60 797.60 L178.17 797.54 L175.74 797.36 L173.33 797.06 L170.93 796.64 L168.56 796.11 L166.23 795.46 L163.94 794.69 L161.69 793.81 L159.49 792.83 L157.35 791.73 L155.27 790.53 L153.27 789.23 L151.34 787.84 L149.49 786.35 L147.72 784.77 L146.04 783.11 L144.46 781.36 L142.98 779.54 L141.60 777.66 L140.33 775.70 L139.17 773.68 L138.12 771.62 L137.19 769.50 L136.38 767.33 L135.68 765.14 L135.12 762.91 L134.67 760.65 L134.35 758.38 L134.16 756.09 L134.10 753.80 L143.70 753.80 L143.75 755.62 L143.90 757.43 L144.15 759.23 L144.51 761.01 L144.96 762.78 L145.51 764.52 L146.15 766.24 L146.89 767.91 L147.72 769.55 L148.64 771.15 L149.65 772.70 L150.75 774.20 L151.92 775.64 L153.18 777.02 L154.51 778.34 L155.91 779.59 L157.38 780.77 L158.91 781.87 L160.50 782.90 L162.15 783.85 L163.85 784.72 L165.59 785.50 L167.38 786.20 L169.20 786.80 L171.05 787.32 L172.93 787.74 L174.83 788.07 L176.74 788.31 L178.67 788.45 L180.60 788.50Z" fill="#d7c7ef"/>
<ellipse cx="180.60" cy="753.80" rx="46.5" ry="43.8" fill="none" stroke="#3c3c5a" stroke-width="0.9"/>
<ellipse cx="180.60" cy="753.80" rx="36.9" ry="34.699999999999996" fill="none" stroke="#3c3c5a" stroke-width="0.9"/>
<path d="M180.6 714.0 L178.7 713.8 L176.9 713.7 L175.0 713.9 L173.2 714.1 L171.3 714.5 L169.6 715.3 L167.9 715.8 L166.2 716.6 L164.4 717.0 L162.8 717.9 L161.1 718.5 L159.3 719.1 L157.7 720.0 L156.0 720.7 L154.5 721.8 L152.9 722.7 L151.6 724.0 L150.5 725.5 L149.5 726.9 L148.4 728.3 L147.2 729.6 L146.4 731.3 L145.5 732.8 L144.3 734.1 L143.5 735.6 L142.6 737.1 L141.6 738.6 L140.8 740.2 L140.2 741.8 L139.6 743.5 L139.4 745.2 L139.2 746.9 L139.4 748.7 L139.3 750.4 L139.2 752.1 L138.8 753.8" stroke="#f01ef0" stroke-width="1.6" fill="none" opacity="1.0" stroke-linejoin="round"/>
<path d="M180.6 715.0 L182.4 714.5 L184.3 714.4 L186.1 714.1 L188.0 714.5 L189.7 715.3 L191.4 715.9 L193.0 716.9 L194.7 717.4 L196.4 718.0 L198.0 718.8 L199.5 719.6 L201.3 720.0 L203.0 720.8 L204.7 721.4 L206.1 722.5 L207.5 723.6 L208.8 724.8 L209.9 726.2 L211.4 727.2 L212.6 728.5 L213.4 730.1 L214.5 731.5 L215.2 733.1 L216.5 734.3 L217.7 735.6 L218.6 737.1 L219.4 738.7 L220.2 740.2 L220.8 741.9 L221.0 743.6 L221.1 745.3 L221.2 747.1 L221.2 748.8 L221.5 750.4 L221.7 752.1 L221.8 753.8" stroke="#f01ef0" stroke-width="2.6" fill="none" opacity="0.4" stroke-linejoin="round"/>
<path d="M222.4 753.8 L222.4 755.5 L222.5 757.3 L222.6 759.0 L222.4 760.7 L221.9 762.4 L221.3 764.1 L220.2 765.5 L219.2 767.0 L218.6 768.6 L217.8 770.1 L217.2 771.7 L216.2 773.1 L215.4 774.7 L214.7 776.3 L213.7 777.7 L212.7 779.1 L211.3 780.3 L209.9 781.4 L208.7 782.7 L207.3 783.7 L205.6 784.5 L204.2 785.5 L202.8 786.5 L201.2 787.4 L199.8 788.5 L198.3 789.4 L196.7 790.4 L195.0 791.1 L193.2 791.5 L191.4 791.9 L189.6 792.2 L187.8 792.4 L186.0 792.5 L184.2 792.6 L182.4 792.7 L180.6 792.8" stroke="#f01ef0" stroke-width="1.6" fill="none" opacity="1.0" stroke-linejoin="round"/>
<path d="M180.6 793.1 L178.8 792.9 L177.0 793.0 L175.2 792.3 L173.4 792.0 L171.8 791.0 L170.0 791.2 L168.1 791.3 L166.7 789.7 L164.9 789.4 L163.3 788.6 L161.8 787.9 L160.2 787.0 L158.5 786.4 L156.6 786.0 L155.7 784.4 L153.8 783.8 L152.7 782.4 L152.1 780.6 L150.9 779.4 L149.6 778.3 L148.7 776.9 L147.5 775.6 L146.7 774.1 L145.9 772.6 L144.2 771.6 L143.8 769.9 L142.3 768.7 L141.5 767.2 L141.2 765.5 L141.0 763.8 L141.0 762.1 L140.8 760.4 L140.7 758.7 L140.7 757.1 L141.7 755.4 L142.5 753.8" stroke="#f01ef0" stroke-width="1.2" fill="none" opacity="0.95" stroke-linejoin="round"/>
<path d="M180.6 793.2 L178.8 793.7 L176.9 793.4 L175.1 793.2 L173.2 793.1 L171.7 791.5 L169.8 791.6 L168.1 791.1 L166.5 790.4 L164.8 789.7 L162.9 789.6 L161.8 787.9 L160.3 786.9 L158.7 786.1 L157.0 785.6 L155.9 784.1 L154.4 783.1 L152.8 782.3 L151.2 781.5 L149.4 780.7 L149.1 778.7 L147.8 777.5 L146.0 776.6 L146.2 774.4 L144.8 773.3 L143.3 772.1 L142.1 770.7 L142.4 768.7 L142.6 766.8 L141.5 765.4 L141.0 763.8 L140.3 762.2 L139.4 760.6 L139.0 759.0 L138.8 757.2 L137.9 755.6 L137.7 753.8" stroke="#f01ef0" stroke-width="1.2" fill="none" opacity="0.95" stroke-linejoin="round"/>
<text x="181.10" y="808.50" font-size="8.8" font-weight="normal" text-anchor="middle" fill="#222" stroke="#222" stroke-width="0.22" >MS+ RS 3d</text>
<path d="M230.90 646.40 L230.96 644.09 L231.15 641.78 L231.47 639.49 L231.92 637.21 L232.48 634.96 L233.18 632.74 L233.99 630.56 L234.92 628.42 L235.97 626.33 L237.13 624.30 L238.40 622.33 L239.78 620.42 L241.26 618.58 L242.84 616.82 L244.52 615.15 L246.29 613.55 L248.14 612.05 L250.07 610.64 L252.07 609.33 L254.15 608.12 L256.29 607.02 L258.49 606.02 L260.74 605.14 L263.03 604.36 L265.36 603.71 L267.73 603.17 L270.13 602.74 L272.54 602.44 L274.97 602.26 L277.40 602.20 L277.40 611.30 L275.47 611.35 L273.54 611.49 L271.63 611.73 L269.73 612.07 L267.85 612.50 L266.00 613.02 L264.18 613.63 L262.39 614.33 L260.65 615.13 L258.95 616.00 L257.30 616.96 L255.71 618.00 L254.18 619.12 L252.71 620.32 L251.31 621.58 L249.98 622.91 L248.72 624.31 L247.55 625.77 L246.45 627.28 L245.44 628.85 L244.52 630.46 L243.69 632.12 L242.95 633.82 L242.31 635.55 L241.76 637.32 L241.31 639.10 L240.95 640.91 L240.70 642.73 L240.55 644.56 L240.50 646.40Z" fill="#c41414"/>
<path d="M277.40 602.20 L279.83 602.26 L282.26 602.44 L284.67 602.74 L287.07 603.17 L289.44 603.71 L291.77 604.36 L294.06 605.14 L296.31 606.02 L298.51 607.02 L300.65 608.12 L302.73 609.33 L304.73 610.64 L306.66 612.05 L308.51 613.55 L310.28 615.15 L311.96 616.82 L313.54 618.58 L315.02 620.42 L316.40 622.33 L317.67 624.30 L318.83 626.33 L319.88 628.42 L320.81 630.56 L321.62 632.74 L322.32 634.96 L322.88 637.21 L323.33 639.49 L323.65 641.78 L323.84 644.09 L323.90 646.40 L314.30 646.40 L314.25 644.56 L314.10 642.73 L313.85 640.91 L313.49 639.10 L313.04 637.32 L312.49 635.55 L311.85 633.82 L311.11 632.12 L310.28 630.46 L309.36 628.85 L308.35 627.28 L307.25 625.77 L306.08 624.31 L304.82 622.91 L303.49 621.58 L302.09 620.32 L300.62 619.12 L299.09 618.00 L297.50 616.96 L295.85 616.00 L294.15 615.13 L292.41 614.33 L290.62 613.63 L288.80 613.02 L286.95 612.50 L285.07 612.07 L283.17 611.73 L281.26 611.49 L279.33 611.35 L277.40 611.30Z" fill="#5c5cec"/>
<path d="M323.90 646.40 L323.84 648.71 L323.65 651.02 L323.33 653.31 L322.88 655.59 L322.32 657.84 L321.62 660.06 L320.81 662.24 L319.88 664.38 L318.83 666.47 L317.67 668.50 L316.40 670.47 L315.02 672.38 L313.54 674.22 L311.96 675.98 L310.28 677.65 L308.51 679.25 L306.66 680.75 L304.73 682.16 L302.73 683.47 L300.65 684.68 L298.51 685.78 L296.31 686.78 L294.06 687.66 L291.77 688.44 L289.44 689.09 L287.07 689.63 L284.67 690.06 L282.26 690.36 L279.83 690.54 L277.40 690.60 L277.40 681.50 L279.33 681.45 L281.26 681.31 L283.17 681.07 L285.07 680.73 L286.95 680.30 L288.80 679.78 L290.62 679.17 L292.41 678.47 L294.15 677.67 L295.85 676.80 L297.50 675.84 L299.09 674.80 L300.62 673.68 L302.09 672.48 L303.49 671.22 L304.82 669.89 L306.08 668.49 L307.25 667.03 L308.35 665.52 L309.36 663.95 L310.28 662.34 L311.11 660.68 L311.85 658.98 L312.49 657.25 L313.04 655.48 L313.49 653.70 L313.85 651.89 L314.10 650.07 L314.25 648.24 L314.30 646.40Z" fill="#1f48ee"/>
<path d="M277.40 690.60 L274.97 690.54 L272.54 690.36 L270.13 690.06 L267.73 689.63 L265.36 689.09 L263.03 688.44 L260.74 687.66 L258.49 686.78 L256.29 685.78 L254.15 684.68 L252.07 683.47 L250.07 682.16 L248.14 680.75 L246.29 679.25 L244.52 677.65 L242.84 675.98 L241.26 674.22 L239.78 672.38 L238.40 670.47 L237.13 668.50 L235.97 666.47 L234.92 664.38 L233.99 662.24 L233.18 660.06 L232.48 657.84 L231.92 655.59 L231.47 653.31 L231.15 651.02 L230.96 648.71 L230.90 646.40 L240.50 646.40 L240.55 648.24 L240.70 650.07 L240.95 651.89 L241.31 653.70 L241.76 655.48 L242.31 657.25 L242.95 658.98 L243.69 660.68 L244.52 662.34 L245.44 663.95 L246.45 665.52 L247.55 667.03 L248.72 668.49 L249.98 669.89 L251.31 671.22 L252.71 672.48 L254.18 673.68 L255.71 674.80 L257.30 675.84 L258.95 676.80 L260.65 677.67 L262.39 678.47 L264.18 679.17 L266.00 679.78 L267.85 680.30 L269.73 680.73 L271.63 681.07 L273.54 681.31 L275.47 681.45 L277.40 681.50Z" fill="#d7c7ef"/>
<ellipse cx="277.40" cy="646.40" rx="46.5" ry="44.2" fill="none" stroke="#3c3c5a" stroke-width="0.9"/>
<ellipse cx="277.40" cy="646.40" rx="36.9" ry="35.1" fill="none" stroke="#3c3c5a" stroke-width="0.9"/>
<path d="M277.4 607.2 L275.6 607.0 L273.8 607.0 L272.0 607.2 L270.2 607.4 L268.4 607.8 L266.7 608.3 L265.0 609.1 L263.4 609.8 L261.6 610.1 L260.1 611.1 L258.4 611.7 L256.8 612.5 L255.1 613.2 L253.4 613.9 L251.8 614.7 L250.3 615.7 L249.1 617.1 L248.0 618.4 L247.0 620.0 L245.8 621.2 L244.8 622.6 L243.9 624.1 L242.9 625.5 L241.6 626.7 L240.5 628.1 L239.8 629.7 L238.8 631.2 L237.9 632.7 L237.5 634.4 L237.0 636.1 L236.9 637.9 L236.7 639.6 L236.8 641.3 L236.4 643.0 L236.5 644.7 L236.3 646.4" stroke="#f01ef0" stroke-width="1.6" fill="none" opacity="1.0" stroke-linejoin="round"/>
<path d="M277.4 606.8 L279.2 606.5 L281.1 606.5 L282.9 606.8 L284.7 607.2 L286.4 607.8 L288.1 608.4 L289.8 609.1 L291.5 609.6 L293.0 610.6 L294.6 611.4 L296.2 612.1 L297.7 612.9 L299.7 613.1 L301.1 614.2 L302.7 615.1 L304.2 616.1 L305.8 617.0 L306.7 618.6 L308.0 619.8 L308.9 621.3 L309.9 622.7 L310.9 624.1 L312.1 625.4 L313.0 626.9 L314.1 628.2 L315.2 629.6 L316.4 631.0 L316.7 632.8 L317.6 634.4 L318.1 636.0 L318.2 637.8 L318.3 639.5 L318.3 641.3 L318.7 643.0 L318.7 644.7 L318.7 646.4" stroke="#f01ef0" stroke-width="2.6" fill="none" opacity="0.4" stroke-linejoin="round"/>
<path d="M319.5 646.4 L319.6 648.2 L319.5 649.9 L319.6 651.7 L319.4 653.4 L318.7 655.1 L318.1 656.8 L317.3 658.4 L316.7 660.0 L315.9 661.6 L315.2 663.1 L314.4 664.7 L313.5 666.2 L312.9 667.9 L312.0 669.4 L311.0 670.9 L309.9 672.4 L308.5 673.5 L307.3 674.9 L305.7 675.8 L304.1 676.7 L302.7 677.7 L301.0 678.5 L299.6 679.5 L298.1 680.4 L296.6 681.4 L295.0 682.2 L293.3 683.0 L291.7 683.7 L290.0 684.4 L288.2 684.8 L286.4 685.0 L284.6 685.1 L282.8 685.6 L281.0 685.5 L279.2 685.6 L277.4 685.9" stroke="#f01ef0" stroke-width="1.6" fill="none" opacity="1.0" stroke-linejoin="round"/>
<path d="M277.4 685.5 L275.6 686.4 L273.7 686.3 L271.9 685.8 L270.2 685.3 L268.5 684.4 L267.0 683.5 L265.3 682.8 L263.8 681.8 L262.2 681.2 L260.9 680.0 L259.0 680.0 L257.3 679.6 L255.9 678.5 L254.9 677.0 L253.0 676.6 L251.0 676.3 L249.9 674.9 L248.8 673.6 L247.8 672.2 L246.3 671.2 L245.7 669.5 L244.1 668.6 L243.3 667.1 L241.7 666.0 L240.7 664.5 L239.9 663.0 L239.9 661.2 L239.3 659.6 L238.6 658.0 L237.7 656.5 L237.2 654.9 L237.5 653.1 L237.1 651.4 L236.5 649.8 L236.6 648.1 L236.8 646.4" stroke="#f01ef0" stroke-width="1.2" fill="none" opacity="0.95" stroke-linejoin="round"/>
<path d="M277.4 685.0 L275.6 685.9 L273.9 684.4 L272.1 684.6 L270.4 684.4 L268.6 684.3 L267.0 683.1 L265.6 682.0 L263.9 681.6 L262.0 681.6 L260.1 681.8 L258.2 681.5 L256.4 680.9 L254.5 680.6 L253.2 679.2 L252.3 677.5 L251.3 676.0 L249.4 675.5 L248.8 673.6 L248.2 671.8 L246.9 670.7 L245.3 669.8 L244.2 668.5 L242.1 667.8 L241.4 666.2 L240.2 664.8 L240.2 662.9 L239.4 661.4 L240.1 659.3 L238.8 658.0 L238.4 656.3 L238.0 654.7 L236.5 653.3 L236.8 651.5 L235.9 649.9 L235.8 648.1 L234.6 646.4" stroke="#f01ef0" stroke-width="1.2" fill="none" opacity="0.95" stroke-linejoin="round"/>
<text x="277.90" y="700.70" font-size="8.8" font-weight="normal" text-anchor="middle" fill="#222" stroke="#222" stroke-width="0.22" >RS 7d</text>
<path d="M230.90 753.80 L230.96 751.51 L231.15 749.22 L231.47 746.95 L231.92 744.69 L232.48 742.46 L233.18 740.27 L233.99 738.10 L234.92 735.98 L235.97 733.92 L237.13 731.90 L238.40 729.94 L239.78 728.06 L241.26 726.24 L242.84 724.49 L244.52 722.83 L246.29 721.25 L248.14 719.76 L250.07 718.37 L252.07 717.07 L254.15 715.87 L256.29 714.77 L258.49 713.79 L260.74 712.91 L263.03 712.14 L265.36 711.49 L267.73 710.96 L270.13 710.54 L272.54 710.24 L274.97 710.06 L277.40 710.00 L277.40 719.10 L275.47 719.15 L273.54 719.29 L271.63 719.53 L269.73 719.86 L267.85 720.28 L266.00 720.80 L264.18 721.40 L262.39 722.10 L260.65 722.88 L258.95 723.75 L257.30 724.70 L255.71 725.73 L254.18 726.83 L252.71 728.01 L251.31 729.26 L249.98 730.58 L248.72 731.96 L247.55 733.40 L246.45 734.90 L245.44 736.45 L244.52 738.05 L243.69 739.69 L242.95 741.36 L242.31 743.08 L241.76 744.82 L241.31 746.59 L240.95 748.37 L240.70 750.17 L240.55 751.98 L240.50 753.80Z" fill="#c41414"/>
<path d="M277.40 710.00 L279.83 710.06 L282.26 710.24 L284.67 710.54 L287.07 710.96 L289.44 711.49 L291.77 712.14 L294.06 712.91 L296.31 713.79 L298.51 714.77 L300.65 715.87 L302.73 717.07 L304.73 718.37 L306.66 719.76 L308.51 721.25 L310.28 722.83 L311.96 724.49 L313.54 726.24 L315.02 728.06 L316.40 729.94 L317.67 731.90 L318.83 733.92 L319.88 735.98 L320.81 738.10 L321.62 740.27 L322.32 742.46 L322.88 744.69 L323.33 746.95 L323.65 749.22 L323.84 751.51 L323.90 753.80 L314.30 753.80 L314.25 751.98 L314.10 750.17 L313.85 748.37 L313.49 746.59 L313.04 744.82 L312.49 743.08 L311.85 741.36 L311.11 739.69 L310.28 738.05 L309.36 736.45 L308.35 734.90 L307.25 733.40 L306.08 731.96 L304.82 730.58 L303.49 729.26 L302.09 728.01 L300.62 726.83 L299.09 725.73 L297.50 724.70 L295.85 723.75 L294.15 722.88 L292.41 722.10 L290.62 721.40 L288.80 720.80 L286.95 720.28 L285.07 719.86 L283.17 719.53 L281.26 719.29 L279.33 719.15 L277.40 719.10Z" fill="#5c5cec"/>
<path d="M323.90 753.80 L323.84 756.09 L323.65 758.38 L323.33 760.65 L322.88 762.91 L322.32 765.14 L321.62 767.33 L320.81 769.50 L319.88 771.62 L318.83 773.68 L317.67 775.70 L316.40 777.66 L315.02 779.54 L313.54 781.36 L311.96 783.11 L310.28 784.77 L308.51 786.35 L306.66 787.84 L304.73 789.23 L302.73 790.53 L300.65 791.73 L298.51 792.83 L296.31 793.81 L294.06 794.69 L291.77 795.46 L289.44 796.11 L287.07 796.64 L284.67 797.06 L282.26 797.36 L279.83 797.54 L277.40 797.60 L277.40 788.50 L279.33 788.45 L281.26 788.31 L283.17 788.07 L285.07 787.74 L286.95 787.32 L288.80 786.80 L290.62 786.20 L292.41 785.50 L294.15 784.72 L295.85 783.85 L297.50 782.90 L299.09 781.87 L300.62 780.77 L302.09 779.59 L303.49 778.34 L304.82 777.02 L306.08 775.64 L307.25 774.20 L308.35 772.70 L309.36 771.15 L310.28 769.55 L311.11 767.91 L311.85 766.24 L312.49 764.52 L313.04 762.78 L313.49 761.01 L313.85 759.23 L314.10 757.43 L314.25 755.62 L314.30 753.80Z" fill="#1f48ee"/>
<path d="M277.40 797.60 L274.97 797.54 L272.54 797.36 L270.13 797.06 L267.73 796.64 L265.36 796.11 L263.03 795.46 L260.74 794.69 L258.49 793.81 L256.29 792.83 L254.15 791.73 L252.07 790.53 L250.07 789.23 L248.14 787.84 L246.29 786.35 L244.52 784.77 L242.84 783.11 L241.26 781.36 L239.78 779.54 L238.40 777.66 L237.13 775.70 L235.97 773.68 L234.92 771.62 L233.99 769.50 L233.18 767.33 L232.48 765.14 L231.92 762.91 L231.47 760.65 L231.15 758.38 L230.96 756.09 L230.90 753.80 L240.50 753.80 L240.55 755.62 L240.70 757.43 L240.95 759.23 L241.31 761.01 L241.76 762.78 L242.31 764.52 L242.95 766.24 L243.69 767.91 L244.52 769.55 L245.44 771.15 L246.45 772.70 L247.55 774.20 L248.72 775.64 L249.98 777.02 L251.31 778.34 L252.71 779.59 L254.18 780.77 L255.71 781.87 L257.30 782.90 L258.95 783.85 L260.65 784.72 L262.39 785.50 L264.18 786.20 L266.00 786.80 L267.85 787.32 L269.73 787.74 L271.63 788.07 L273.54 788.31 L275.47 788.45 L277.40 788.50Z" fill="#d7c7ef"/>
<ellipse cx="277.40" cy="753.80" rx="46.5" ry="43.8" fill="none" stroke="#3c3c5a" stroke-width="0.9"/>
<ellipse cx="277.40" cy="753.80" rx="36.9" ry="34.699999999999996" fill="none" stroke="#3c3c5a" stroke-width="0.9"/>
<path d="M301.8 721.0 L303.3 722.0 L305.0 722.9 L306.5 723.9 L307.6 725.4 L308.8 726.7 L309.9 728.1 L310.9 729.6 L311.7 731.2 L312.6 732.7 L313.5 734.2 L314.5 735.6 L315.8 737.0 L316.8 738.4 L317.4 740.1 L318.2 741.7 L318.7 743.4 L318.8 745.2 L319.4 746.8 L319.5 748.6 L319.1 750.4 L318.9 752.1 L318.6 753.8" stroke="#f01ef0" stroke-width="2.4" fill="none" opacity="0.45" stroke-linejoin="round"/>
<path d="M318.7 753.8 L319.0 755.5 L318.9 757.2 L318.7 758.9 L318.4 760.6 L318.0 762.3 L317.5 763.9 L316.6 765.4 L315.9 767.0 L315.1 768.5 L314.4 770.0 L313.7 771.6 L313.0 773.2 L312.4 774.8 L311.7 776.4 L310.8 777.9 L309.6 779.2 L308.3 780.5 L307.0 781.6 L305.5 782.7 L304.0 783.7 L302.3 784.4 L300.8 785.3 L299.4 786.3 L298.0 787.4 L296.5 788.4 L295.1 789.5 L293.5 790.3 L291.7 790.9 L290.0 791.4 L288.2 791.9 L286.4 792.1 L284.6 792.0 L282.8 792.2 L281.0 792.2 L279.2 792.0 L277.4 792.2 L275.6 792.2 L273.8 792.3" stroke="#f01ef0" stroke-width="1.6" fill="none" opacity="1.0" stroke-linejoin="round"/>
<path d="M273.8 792.3 L272.3 792.2 L270.8 792.1 L269.2 792.0 L267.7 791.9 L266.5 790.5 L264.7 791.0 L263.5 790.0 L261.9 789.9" stroke="#f01ef0" stroke-width="1.2" fill="none" opacity="0.9" stroke-linejoin="round"/>
<text x="277.90" y="808.50" font-size="8.8" font-weight="normal" text-anchor="middle" fill="#222" stroke="#222" stroke-width="0.22" >MS+ RS 7d</text>
<path d="M327.70 646.40 L327.76 644.09 L327.95 641.78 L328.27 639.49 L328.72 637.21 L329.28 634.96 L329.98 632.74 L330.79 630.56 L331.72 628.42 L332.77 626.33 L333.93 624.30 L335.20 622.33 L336.58 620.42 L338.06 618.58 L339.64 616.82 L341.32 615.15 L343.09 613.55 L344.94 612.05 L346.87 610.64 L348.87 609.33 L350.95 608.12 L353.09 607.02 L355.29 606.02 L357.54 605.14 L359.83 604.36 L362.16 603.71 L364.53 603.17 L366.93 602.74 L369.34 602.44 L371.77 602.26 L374.20 602.20 L374.20 611.30 L372.27 611.35 L370.34 611.49 L368.43 611.73 L366.53 612.07 L364.65 612.50 L362.80 613.02 L360.98 613.63 L359.19 614.33 L357.45 615.13 L355.75 616.00 L354.10 616.96 L352.51 618.00 L350.98 619.12 L349.51 620.32 L348.11 621.58 L346.78 622.91 L345.52 624.31 L344.35 625.77 L343.25 627.28 L342.24 628.85 L341.32 630.46 L340.49 632.12 L339.75 633.82 L339.11 635.55 L338.56 637.32 L338.11 639.10 L337.75 640.91 L337.50 642.73 L337.35 644.56 L337.30 646.40Z" fill="#c41414"/>
<path d="M374.20 602.20 L376.63 602.26 L379.06 602.44 L381.47 602.74 L383.87 603.17 L386.24 603.71 L388.57 604.36 L390.86 605.14 L393.11 606.02 L395.31 607.02 L397.45 608.12 L399.53 609.33 L401.53 610.64 L403.46 612.05 L405.31 613.55 L407.08 615.15 L408.76 616.82 L410.34 618.58 L411.82 620.42 L413.20 622.33 L414.47 624.30 L415.63 626.33 L416.68 628.42 L417.61 630.56 L418.42 632.74 L419.12 634.96 L419.68 637.21 L420.13 639.49 L420.45 641.78 L420.64 644.09 L420.70 646.40 L411.10 646.40 L411.05 644.56 L410.90 642.73 L410.65 640.91 L410.29 639.10 L409.84 637.32 L409.29 635.55 L408.65 633.82 L407.91 632.12 L407.08 630.46 L406.16 628.85 L405.15 627.28 L404.05 625.77 L402.88 624.31 L401.62 622.91 L400.29 621.58 L398.89 620.32 L397.42 619.12 L395.89 618.00 L394.30 616.96 L392.65 616.00 L390.95 615.13 L389.21 614.33 L387.42 613.63 L385.60 613.02 L383.75 612.50 L381.87 612.07 L379.97 611.73 L378.06 611.49 L376.13 611.35 L374.20 611.30Z" fill="#5c5cec"/>
<path d="M420.70 646.40 L420.64 648.71 L420.45 651.02 L420.13 653.31 L419.68 655.59 L419.12 657.84 L418.42 660.06 L417.61 662.24 L416.68 664.38 L415.63 666.47 L414.47 668.50 L413.20 670.47 L411.82 672.38 L410.34 674.22 L408.76 675.98 L407.08 677.65 L405.31 679.25 L403.46 680.75 L401.53 682.16 L399.53 683.47 L397.45 684.68 L395.31 685.78 L393.11 686.78 L390.86 687.66 L388.57 688.44 L386.24 689.09 L383.87 689.63 L381.47 690.06 L379.06 690.36 L376.63 690.54 L374.20 690.60 L374.20 681.50 L376.13 681.45 L378.06 681.31 L379.97 681.07 L381.87 680.73 L383.75 680.30 L385.60 679.78 L387.42 679.17 L389.21 678.47 L390.95 677.67 L392.65 676.80 L394.30 675.84 L395.89 674.80 L397.42 673.68 L398.89 672.48 L400.29 671.22 L401.62 669.89 L402.88 668.49 L404.05 667.03 L405.15 665.52 L406.16 663.95 L407.08 662.34 L407.91 660.68 L408.65 658.98 L409.29 657.25 L409.84 655.48 L410.29 653.70 L410.65 651.89 L410.90 650.07 L411.05 648.24 L411.10 646.40Z" fill="#1f48ee"/>
<path d="M374.20 690.60 L371.77 690.54 L369.34 690.36 L366.93 690.06 L364.53 689.63 L362.16 689.09 L359.83 688.44 L357.54 687.66 L355.29 686.78 L353.09 685.78 L350.95 684.68 L348.87 683.47 L346.87 682.16 L344.94 680.75 L343.09 679.25 L341.32 677.65 L339.64 675.98 L338.06 674.22 L336.58 672.38 L335.20 670.47 L333.93 668.50 L332.77 666.47 L331.72 664.38 L330.79 662.24 L329.98 660.06 L329.28 657.84 L328.72 655.59 L328.27 653.31 L327.95 651.02 L327.76 648.71 L327.70 646.40 L337.30 646.40 L337.35 648.24 L337.50 650.07 L337.75 651.89 L338.11 653.70 L338.56 655.48 L339.11 657.25 L339.75 658.98 L340.49 660.68 L341.32 662.34 L342.24 663.95 L343.25 665.52 L344.35 667.03 L345.52 668.49 L346.78 669.89 L348.11 671.22 L349.51 672.48 L350.98 673.68 L352.51 674.80 L354.10 675.84 L355.75 676.80 L357.45 677.67 L359.19 678.47 L360.98 679.17 L362.80 679.78 L364.65 680.30 L366.53 680.73 L368.43 681.07 L370.34 681.31 L372.27 681.45 L374.20 681.50Z" fill="#d7c7ef"/>
<ellipse cx="374.20" cy="646.40" rx="46.5" ry="44.2" fill="none" stroke="#3c3c5a" stroke-width="0.9"/>
<ellipse cx="374.20" cy="646.40" rx="36.9" ry="35.1" fill="none" stroke="#3c3c5a" stroke-width="0.9"/>
<path d="M374.2 606.9 L372.4 606.7 L370.5 606.7 L368.7 606.8 L367.0 607.4 L365.2 607.6 L363.4 608.2 L361.8 609.1 L360.2 609.8 L358.5 610.3 L356.9 611.1 L355.2 611.7 L353.5 612.3 L351.8 613.0 L350.1 613.6 L348.6 614.7 L347.2 615.8 L346.0 617.2 L344.8 618.5 L343.6 619.8 L342.8 621.3 L341.9 622.8 L340.7 624.1 L339.8 625.6 L338.6 626.8 L337.4 628.2 L336.5 629.7 L335.7 631.3 L334.9 632.8 L334.2 634.4 L333.6 636.0 L333.3 637.8 L333.1 639.5 L333.3 641.3 L333.4 643.0 L333.0 644.7 L333.2 646.4" stroke="#f01ef0" stroke-width="1.6" fill="none" opacity="1.0" stroke-linejoin="round"/>
<path d="M374.2 606.4 L376.0 606.3 L377.9 606.2 L379.7 606.4 L381.6 606.7 L383.4 607.0 L385.2 607.5 L386.9 608.2 L388.5 609.0 L390.3 609.4 L392.0 610.1 L393.6 610.9 L395.4 611.4 L397.0 612.4 L398.7 613.2 L400.3 614.0 L401.8 615.2 L403.0 616.5 L404.3 617.8 L405.3 619.3 L406.3 620.8 L407.2 622.3 L408.5 623.6 L409.4 625.1 L410.7 626.3 L411.9 627.8 L412.8 629.3 L413.8 630.8 L414.6 632.4 L415.1 634.1 L415.2 636.0 L415.5 637.7 L415.8 639.4 L416.0 641.2 L416.2 642.9 L416.5 644.6 L416.6 646.4" stroke="#f01ef0" stroke-width="2.6" fill="none" opacity="0.4" stroke-linejoin="round"/>
<path d="M416.6 646.4 L416.6 648.2 L416.7 649.9 L416.5 651.7 L416.1 653.4 L416.0 655.2 L415.2 656.9 L414.3 658.4 L413.7 660.1 L412.8 661.6 L412.1 663.2 L411.3 664.7 L410.6 666.4 L410.0 668.1 L409.2 669.7 L408.2 671.2 L407.1 672.6 L405.7 673.8 L404.3 675.0 L402.7 676.0 L401.3 677.1 L399.8 678.2 L398.2 679.0 L396.7 680.0 L395.4 681.3 L393.9 682.4 L392.2 683.2 L390.6 684.0 L388.9 684.7 L387.1 685.2 L385.3 685.6 L383.4 685.9 L381.5 686.0 L379.7 686.0 L377.8 685.9 L376.0 686.0 L374.2 686.2" stroke="#f01ef0" stroke-width="1.6" fill="none" opacity="1.0" stroke-linejoin="round"/>
<path d="M374.2 685.3 L372.4 685.6 L370.6 685.1 L368.8 685.7 L367.0 685.3 L365.2 684.8 L363.4 684.7 L361.6 684.4 L360.0 683.5 L358.5 682.5 L356.4 682.7 L354.8 681.9 L353.6 680.4 L351.7 679.9 L350.2 679.0 L348.7 678.0 L347.1 677.1 L345.8 675.8 L344.0 675.1 L343.1 673.5 L342.2 671.9 L340.9 670.7 L340.5 668.8 L339.1 667.6 L338.4 666.1 L336.9 664.9 L336.6 663.1 L335.6 661.6 L335.8 659.7 L335.3 658.1 L334.8 656.4 L334.1 654.8 L332.9 653.3 L332.1 651.7 L333.3 649.8 L333.8 648.1 L332.9 646.4" stroke="#f01ef0" stroke-width="1.2" fill="none" opacity="0.95" stroke-linejoin="round"/>
<path d="M374.2 685.4 L372.4 684.7 L370.7 683.9 L369.0 683.9 L367.3 683.7 L365.6 683.2 L363.5 684.3 L362.0 683.2 L359.7 684.2 L357.8 684.0 L355.8 683.8 L354.4 682.5 L352.3 682.4 L350.9 681.2 L349.1 680.5 L347.5 679.5 L346.7 677.6 L345.9 675.8 L344.5 674.6 L343.0 673.6 L342.6 671.6 L341.7 670.1 L340.1 669.1 L339.1 667.7 L336.9 666.8 L336.4 665.1 L334.9 663.8 L334.7 662.0 L333.9 660.3 L333.3 658.7 L333.2 656.8 L334.4 654.8 L335.0 653.0 L334.6 651.4 L333.6 649.8 L332.3 648.1 L332.8 646.4" stroke="#f01ef0" stroke-width="1.2" fill="none" opacity="0.95" stroke-linejoin="round"/>
<text x="374.70" y="700.70" font-size="8.8" font-weight="normal" text-anchor="middle" fill="#222" stroke="#222" stroke-width="0.22" >RS 14d</text>
<path d="M327.70 753.80 L327.76 751.51 L327.95 749.22 L328.27 746.95 L328.72 744.69 L329.28 742.46 L329.98 740.27 L330.79 738.10 L331.72 735.98 L332.77 733.92 L333.93 731.90 L335.20 729.94 L336.58 728.06 L338.06 726.24 L339.64 724.49 L341.32 722.83 L343.09 721.25 L344.94 719.76 L346.87 718.37 L348.87 717.07 L350.95 715.87 L353.09 714.77 L355.29 713.79 L357.54 712.91 L359.83 712.14 L362.16 711.49 L364.53 710.96 L366.93 710.54 L369.34 710.24 L371.77 710.06 L374.20 710.00 L374.20 719.10 L372.27 719.15 L370.34 719.29 L368.43 719.53 L366.53 719.86 L364.65 720.28 L362.80 720.80 L360.98 721.40 L359.19 722.10 L357.45 722.88 L355.75 723.75 L354.10 724.70 L352.51 725.73 L350.98 726.83 L349.51 728.01 L348.11 729.26 L346.78 730.58 L345.52 731.96 L344.35 733.40 L343.25 734.90 L342.24 736.45 L341.32 738.05 L340.49 739.69 L339.75 741.36 L339.11 743.08 L338.56 744.82 L338.11 746.59 L337.75 748.37 L337.50 750.17 L337.35 751.98 L337.30 753.80Z" fill="#c41414"/>
<path d="M374.20 710.00 L376.63 710.06 L379.06 710.24 L381.47 710.54 L383.87 710.96 L386.24 711.49 L388.57 712.14 L390.86 712.91 L393.11 713.79 L395.31 714.77 L397.45 715.87 L399.53 717.07 L401.53 718.37 L403.46 719.76 L405.31 721.25 L407.08 722.83 L408.76 724.49 L410.34 726.24 L411.82 728.06 L413.20 729.94 L414.47 731.90 L415.63 733.92 L416.68 735.98 L417.61 738.10 L418.42 740.27 L419.12 742.46 L419.68 744.69 L420.13 746.95 L420.45 749.22 L420.64 751.51 L420.70 753.80 L411.10 753.80 L411.05 751.98 L410.90 750.17 L410.65 748.37 L410.29 746.59 L409.84 744.82 L409.29 743.08 L408.65 741.36 L407.91 739.69 L407.08 738.05 L406.16 736.45 L405.15 734.90 L404.05 733.40 L402.88 731.96 L401.62 730.58 L400.29 729.26 L398.89 728.01 L397.42 726.83 L395.89 725.73 L394.30 724.70 L392.65 723.75 L390.95 722.88 L389.21 722.10 L387.42 721.40 L385.60 720.80 L383.75 720.28 L381.87 719.86 L379.97 719.53 L378.06 719.29 L376.13 719.15 L374.20 719.10Z" fill="#5c5cec"/>
<path d="M420.70 753.80 L420.64 756.09 L420.45 758.38 L420.13 760.65 L419.68 762.91 L419.12 765.14 L418.42 767.33 L417.61 769.50 L416.68 771.62 L415.63 773.68 L414.47 775.70 L413.20 777.66 L411.82 779.54 L410.34 781.36 L408.76 783.11 L407.08 784.77 L405.31 786.35 L403.46 787.84 L401.53 789.23 L399.53 790.53 L397.45 791.73 L395.31 792.83 L393.11 793.81 L390.86 794.69 L388.57 795.46 L386.24 796.11 L383.87 796.64 L381.47 797.06 L379.06 797.36 L376.63 797.54 L374.20 797.60 L374.20 788.50 L376.13 788.45 L378.06 788.31 L379.97 788.07 L381.87 787.74 L383.75 787.32 L385.60 786.80 L387.42 786.20 L389.21 785.50 L390.95 784.72 L392.65 783.85 L394.30 782.90 L395.89 781.87 L397.42 780.77 L398.89 779.59 L400.29 778.34 L401.62 777.02 L402.88 775.64 L404.05 774.20 L405.15 772.70 L406.16 771.15 L407.08 769.55 L407.91 767.91 L408.65 766.24 L409.29 764.52 L409.84 762.78 L410.29 761.01 L410.65 759.23 L410.90 757.43 L411.05 755.62 L411.10 753.80Z" fill="#1f48ee"/>
<path d="M374.20 797.60 L371.77 797.54 L369.34 797.36 L366.93 797.06 L364.53 796.64 L362.16 796.11 L359.83 795.46 L357.54 794.69 L355.29 793.81 L353.09 792.83 L350.95 791.73 L348.87 790.53 L346.87 789.23 L344.94 787.84 L343.09 786.35 L341.32 784.77 L339.64 783.11 L338.06 781.36 L336.58 779.54 L335.20 777.66 L333.93 775.70 L332.77 773.68 L331.72 771.62 L330.79 769.50 L329.98 767.33 L329.28 765.14 L328.72 762.91 L328.27 760.65 L327.95 758.38 L327.76 756.09 L327.70 753.80 L337.30 753.80 L337.35 755.62 L337.50 757.43 L337.75 759.23 L338.11 761.01 L338.56 762.78 L339.11 764.52 L339.75 766.24 L340.49 767.91 L341.32 769.55 L342.24 771.15 L343.25 772.70 L344.35 774.20 L345.52 775.64 L346.78 777.02 L348.11 778.34 L349.51 779.59 L350.98 780.77 L352.51 781.87 L354.10 782.90 L355.75 783.85 L357.45 784.72 L359.19 785.50 L360.98 786.20 L362.80 786.80 L364.65 787.32 L366.53 787.74 L368.43 788.07 L370.34 788.31 L372.27 788.45 L374.20 788.50Z" fill="#d7c7ef"/>
<ellipse cx="374.20" cy="753.80" rx="46.5" ry="43.8" fill="none" stroke="#3c3c5a" stroke-width="0.9"/>
<ellipse cx="374.20" cy="753.80" rx="36.9" ry="34.699999999999996" fill="none" stroke="#3c3c5a" stroke-width="0.9"/>
<path d="M374.2 714.3 L372.4 714.2 L370.5 714.0 L368.7 714.2 L366.8 714.5 L365.1 715.0 L363.3 715.6 L361.7 716.4 L360.0 717.1 L358.4 718.0 L356.8 718.6 L355.1 719.3 L353.3 719.7 L351.8 720.6 L350.0 721.3 L348.3 722.1 L346.8 723.0 L345.5 724.3 L344.4 725.8 L343.3 727.1 L342.2 728.5 L341.2 730.0 L340.2 731.4 L339.4 732.9 L338.2 734.2 L337.0 735.6 L336.0 737.0 L335.0 738.5 L334.4 740.2 L333.6 741.8 L333.2 743.5 L333.1 745.2 L332.9 746.9 L332.9 748.7 L332.7 750.4 L332.5 752.1 L332.3 753.8" stroke="#f01ef0" stroke-width="1.6" fill="none" opacity="1.0" stroke-linejoin="round"/>
<path d="M374.2 714.2 L376.1 713.8 L377.9 713.8 L379.8 713.9 L381.6 714.5 L383.4 714.7 L385.2 715.1 L386.9 715.8 L388.6 716.5 L390.2 717.5 L391.9 718.1 L393.7 718.6 L395.4 719.3 L396.7 720.5 L398.5 721.2 L400.1 722.0 L401.5 723.2 L402.9 724.3 L404.4 725.4 L405.5 726.8 L406.7 728.1 L407.6 729.7 L408.5 731.2 L409.6 732.5 L410.6 734.0 L411.4 735.6 L412.6 736.9 L413.6 738.4 L414.5 740.0 L414.9 741.7 L415.3 743.4 L415.7 745.1 L415.7 746.9 L415.8 748.6 L416.0 750.4 L416.0 752.1 L416.2 753.8" stroke="#f01ef0" stroke-width="2.6" fill="none" opacity="0.4" stroke-linejoin="round"/>
<path d="M415.8 753.8 L416.0 755.5 L416.3 757.3 L416.1 759.0 L415.8 760.7 L415.1 762.3 L414.3 763.9 L413.6 765.5 L412.8 767.0 L412.2 768.6 L411.4 770.1 L410.9 771.8 L410.0 773.3 L409.6 775.0 L408.7 776.6 L407.5 777.9 L406.5 779.3 L405.2 780.6 L403.7 781.5 L402.2 782.5 L400.6 783.4 L399.2 784.5 L397.8 785.5 L396.3 786.5 L394.8 787.4 L393.4 788.5 L391.8 789.4 L390.3 790.5 L388.6 791.1 L386.9 791.7 L385.1 791.9 L383.2 792.2 L381.4 792.3 L379.6 792.1 L377.7 792.0 L376.0 792.2 L374.2 792.4" stroke="#f01ef0" stroke-width="1.6" fill="none" opacity="1.0" stroke-linejoin="round"/>
<path d="M374.2 792.5 L372.4 793.5 L370.5 793.5 L368.6 794.2 L366.7 793.6 L365.2 791.8 L363.7 790.8 L361.7 791.2 L360.0 790.5 L358.5 789.5 L357.1 788.3 L355.4 787.7 L353.7 787.2 L352.3 786.2 L350.7 785.4 L349.1 784.6 L348.1 783.1 L346.8 781.9 L345.9 780.4 L345.0 779.0 L344.2 777.5 L343.3 776.1 L342.4 774.7 L340.2 774.2 L339.2 772.8 L338.0 771.5 L337.5 769.9 L336.4 768.5 L335.4 767.1 L333.9 765.8 L332.8 764.2 L333.4 762.3 L332.5 760.7 L332.9 758.9 L332.5 757.2 L332.9 755.5 L332.6 753.8" stroke="#f01ef0" stroke-width="1.2" fill="none" opacity="0.95" stroke-linejoin="round"/>
<path d="M374.2 792.0 L372.5 791.3 L370.7 791.5 L368.9 791.8 L367.1 791.8 L365.3 791.5 L363.4 791.7 L361.7 791.0 L360.2 790.0 L358.4 789.7 L356.6 789.3 L355.4 787.9 L353.6 787.4 L352.0 786.7 L350.2 786.0 L348.4 785.4 L347.4 783.9 L346.5 782.2 L345.3 781.0 L343.7 780.1 L342.8 778.6 L342.2 776.9 L340.7 775.9 L339.0 774.9 L337.9 773.5 L335.9 772.6 L336.8 770.2 L336.6 768.5 L336.0 766.9 L334.7 765.5 L335.6 763.5 L335.5 761.9 L335.0 760.3 L333.9 758.8 L332.8 757.2 L333.8 755.5 L333.8 753.8" stroke="#f01ef0" stroke-width="1.2" fill="none" opacity="0.95" stroke-linejoin="round"/>
<text x="374.70" y="808.50" font-size="8.8" font-weight="normal" text-anchor="middle" fill="#222" stroke="#222" stroke-width="0.22" >MS+ RS 14d</text>
<path d="M424.50 646.40 L424.56 644.09 L424.75 641.78 L425.07 639.49 L425.52 637.21 L426.08 634.96 L426.78 632.74 L427.59 630.56 L428.52 628.42 L429.57 626.33 L430.73 624.30 L432.00 622.33 L433.38 620.42 L434.86 618.58 L436.44 616.82 L438.12 615.15 L439.89 613.55 L441.74 612.05 L443.67 610.64 L445.67 609.33 L447.75 608.12 L449.89 607.02 L452.09 606.02 L454.34 605.14 L456.63 604.36 L458.96 603.71 L461.33 603.17 L463.73 602.74 L466.14 602.44 L468.57 602.26 L471.00 602.20 L471.00 611.30 L469.07 611.35 L467.14 611.49 L465.23 611.73 L463.33 612.07 L461.45 612.50 L459.60 613.02 L457.78 613.63 L455.99 614.33 L454.25 615.13 L452.55 616.00 L450.90 616.96 L449.31 618.00 L447.78 619.12 L446.31 620.32 L444.91 621.58 L443.58 622.91 L442.32 624.31 L441.15 625.77 L440.05 627.28 L439.04 628.85 L438.12 630.46 L437.29 632.12 L436.55 633.82 L435.91 635.55 L435.36 637.32 L434.91 639.10 L434.55 640.91 L434.30 642.73 L434.15 644.56 L434.10 646.40Z" fill="#c41414"/>
<path d="M471.00 602.20 L473.43 602.26 L475.86 602.44 L478.27 602.74 L480.67 603.17 L483.04 603.71 L485.37 604.36 L487.66 605.14 L489.91 606.02 L492.11 607.02 L494.25 608.12 L496.33 609.33 L498.33 610.64 L500.26 612.05 L502.11 613.55 L503.88 615.15 L505.56 616.82 L507.14 618.58 L508.62 620.42 L510.00 622.33 L511.27 624.30 L512.43 626.33 L513.48 628.42 L514.41 630.56 L515.22 632.74 L515.92 634.96 L516.48 637.21 L516.93 639.49 L517.25 641.78 L517.44 644.09 L517.50 646.40 L507.90 646.40 L507.85 644.56 L507.70 642.73 L507.45 640.91 L507.09 639.10 L506.64 637.32 L506.09 635.55 L505.45 633.82 L504.71 632.12 L503.88 630.46 L502.96 628.85 L501.95 627.28 L500.85 625.77 L499.68 624.31 L498.42 622.91 L497.09 621.58 L495.69 620.32 L494.22 619.12 L492.69 618.00 L491.10 616.96 L489.45 616.00 L487.75 615.13 L486.01 614.33 L484.22 613.63 L482.40 613.02 L480.55 612.50 L478.67 612.07 L476.77 611.73 L474.86 611.49 L472.93 611.35 L471.00 611.30Z" fill="#5c5cec"/>
<path d="M517.50 646.40 L517.44 648.71 L517.25 651.02 L516.93 653.31 L516.48 655.59 L515.92 657.84 L515.22 660.06 L514.41 662.24 L513.48 664.38 L512.43 666.47 L511.27 668.50 L510.00 670.47 L508.62 672.38 L507.14 674.22 L505.56 675.98 L503.88 677.65 L502.11 679.25 L500.26 680.75 L498.33 682.16 L496.33 683.47 L494.25 684.68 L492.11 685.78 L489.91 686.78 L487.66 687.66 L485.37 688.44 L483.04 689.09 L480.67 689.63 L478.27 690.06 L475.86 690.36 L473.43 690.54 L471.00 690.60 L471.00 681.50 L472.93 681.45 L474.86 681.31 L476.77 681.07 L478.67 680.73 L480.55 680.30 L482.40 679.78 L484.22 679.17 L486.01 678.47 L487.75 677.67 L489.45 676.80 L491.10 675.84 L492.69 674.80 L494.22 673.68 L495.69 672.48 L497.09 671.22 L498.42 669.89 L499.68 668.49 L500.85 667.03 L501.95 665.52 L502.96 663.95 L503.88 662.34 L504.71 660.68 L505.45 658.98 L506.09 657.25 L506.64 655.48 L507.09 653.70 L507.45 651.89 L507.70 650.07 L507.85 648.24 L507.90 646.40Z" fill="#1f48ee"/>
<path d="M471.00 690.60 L468.57 690.54 L466.14 690.36 L463.73 690.06 L461.33 689.63 L458.96 689.09 L456.63 688.44 L454.34 687.66 L452.09 686.78 L449.89 685.78 L447.75 684.68 L445.67 683.47 L443.67 682.16 L441.74 680.75 L439.89 679.25 L438.12 677.65 L436.44 675.98 L434.86 674.22 L433.38 672.38 L432.00 670.47 L430.73 668.50 L429.57 666.47 L428.52 664.38 L427.59 662.24 L426.78 660.06 L426.08 657.84 L425.52 655.59 L425.07 653.31 L424.75 651.02 L424.56 648.71 L424.50 646.40 L434.10 646.40 L434.15 648.24 L434.30 650.07 L434.55 651.89 L434.91 653.70 L435.36 655.48 L435.91 657.25 L436.55 658.98 L437.29 660.68 L438.12 662.34 L439.04 663.95 L440.05 665.52 L441.15 667.03 L442.32 668.49 L443.58 669.89 L444.91 671.22 L446.31 672.48 L447.78 673.68 L449.31 674.80 L450.90 675.84 L452.55 676.80 L454.25 677.67 L455.99 678.47 L457.78 679.17 L459.60 679.78 L461.45 680.30 L463.33 680.73 L465.23 681.07 L467.14 681.31 L469.07 681.45 L471.00 681.50Z" fill="#d7c7ef"/>
<ellipse cx="471.00" cy="646.40" rx="46.5" ry="44.2" fill="none" stroke="#3c3c5a" stroke-width="0.9"/>
<ellipse cx="471.00" cy="646.40" rx="36.9" ry="35.1" fill="none" stroke="#3c3c5a" stroke-width="0.9"/>
<path d="M471.0 606.6 L469.2 606.7 L467.3 606.4 L465.5 606.6 L463.7 606.8 L461.9 607.3 L460.2 608.2 L458.5 608.8 L456.9 609.6 L455.3 610.5 L453.6 610.9 L451.9 611.4 L450.2 612.1 L448.4 612.6 L446.8 613.5 L445.2 614.5 L443.8 615.5 L442.4 616.7 L441.0 617.9 L440.1 619.5 L439.0 620.9 L437.9 622.2 L436.8 623.6 L435.7 625.0 L434.7 626.5 L433.7 627.9 L432.7 629.4 L431.9 631.0 L431.1 632.6 L430.2 634.2 L429.9 635.9 L429.8 637.7 L429.6 639.5 L429.7 641.2 L429.7 643.0 L429.7 644.7 L429.3 646.4" stroke="#f01ef0" stroke-width="1.6" fill="none" opacity="1.0" stroke-linejoin="round"/>
<path d="M471.0 606.2 L472.9 605.8 L474.7 605.9 L476.6 606.1 L478.4 606.3 L480.3 606.7 L482.0 607.3 L483.7 608.1 L485.5 608.6 L487.2 609.1 L488.9 610.0 L490.5 610.8 L492.3 611.4 L494.0 612.1 L495.5 613.1 L497.0 614.1 L498.7 615.1 L500.0 616.3 L501.1 617.7 L502.3 619.1 L503.3 620.6 L504.3 622.1 L505.1 623.7 L506.5 624.9 L507.6 626.3 L508.5 627.8 L509.7 629.2 L510.7 630.8 L511.4 632.4 L512.2 634.1 L512.9 635.7 L513.1 637.5 L513.3 639.3 L513.6 641.1 L513.2 642.9 L513.1 644.7 L513.4 646.4" stroke="#f01ef0" stroke-width="2.6" fill="none" opacity="0.4" stroke-linejoin="round"/>
<path d="M512.7 646.4 L512.9 648.1 L512.9 649.9 L512.6 651.6 L512.4 653.3 L511.9 655.0 L511.3 656.7 L510.6 658.3 L509.7 659.8 L509.2 661.4 L508.5 663.0 L507.8 664.6 L507.2 666.3 L506.3 667.8 L505.4 669.3 L504.5 670.9 L503.4 672.3 L502.1 673.5 L500.8 674.7 L499.4 675.9 L497.9 676.8 L496.3 677.7 L495.0 679.0 L493.5 679.9 L491.8 680.7 L490.3 681.7 L488.8 682.6 L487.2 683.6 L485.5 684.3 L483.7 684.7 L481.9 685.0 L480.1 685.2 L478.2 685.4 L476.4 685.4 L474.6 685.2 L472.8 685.4 L471.0 685.8" stroke="#f01ef0" stroke-width="1.6" fill="none" opacity="1.0" stroke-linejoin="round"/>
<path d="M471.0 686.5 L469.2 685.8 L467.4 685.2 L465.5 685.8 L463.7 685.9 L461.8 685.9 L459.9 685.9 L458.3 684.6 L456.5 684.2 L454.6 684.1 L453.1 682.9 L451.3 682.4 L449.8 681.3 L448.8 679.6 L447.1 678.9 L445.8 677.6 L444.2 676.7 L443.1 675.4 L441.7 674.3 L441.5 672.1 L439.2 671.7 L437.7 670.7 L437.0 669.0 L436.6 667.3 L435.4 665.9 L434.0 664.7 L432.8 663.3 L431.8 661.8 L432.3 659.8 L432.2 658.0 L430.7 656.7 L430.3 655.0 L431.1 653.1 L431.3 651.4 L431.7 649.7 L431.7 648.0 L430.4 646.4" stroke="#f01ef0" stroke-width="1.2" fill="none" opacity="0.95" stroke-linejoin="round"/>
<path d="M471.0 684.6 L469.2 684.8 L467.5 684.4 L465.8 683.8 L464.0 684.3 L462.3 683.6 L460.6 683.2 L458.9 682.8 L457.3 682.2 L455.6 681.8 L454.0 681.2 L452.5 680.2 L450.6 680.0 L449.5 678.5 L447.9 677.8 L446.8 676.4 L445.8 675.0 L444.9 673.5 L443.2 672.9 L442.1 671.6 L440.1 671.0 L439.6 669.3 L438.6 668.0 L438.4 666.2 L436.2 665.5 L435.3 664.1 L434.7 662.5 L434.0 661.0 L432.7 659.6 L433.5 657.6 L433.7 655.9 L432.7 654.5 L432.2 652.9 L432.3 651.2 L431.0 649.7 L429.6 648.1 L430.3 646.4" stroke="#f01ef0" stroke-width="1.2" fill="none" opacity="0.95" stroke-linejoin="round"/>
<text x="471.50" y="700.70" font-size="8.8" font-weight="normal" text-anchor="middle" fill="#222" stroke="#222" stroke-width="0.22" >RS 21d</text>
<path d="M424.50 753.80 L424.56 751.51 L424.75 749.22 L425.07 746.95 L425.52 744.69 L426.08 742.46 L426.78 740.27 L427.59 738.10 L428.52 735.98 L429.57 733.92 L430.73 731.90 L432.00 729.94 L433.38 728.06 L434.86 726.24 L436.44 724.49 L438.12 722.83 L439.89 721.25 L441.74 719.76 L443.67 718.37 L445.67 717.07 L447.75 715.87 L449.89 714.77 L452.09 713.79 L454.34 712.91 L456.63 712.14 L458.96 711.49 L461.33 710.96 L463.73 710.54 L466.14 710.24 L468.57 710.06 L471.00 710.00 L471.00 719.10 L469.07 719.15 L467.14 719.29 L465.23 719.53 L463.33 719.86 L461.45 720.28 L459.60 720.80 L457.78 721.40 L455.99 722.10 L454.25 722.88 L452.55 723.75 L450.90 724.70 L449.31 725.73 L447.78 726.83 L446.31 728.01 L444.91 729.26 L443.58 730.58 L442.32 731.96 L441.15 733.40 L440.05 734.90 L439.04 736.45 L438.12 738.05 L437.29 739.69 L436.55 741.36 L435.91 743.08 L435.36 744.82 L434.91 746.59 L434.55 748.37 L434.30 750.17 L434.15 751.98 L434.10 753.80Z" fill="#c41414"/>
<path d="M471.00 710.00 L473.43 710.06 L475.86 710.24 L478.27 710.54 L480.67 710.96 L483.04 711.49 L485.37 712.14 L487.66 712.91 L489.91 713.79 L492.11 714.77 L494.25 715.87 L496.33 717.07 L498.33 718.37 L500.26 719.76 L502.11 721.25 L503.88 722.83 L505.56 724.49 L507.14 726.24 L508.62 728.06 L510.00 729.94 L511.27 731.90 L512.43 733.92 L513.48 735.98 L514.41 738.10 L515.22 740.27 L515.92 742.46 L516.48 744.69 L516.93 746.95 L517.25 749.22 L517.44 751.51 L517.50 753.80 L507.90 753.80 L507.85 751.98 L507.70 750.17 L507.45 748.37 L507.09 746.59 L506.64 744.82 L506.09 743.08 L505.45 741.36 L504.71 739.69 L503.88 738.05 L502.96 736.45 L501.95 734.90 L500.85 733.40 L499.68 731.96 L498.42 730.58 L497.09 729.26 L495.69 728.01 L494.22 726.83 L492.69 725.73 L491.10 724.70 L489.45 723.75 L487.75 722.88 L486.01 722.10 L484.22 721.40 L482.40 720.80 L480.55 720.28 L478.67 719.86 L476.77 719.53 L474.86 719.29 L472.93 719.15 L471.00 719.10Z" fill="#5c5cec"/>
<path d="M517.50 753.80 L517.44 756.09 L517.25 758.38 L516.93 760.65 L516.48 762.91 L515.92 765.14 L515.22 767.33 L514.41 769.50 L513.48 771.62 L512.43 773.68 L511.27 775.70 L510.00 777.66 L508.62 779.54 L507.14 781.36 L505.56 783.11 L503.88 784.77 L502.11 786.35 L500.26 787.84 L498.33 789.23 L496.33 790.53 L494.25 791.73 L492.11 792.83 L489.91 793.81 L487.66 794.69 L485.37 795.46 L483.04 796.11 L480.67 796.64 L478.27 797.06 L475.86 797.36 L473.43 797.54 L471.00 797.60 L471.00 788.50 L472.93 788.45 L474.86 788.31 L476.77 788.07 L478.67 787.74 L480.55 787.32 L482.40 786.80 L484.22 786.20 L486.01 785.50 L487.75 784.72 L489.45 783.85 L491.10 782.90 L492.69 781.87 L494.22 780.77 L495.69 779.59 L497.09 778.34 L498.42 777.02 L499.68 775.64 L500.85 774.20 L501.95 772.70 L502.96 771.15 L503.88 769.55 L504.71 767.91 L505.45 766.24 L506.09 764.52 L506.64 762.78 L507.09 761.01 L507.45 759.23 L507.70 757.43 L507.85 755.62 L507.90 753.80Z" fill="#1f48ee"/>
<path d="M471.00 797.60 L468.57 797.54 L466.14 797.36 L463.73 797.06 L461.33 796.64 L458.96 796.11 L456.63 795.46 L454.34 794.69 L452.09 793.81 L449.89 792.83 L447.75 791.73 L445.67 790.53 L443.67 789.23 L441.74 787.84 L439.89 786.35 L438.12 784.77 L436.44 783.11 L434.86 781.36 L433.38 779.54 L432.00 777.66 L430.73 775.70 L429.57 773.68 L428.52 771.62 L427.59 769.50 L426.78 767.33 L426.08 765.14 L425.52 762.91 L425.07 760.65 L424.75 758.38 L424.56 756.09 L424.50 753.80 L434.10 753.80 L434.15 755.62 L434.30 757.43 L434.55 759.23 L434.91 761.01 L435.36 762.78 L435.91 764.52 L436.55 766.24 L437.29 767.91 L438.12 769.55 L439.04 771.15 L440.05 772.70 L441.15 774.20 L442.32 775.64 L443.58 777.02 L444.91 778.34 L446.31 779.59 L447.78 780.77 L449.31 781.87 L450.90 782.90 L452.55 783.85 L454.25 784.72 L455.99 785.50 L457.78 786.20 L459.60 786.80 L461.45 787.32 L463.33 787.74 L465.23 788.07 L467.14 788.31 L469.07 788.45 L471.00 788.50Z" fill="#d7c7ef"/>
<ellipse cx="471.00" cy="753.80" rx="46.5" ry="43.8" fill="none" stroke="#3c3c5a" stroke-width="0.9"/>
<ellipse cx="471.00" cy="753.80" rx="36.9" ry="34.699999999999996" fill="none" stroke="#3c3c5a" stroke-width="0.9"/>
<path d="M512.4 745.5 L512.7 747.3 L513.2 749.0 L513.7 750.7 L513.7 752.5 L513.4 754.3 L513.2 756.1 L512.8 757.8 L512.2 759.5 L512.0 761.3 L511.5 762.9 L511.1 764.6 L510.6 766.3 L510.0 768.0 L509.3 769.6 L508.8 771.3 L507.9 772.9 L506.8 774.3 L505.8 775.8 L504.7 777.2 L503.4 778.5 L502.1 779.7 L501.0 781.1 L499.6 782.3 L498.4 783.7 L497.2 785.0 L495.7 786.2 L494.3 787.3 L492.7 788.4 L491.1 789.3 L489.4 790.1 L487.6 790.6 L485.7 790.9 L483.8 791.2 L482.0 791.6 L480.2 792.0 L478.4 792.6 L476.6 793.2 L474.8 793.5 L472.9 793.9 L471.0 793.9" stroke="#f01ef0" stroke-width="1.6" fill="none" opacity="1.0" stroke-linejoin="round"/>
<text x="471.50" y="808.50" font-size="8.8" font-weight="normal" text-anchor="middle" fill="#222" stroke="#222" stroke-width="0.22" >MS+ RS 21d</text>
</svg>
</body></html>
